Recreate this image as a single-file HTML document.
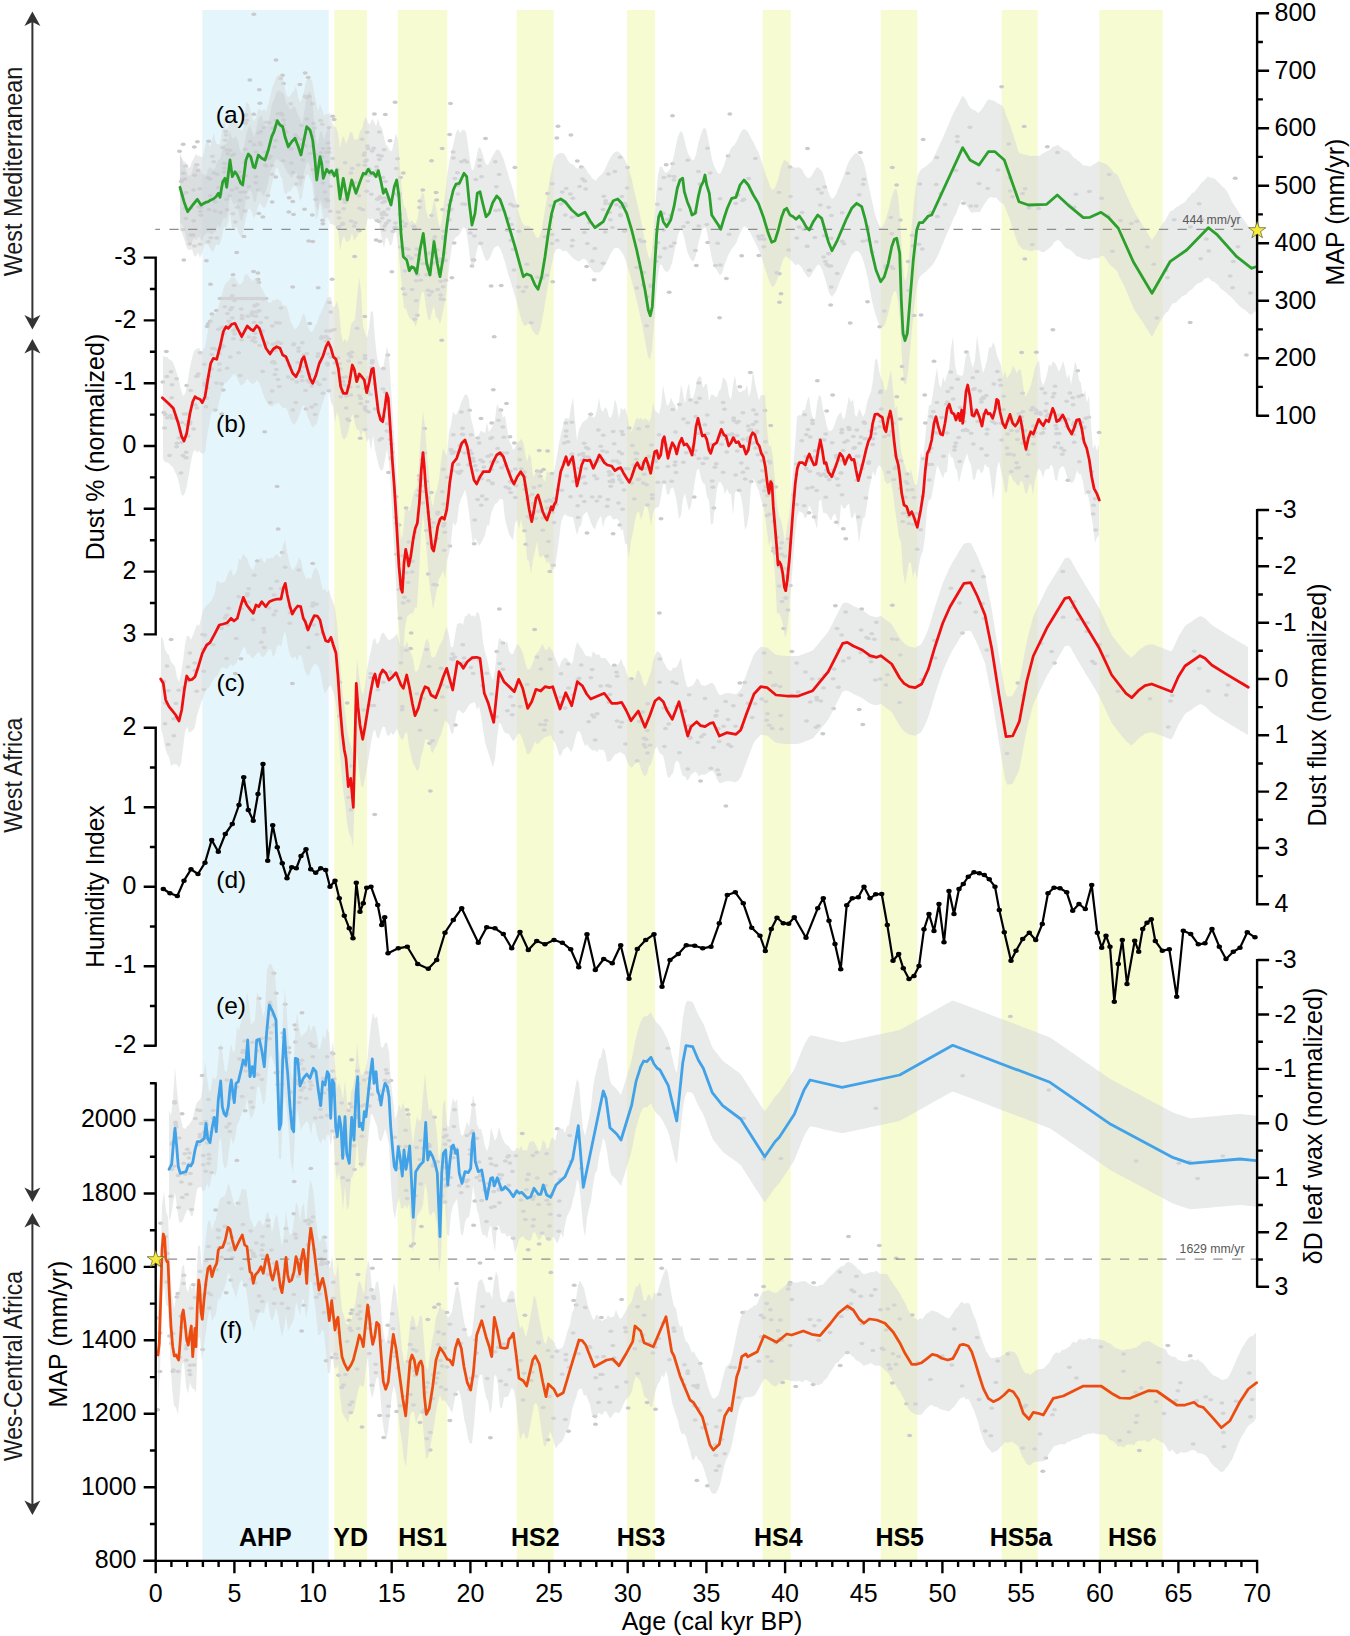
<!DOCTYPE html><html><head><meta charset="utf-8"><title>Figure</title><style>html,body{margin:0;padding:0;background:#fff}svg{display:block}text{font-family:"Liberation Sans",sans-serif;fill:#000}.tk{font-size:25px}.ti{font-size:25px}.lb{font-size:24.5px}.ev{font-size:25px;font-weight:bold;text-anchor:middle}.rg{font-size:25px;fill:#1a1a1a}.sm{font-size:12.3px;fill:#585858}</style></head><body>
<svg width="1350" height="1636" viewBox="0 0 1350 1636">
<rect width="1350" height="1636" fill="#fff"/>
<rect x="202.3" y="10" width="126.4" height="1550" fill="#e4f6fb"/>
<rect x="334.3" y="10" width="32.7" height="1550" fill="#f7fbd2"/>
<rect x="397.7" y="10" width="49.6" height="1550" fill="#f7fbd2"/>
<rect x="516.7" y="10" width="37" height="1550" fill="#f7fbd2"/>
<rect x="627" y="10" width="28" height="1550" fill="#f7fbd2"/>
<rect x="762.7" y="10" width="28" height="1550" fill="#f7fbd2"/>
<rect x="880.7" y="10" width="36.6" height="1550" fill="#f7fbd2"/>
<rect x="1001.7" y="10" width="36" height="1550" fill="#f7fbd2"/>
<rect x="1099.3" y="10" width="63.4" height="1550" fill="#f7fbd2"/>
<g fill="#cacacd"><ellipse cx="511.4" cy="224.4" rx="2.5" ry="1.75"/><ellipse cx="275.9" cy="140.4" rx="2.5" ry="1.75"/><ellipse cx="698.7" cy="225.9" rx="2.5" ry="1.75"/><ellipse cx="743.9" cy="199.3" rx="2.5" ry="1.75"/><ellipse cx="306.4" cy="97.5" rx="2.5" ry="1.75"/><ellipse cx="778.9" cy="192.5" rx="2.5" ry="1.75"/><ellipse cx="227.1" cy="209.7" rx="2.5" ry="1.75"/><ellipse cx="763.8" cy="246.8" rx="2.5" ry="1.75"/><ellipse cx="364.6" cy="152.9" rx="2.5" ry="1.75"/><ellipse cx="908.6" cy="290.4" rx="2.5" ry="1.75"/><ellipse cx="390" cy="140.7" rx="2.5" ry="1.75"/><ellipse cx="643.9" cy="272.6" rx="2.5" ry="1.75"/><ellipse cx="364.2" cy="175.3" rx="2.5" ry="1.75"/><ellipse cx="531.2" cy="322.7" rx="2.5" ry="1.75"/><ellipse cx="253.6" cy="114.3" rx="2.5" ry="1.75"/><ellipse cx="679.9" cy="209.8" rx="2.5" ry="1.75"/><ellipse cx="259.3" cy="89.8" rx="2.5" ry="1.75"/><ellipse cx="890.9" cy="217.5" rx="2.5" ry="1.75"/><ellipse cx="646.6" cy="325.8" rx="2.5" ry="1.75"/><ellipse cx="245.6" cy="175.8" rx="2.5" ry="1.75"/><ellipse cx="842.1" cy="212.8" rx="2.5" ry="1.75"/><ellipse cx="863.8" cy="179.3" rx="2.5" ry="1.75"/><ellipse cx="542.7" cy="278" rx="2.5" ry="1.75"/><ellipse cx="312.2" cy="145.9" rx="2.5" ry="1.75"/><ellipse cx="687.6" cy="160.2" rx="2.5" ry="1.75"/><ellipse cx="620.4" cy="215.8" rx="2.5" ry="1.75"/><ellipse cx="605.5" cy="203.5" rx="2.5" ry="1.75"/><ellipse cx="263.7" cy="127.4" rx="2.5" ry="1.75"/><ellipse cx="417.5" cy="275.1" rx="2.5" ry="1.75"/><ellipse cx="328.9" cy="152.3" rx="2.5" ry="1.75"/><ellipse cx="758.8" cy="255.4" rx="2.5" ry="1.75"/><ellipse cx="850.2" cy="322.9" rx="2.5" ry="1.75"/><ellipse cx="876.3" cy="241.7" rx="2.5" ry="1.75"/><ellipse cx="828.9" cy="266" rx="2.5" ry="1.75"/><ellipse cx="392.9" cy="231.6" rx="2.5" ry="1.75"/><ellipse cx="759.7" cy="238.9" rx="2.5" ry="1.75"/><ellipse cx="552.1" cy="234.4" rx="2.5" ry="1.75"/><ellipse cx="828.8" cy="253.8" rx="2.5" ry="1.75"/><ellipse cx="552" cy="243.4" rx="2.5" ry="1.75"/><ellipse cx="671" cy="246.3" rx="2.5" ry="1.75"/><ellipse cx="284.2" cy="129.9" rx="2.5" ry="1.75"/><ellipse cx="707.5" cy="148.2" rx="2.5" ry="1.75"/><ellipse cx="719.9" cy="198.8" rx="2.5" ry="1.75"/><ellipse cx="485.5" cy="138.5" rx="2.5" ry="1.75"/><ellipse cx="892.3" cy="167.6" rx="2.5" ry="1.75"/><ellipse cx="408" cy="256.3" rx="2.5" ry="1.75"/><ellipse cx="517.1" cy="205.9" rx="2.5" ry="1.75"/><ellipse cx="379.3" cy="132" rx="2.5" ry="1.75"/><ellipse cx="937.3" cy="216.4" rx="2.5" ry="1.75"/><ellipse cx="208.3" cy="241.7" rx="2.5" ry="1.75"/><ellipse cx="378.2" cy="209.3" rx="2.5" ry="1.75"/><ellipse cx="537.5" cy="277.3" rx="2.5" ry="1.75"/><ellipse cx="404.6" cy="226.2" rx="2.5" ry="1.75"/><ellipse cx="804.3" cy="229.2" rx="2.5" ry="1.75"/><ellipse cx="847.8" cy="173.2" rx="2.5" ry="1.75"/><ellipse cx="577.3" cy="161.1" rx="2.5" ry="1.75"/><ellipse cx="669.4" cy="176" rx="2.5" ry="1.75"/><ellipse cx="918.9" cy="244.2" rx="2.5" ry="1.75"/><ellipse cx="266.2" cy="166" rx="2.5" ry="1.75"/><ellipse cx="656.3" cy="261.2" rx="2.5" ry="1.75"/><ellipse cx="790.5" cy="196.6" rx="2.5" ry="1.75"/><ellipse cx="313.5" cy="123.5" rx="2.5" ry="1.75"/><ellipse cx="923.1" cy="139.6" rx="2.5" ry="1.75"/><ellipse cx="379.3" cy="159.5" rx="2.5" ry="1.75"/><ellipse cx="436.7" cy="200" rx="2.5" ry="1.75"/><ellipse cx="736.9" cy="193.8" rx="2.5" ry="1.75"/><ellipse cx="936.9" cy="157.4" rx="2.5" ry="1.75"/><ellipse cx="610.3" cy="219.7" rx="2.5" ry="1.75"/><ellipse cx="313" cy="135.9" rx="2.5" ry="1.75"/><ellipse cx="367.1" cy="170.6" rx="2.5" ry="1.75"/><ellipse cx="332.7" cy="116.3" rx="2.5" ry="1.75"/><ellipse cx="513.2" cy="249.6" rx="2.5" ry="1.75"/><ellipse cx="674.3" cy="242.9" rx="2.5" ry="1.75"/><ellipse cx="462.5" cy="204" rx="2.5" ry="1.75"/><ellipse cx="643.1" cy="285" rx="2.5" ry="1.75"/><ellipse cx="807.5" cy="148.4" rx="2.5" ry="1.75"/><ellipse cx="384.2" cy="149.7" rx="2.5" ry="1.75"/><ellipse cx="433.2" cy="263.1" rx="2.5" ry="1.75"/><ellipse cx="445.4" cy="260.6" rx="2.5" ry="1.75"/><ellipse cx="605.6" cy="200.7" rx="2.5" ry="1.75"/><ellipse cx="254.2" cy="144.7" rx="2.5" ry="1.75"/><ellipse cx="305.4" cy="145.8" rx="2.5" ry="1.75"/><ellipse cx="913.1" cy="245.7" rx="2.5" ry="1.75"/><ellipse cx="657.7" cy="242.7" rx="2.5" ry="1.75"/><ellipse cx="587.4" cy="243.5" rx="2.5" ry="1.75"/><ellipse cx="902.9" cy="379" rx="2.5" ry="1.75"/><ellipse cx="526.9" cy="264.3" rx="2.5" ry="1.75"/><ellipse cx="526.1" cy="286.9" rx="2.5" ry="1.75"/><ellipse cx="197.9" cy="170.4" rx="2.5" ry="1.75"/><ellipse cx="295.5" cy="135" rx="2.5" ry="1.75"/><ellipse cx="286.6" cy="131.9" rx="2.5" ry="1.75"/><ellipse cx="312.3" cy="215" rx="2.5" ry="1.75"/><ellipse cx="872.3" cy="252" rx="2.5" ry="1.75"/><ellipse cx="764" cy="239.3" rx="2.5" ry="1.75"/><ellipse cx="464.6" cy="160.2" rx="2.5" ry="1.75"/><ellipse cx="197.1" cy="164.7" rx="2.5" ry="1.75"/><ellipse cx="265.1" cy="164.9" rx="2.5" ry="1.75"/><ellipse cx="190.8" cy="235" rx="2.5" ry="1.75"/><ellipse cx="454.1" cy="243" rx="2.5" ry="1.75"/><ellipse cx="344.8" cy="202.5" rx="2.5" ry="1.75"/><ellipse cx="499.1" cy="174.4" rx="2.5" ry="1.75"/><ellipse cx="867.7" cy="227.1" rx="2.5" ry="1.75"/><ellipse cx="198.5" cy="207.1" rx="2.5" ry="1.75"/><ellipse cx="374" cy="175.3" rx="2.5" ry="1.75"/><ellipse cx="636.6" cy="267.6" rx="2.5" ry="1.75"/><ellipse cx="582.5" cy="179.1" rx="2.5" ry="1.75"/><ellipse cx="400.5" cy="177.6" rx="2.5" ry="1.75"/><ellipse cx="830.6" cy="305" rx="2.5" ry="1.75"/><ellipse cx="235.3" cy="221.9" rx="2.5" ry="1.75"/><ellipse cx="620.7" cy="207.1" rx="2.5" ry="1.75"/><ellipse cx="570.4" cy="193.9" rx="2.5" ry="1.75"/><ellipse cx="479.5" cy="165.9" rx="2.5" ry="1.75"/><ellipse cx="454.9" cy="178.6" rx="2.5" ry="1.75"/><ellipse cx="739.8" cy="386.7" rx="2.5" ry="1.75"/><ellipse cx="495.7" cy="210.4" rx="2.5" ry="1.75"/><ellipse cx="465" cy="204.3" rx="2.5" ry="1.75"/><ellipse cx="696.3" cy="265.5" rx="2.5" ry="1.75"/><ellipse cx="779.5" cy="302.2" rx="2.5" ry="1.75"/><ellipse cx="491.1" cy="286.1" rx="2.5" ry="1.75"/><ellipse cx="338.2" cy="227.4" rx="2.5" ry="1.75"/><ellipse cx="789.9" cy="167.1" rx="2.5" ry="1.75"/><ellipse cx="921.1" cy="315.1" rx="2.5" ry="1.75"/><ellipse cx="912.4" cy="235.2" rx="2.5" ry="1.75"/><ellipse cx="322.4" cy="124.3" rx="2.5" ry="1.75"/><ellipse cx="762.3" cy="235.8" rx="2.5" ry="1.75"/><ellipse cx="908.2" cy="261.6" rx="2.5" ry="1.75"/><ellipse cx="414.6" cy="319.3" rx="2.5" ry="1.75"/><ellipse cx="565.3" cy="215" rx="2.5" ry="1.75"/><ellipse cx="821.5" cy="193.1" rx="2.5" ry="1.75"/><ellipse cx="647.3" cy="296.7" rx="2.5" ry="1.75"/><ellipse cx="695.4" cy="250.4" rx="2.5" ry="1.75"/><ellipse cx="664.8" cy="248.2" rx="2.5" ry="1.75"/><ellipse cx="450.7" cy="200.6" rx="2.5" ry="1.75"/><ellipse cx="651" cy="286.6" rx="2.5" ry="1.75"/><ellipse cx="670.4" cy="218.5" rx="2.5" ry="1.75"/><ellipse cx="382.6" cy="202.5" rx="2.5" ry="1.75"/><ellipse cx="440.2" cy="259.1" rx="2.5" ry="1.75"/><ellipse cx="672.6" cy="163.7" rx="2.5" ry="1.75"/><ellipse cx="867.6" cy="240.3" rx="2.5" ry="1.75"/><ellipse cx="472" cy="265.9" rx="2.5" ry="1.75"/><ellipse cx="301.5" cy="125.4" rx="2.5" ry="1.75"/><ellipse cx="663.5" cy="213.2" rx="2.5" ry="1.75"/><ellipse cx="698.5" cy="171.5" rx="2.5" ry="1.75"/><ellipse cx="394.6" cy="193.7" rx="2.5" ry="1.75"/><ellipse cx="945" cy="204.4" rx="2.5" ry="1.75"/><ellipse cx="699.8" cy="183.9" rx="2.5" ry="1.75"/><ellipse cx="552.7" cy="281.8" rx="2.5" ry="1.75"/><ellipse cx="183.4" cy="173.2" rx="2.5" ry="1.75"/><ellipse cx="594.8" cy="248.6" rx="2.5" ry="1.75"/><ellipse cx="518.5" cy="286.9" rx="2.5" ry="1.75"/><ellipse cx="586.6" cy="266.6" rx="2.5" ry="1.75"/><ellipse cx="475.8" cy="179.4" rx="2.5" ry="1.75"/><ellipse cx="579.5" cy="186.5" rx="2.5" ry="1.75"/><ellipse cx="461.4" cy="161.7" rx="2.5" ry="1.75"/><ellipse cx="232.3" cy="155.6" rx="2.5" ry="1.75"/><ellipse cx="451.9" cy="277.7" rx="2.5" ry="1.75"/><ellipse cx="562.3" cy="192" rx="2.5" ry="1.75"/><ellipse cx="589.4" cy="222.8" rx="2.5" ry="1.75"/><ellipse cx="741.7" cy="255.8" rx="2.5" ry="1.75"/><ellipse cx="809.3" cy="270.3" rx="2.5" ry="1.75"/><ellipse cx="473" cy="259.8" rx="2.5" ry="1.75"/><ellipse cx="603.8" cy="196.3" rx="2.5" ry="1.75"/><ellipse cx="936.2" cy="184.5" rx="2.5" ry="1.75"/><ellipse cx="674.1" cy="176.6" rx="2.5" ry="1.75"/><ellipse cx="351.1" cy="220.9" rx="2.5" ry="1.75"/><ellipse cx="742.7" cy="200.6" rx="2.5" ry="1.75"/><ellipse cx="639.9" cy="239.8" rx="2.5" ry="1.75"/><ellipse cx="748.6" cy="178.4" rx="2.5" ry="1.75"/><ellipse cx="444.3" cy="252.8" rx="2.5" ry="1.75"/><ellipse cx="571.9" cy="217.2" rx="2.5" ry="1.75"/><ellipse cx="564.8" cy="202.2" rx="2.5" ry="1.75"/><ellipse cx="547.6" cy="193.4" rx="2.5" ry="1.75"/><ellipse cx="824.3" cy="235.7" rx="2.5" ry="1.75"/><ellipse cx="572.9" cy="198.2" rx="2.5" ry="1.75"/><ellipse cx="499.3" cy="209.9" rx="2.5" ry="1.75"/><ellipse cx="906.3" cy="332.1" rx="2.5" ry="1.75"/><ellipse cx="781" cy="293.8" rx="2.5" ry="1.75"/><ellipse cx="720.4" cy="264.9" rx="2.5" ry="1.75"/><ellipse cx="434.3" cy="245.1" rx="2.5" ry="1.75"/><ellipse cx="291.4" cy="163.1" rx="2.5" ry="1.75"/><ellipse cx="842.3" cy="241.2" rx="2.5" ry="1.75"/><ellipse cx="181.3" cy="181.6" rx="2.5" ry="1.75"/><ellipse cx="218.1" cy="187.6" rx="2.5" ry="1.75"/><ellipse cx="830.9" cy="266" rx="2.5" ry="1.75"/><ellipse cx="280.6" cy="78.6" rx="2.5" ry="1.75"/><ellipse cx="408.3" cy="249.3" rx="2.5" ry="1.75"/><ellipse cx="729.8" cy="114" rx="2.5" ry="1.75"/><ellipse cx="428" cy="290.2" rx="2.5" ry="1.75"/><ellipse cx="431.5" cy="160.8" rx="2.5" ry="1.75"/><ellipse cx="378" cy="199" rx="2.5" ry="1.75"/><ellipse cx="609.6" cy="212.6" rx="2.5" ry="1.75"/><ellipse cx="683.5" cy="226.5" rx="2.5" ry="1.75"/><ellipse cx="609.9" cy="204" rx="2.5" ry="1.75"/><ellipse cx="695.6" cy="212.2" rx="2.5" ry="1.75"/><ellipse cx="384.8" cy="201.6" rx="2.5" ry="1.75"/><ellipse cx="481.6" cy="176.8" rx="2.5" ry="1.75"/><ellipse cx="803.7" cy="229.3" rx="2.5" ry="1.75"/><ellipse cx="788.6" cy="249.9" rx="2.5" ry="1.75"/><ellipse cx="397.5" cy="158.8" rx="2.5" ry="1.75"/><ellipse cx="367.9" cy="148.7" rx="2.5" ry="1.75"/><ellipse cx="501.2" cy="285.5" rx="2.5" ry="1.75"/><ellipse cx="369.2" cy="169" rx="2.5" ry="1.75"/><ellipse cx="657.5" cy="204.2" rx="2.5" ry="1.75"/><ellipse cx="518.9" cy="231.2" rx="2.5" ry="1.75"/><ellipse cx="259.8" cy="103.2" rx="2.5" ry="1.75"/><ellipse cx="391.9" cy="271.7" rx="2.5" ry="1.75"/><ellipse cx="496.3" cy="186.7" rx="2.5" ry="1.75"/><ellipse cx="561" cy="203.9" rx="2.5" ry="1.75"/><ellipse cx="510.9" cy="240.5" rx="2.5" ry="1.75"/><ellipse cx="820.3" cy="205.1" rx="2.5" ry="1.75"/><ellipse cx="215" cy="201.8" rx="2.5" ry="1.75"/><ellipse cx="244.4" cy="162.8" rx="2.5" ry="1.75"/><ellipse cx="457.8" cy="193.9" rx="2.5" ry="1.75"/><ellipse cx="885.8" cy="268" rx="2.5" ry="1.75"/><ellipse cx="183.2" cy="144.3" rx="2.5" ry="1.75"/><ellipse cx="245.5" cy="123.2" rx="2.5" ry="1.75"/><ellipse cx="666.2" cy="164.8" rx="2.5" ry="1.75"/><ellipse cx="620.3" cy="214.8" rx="2.5" ry="1.75"/><ellipse cx="687.7" cy="222.5" rx="2.5" ry="1.75"/><ellipse cx="334.1" cy="119.6" rx="2.5" ry="1.75"/><ellipse cx="507" cy="230.2" rx="2.5" ry="1.75"/><ellipse cx="581.3" cy="167" rx="2.5" ry="1.75"/><ellipse cx="246.1" cy="115.1" rx="2.5" ry="1.75"/><ellipse cx="616.4" cy="204.8" rx="2.5" ry="1.75"/><ellipse cx="451.1" cy="209.3" rx="2.5" ry="1.75"/><ellipse cx="636.7" cy="287.9" rx="2.5" ry="1.75"/><ellipse cx="651.1" cy="285.2" rx="2.5" ry="1.75"/><ellipse cx="860.3" cy="152.5" rx="2.5" ry="1.75"/><ellipse cx="479.8" cy="159.9" rx="2.5" ry="1.75"/><ellipse cx="382.9" cy="177.5" rx="2.5" ry="1.75"/><ellipse cx="420.7" cy="280.3" rx="2.5" ry="1.75"/><ellipse cx="584.8" cy="180.9" rx="2.5" ry="1.75"/><ellipse cx="717.7" cy="243.3" rx="2.5" ry="1.75"/><ellipse cx="283.5" cy="83.5" rx="2.5" ry="1.75"/><ellipse cx="416.3" cy="280.8" rx="2.5" ry="1.75"/><ellipse cx="301.6" cy="144.7" rx="2.5" ry="1.75"/><ellipse cx="776.7" cy="272.7" rx="2.5" ry="1.75"/><ellipse cx="796.8" cy="238" rx="2.5" ry="1.75"/><ellipse cx="185.6" cy="165.9" rx="2.5" ry="1.75"/><ellipse cx="556.8" cy="138.1" rx="2.5" ry="1.75"/><ellipse cx="440.5" cy="261.8" rx="2.5" ry="1.75"/><ellipse cx="514.9" cy="167.4" rx="2.5" ry="1.75"/><ellipse cx="814.8" cy="237.6" rx="2.5" ry="1.75"/><ellipse cx="243.9" cy="236.4" rx="2.5" ry="1.75"/><ellipse cx="859.1" cy="194.8" rx="2.5" ry="1.75"/><ellipse cx="891.8" cy="233.7" rx="2.5" ry="1.75"/><ellipse cx="862.8" cy="241.2" rx="2.5" ry="1.75"/><ellipse cx="544.9" cy="236.8" rx="2.5" ry="1.75"/><ellipse cx="552.1" cy="183.8" rx="2.5" ry="1.75"/><ellipse cx="624.4" cy="231.3" rx="2.5" ry="1.75"/><ellipse cx="271.9" cy="165.6" rx="2.5" ry="1.75"/><ellipse cx="194.6" cy="175.3" rx="2.5" ry="1.75"/><ellipse cx="585.6" cy="189.1" rx="2.5" ry="1.75"/><ellipse cx="328.8" cy="148.2" rx="2.5" ry="1.75"/><ellipse cx="355.4" cy="222.7" rx="2.5" ry="1.75"/><ellipse cx="381.8" cy="213.1" rx="2.5" ry="1.75"/><ellipse cx="224.5" cy="167.9" rx="2.5" ry="1.75"/><ellipse cx="576.6" cy="215.8" rx="2.5" ry="1.75"/><ellipse cx="884.3" cy="310.9" rx="2.5" ry="1.75"/><ellipse cx="594.1" cy="279.7" rx="2.5" ry="1.75"/><ellipse cx="663.7" cy="229.9" rx="2.5" ry="1.75"/><ellipse cx="571.9" cy="245.9" rx="2.5" ry="1.75"/><ellipse cx="922.3" cy="249" rx="2.5" ry="1.75"/><ellipse cx="867.5" cy="301.7" rx="2.5" ry="1.75"/><ellipse cx="299.9" cy="84.6" rx="2.5" ry="1.75"/><ellipse cx="843.9" cy="243.8" rx="2.5" ry="1.75"/><ellipse cx="614.9" cy="171.4" rx="2.5" ry="1.75"/><ellipse cx="183.1" cy="229.6" rx="2.5" ry="1.75"/><ellipse cx="419.9" cy="201.1" rx="2.5" ry="1.75"/><ellipse cx="663.9" cy="177.5" rx="2.5" ry="1.75"/><ellipse cx="546.9" cy="275.3" rx="2.5" ry="1.75"/><ellipse cx="220.5" cy="212.6" rx="2.5" ry="1.75"/><ellipse cx="930.8" cy="212.5" rx="2.5" ry="1.75"/><ellipse cx="566.2" cy="188.5" rx="2.5" ry="1.75"/><ellipse cx="206.4" cy="260.8" rx="2.5" ry="1.75"/><ellipse cx="377.6" cy="170.1" rx="2.5" ry="1.75"/><ellipse cx="474.5" cy="235.9" rx="2.5" ry="1.75"/><ellipse cx="405.6" cy="248.4" rx="2.5" ry="1.75"/><ellipse cx="437.7" cy="289.6" rx="2.5" ry="1.75"/><ellipse cx="326.8" cy="152.3" rx="2.5" ry="1.75"/><ellipse cx="670.7" cy="215.2" rx="2.5" ry="1.75"/><ellipse cx="216.7" cy="237.9" rx="2.5" ry="1.75"/><ellipse cx="831.4" cy="215.5" rx="2.5" ry="1.75"/><ellipse cx="449.6" cy="134.5" rx="2.5" ry="1.75"/><ellipse cx="831.4" cy="286.9" rx="2.5" ry="1.75"/><ellipse cx="885.4" cy="266.1" rx="2.5" ry="1.75"/><ellipse cx="728.1" cy="156.1" rx="2.5" ry="1.75"/><ellipse cx="557.1" cy="240.4" rx="2.5" ry="1.75"/><ellipse cx="262.9" cy="217" rx="2.5" ry="1.75"/><ellipse cx="707.8" cy="242.4" rx="2.5" ry="1.75"/><ellipse cx="779.4" cy="273.7" rx="2.5" ry="1.75"/><ellipse cx="405.6" cy="223.7" rx="2.5" ry="1.75"/><ellipse cx="621.9" cy="196.6" rx="2.5" ry="1.75"/><ellipse cx="807.2" cy="246.3" rx="2.5" ry="1.75"/><ellipse cx="182.1" cy="180" rx="2.5" ry="1.75"/><ellipse cx="603.1" cy="263.2" rx="2.5" ry="1.75"/><ellipse cx="388.9" cy="220.8" rx="2.5" ry="1.75"/><ellipse cx="429.2" cy="252.9" rx="2.5" ry="1.75"/><ellipse cx="245.1" cy="210.9" rx="2.5" ry="1.75"/><ellipse cx="450.5" cy="103.6" rx="2.5" ry="1.75"/><ellipse cx="755.4" cy="158.6" rx="2.5" ry="1.75"/><ellipse cx="710.2" cy="173" rx="2.5" ry="1.75"/><ellipse cx="179.5" cy="151.3" rx="2.5" ry="1.75"/><ellipse cx="239.4" cy="171.9" rx="2.5" ry="1.75"/><ellipse cx="807.1" cy="246.3" rx="2.5" ry="1.75"/><ellipse cx="802.1" cy="212.5" rx="2.5" ry="1.75"/><ellipse cx="605.3" cy="232.1" rx="2.5" ry="1.75"/><ellipse cx="229.5" cy="195.8" rx="2.5" ry="1.75"/><ellipse cx="669.2" cy="292.2" rx="2.5" ry="1.75"/><ellipse cx="655.6" cy="247.5" rx="2.5" ry="1.75"/><ellipse cx="358.7" cy="230" rx="2.5" ry="1.75"/><ellipse cx="523.4" cy="291.6" rx="2.5" ry="1.75"/><ellipse cx="449.2" cy="205.2" rx="2.5" ry="1.75"/><ellipse cx="715.5" cy="265.5" rx="2.5" ry="1.75"/><ellipse cx="401.6" cy="221.4" rx="2.5" ry="1.75"/><ellipse cx="940.7" cy="193.7" rx="2.5" ry="1.75"/><ellipse cx="513.7" cy="206" rx="2.5" ry="1.75"/><ellipse cx="825.4" cy="261.4" rx="2.5" ry="1.75"/><ellipse cx="729" cy="234.2" rx="2.5" ry="1.75"/><ellipse cx="627.5" cy="167.4" rx="2.5" ry="1.75"/><ellipse cx="495.3" cy="161.7" rx="2.5" ry="1.75"/><ellipse cx="354.6" cy="256.4" rx="2.5" ry="1.75"/><ellipse cx="289.1" cy="197.8" rx="2.5" ry="1.75"/><ellipse cx="210.5" cy="284.2" rx="2.5" ry="1.75"/><ellipse cx="828.5" cy="253.4" rx="2.5" ry="1.75"/><ellipse cx="551.7" cy="216.8" rx="2.5" ry="1.75"/><ellipse cx="726.4" cy="278.6" rx="2.5" ry="1.75"/><ellipse cx="572.6" cy="240.3" rx="2.5" ry="1.75"/><ellipse cx="293.5" cy="214.5" rx="2.5" ry="1.75"/><ellipse cx="269.3" cy="122.5" rx="2.5" ry="1.75"/><ellipse cx="474" cy="260.1" rx="2.5" ry="1.75"/><ellipse cx="480.8" cy="243.3" rx="2.5" ry="1.75"/><ellipse cx="200.9" cy="215.3" rx="2.5" ry="1.75"/><ellipse cx="508.3" cy="218.5" rx="2.5" ry="1.75"/><ellipse cx="667.4" cy="219.5" rx="2.5" ry="1.75"/><ellipse cx="626" cy="205.9" rx="2.5" ry="1.75"/><ellipse cx="660.2" cy="188.9" rx="2.5" ry="1.75"/><ellipse cx="273.1" cy="127.9" rx="2.5" ry="1.75"/><ellipse cx="625.5" cy="230.1" rx="2.5" ry="1.75"/><ellipse cx="183.8" cy="259.9" rx="2.5" ry="1.75"/><ellipse cx="891.3" cy="266.8" rx="2.5" ry="1.75"/><ellipse cx="706.8" cy="224.6" rx="2.5" ry="1.75"/><ellipse cx="470.3" cy="232.9" rx="2.5" ry="1.75"/><ellipse cx="831.3" cy="238.3" rx="2.5" ry="1.75"/><ellipse cx="893.1" cy="268.4" rx="2.5" ry="1.75"/><ellipse cx="584.4" cy="232.4" rx="2.5" ry="1.75"/><ellipse cx="612.4" cy="227.5" rx="2.5" ry="1.75"/><ellipse cx="738" cy="195" rx="2.5" ry="1.75"/><ellipse cx="824.7" cy="187" rx="2.5" ry="1.75"/><ellipse cx="799.1" cy="227.1" rx="2.5" ry="1.75"/><ellipse cx="514" cy="269.9" rx="2.5" ry="1.75"/><ellipse cx="510.7" cy="204.3" rx="2.5" ry="1.75"/><ellipse cx="443.1" cy="286.8" rx="2.5" ry="1.75"/><ellipse cx="423" cy="263.5" rx="2.5" ry="1.75"/><ellipse cx="900.3" cy="219.9" rx="2.5" ry="1.75"/><ellipse cx="919.8" cy="183.9" rx="2.5" ry="1.75"/><ellipse cx="343.7" cy="208.7" rx="2.5" ry="1.75"/><ellipse cx="283.7" cy="124.7" rx="2.5" ry="1.75"/><ellipse cx="379.9" cy="241.3" rx="2.5" ry="1.75"/><ellipse cx="624.8" cy="203.5" rx="2.5" ry="1.75"/><ellipse cx="288.8" cy="212.1" rx="2.5" ry="1.75"/><ellipse cx="627.2" cy="187.9" rx="2.5" ry="1.75"/><ellipse cx="826.8" cy="264.5" rx="2.5" ry="1.75"/><ellipse cx="185.2" cy="208.2" rx="2.5" ry="1.75"/><ellipse cx="620.2" cy="157.2" rx="2.5" ry="1.75"/><ellipse cx="863.2" cy="184.2" rx="2.5" ry="1.75"/><ellipse cx="837.2" cy="273.5" rx="2.5" ry="1.75"/><ellipse cx="643.9" cy="241.6" rx="2.5" ry="1.75"/><ellipse cx="896.6" cy="185" rx="2.5" ry="1.75"/><ellipse cx="823.7" cy="256.9" rx="2.5" ry="1.75"/><ellipse cx="674" cy="180" rx="2.5" ry="1.75"/><ellipse cx="367.4" cy="146.1" rx="2.5" ry="1.75"/><ellipse cx="735.7" cy="203.6" rx="2.5" ry="1.75"/><ellipse cx="384" cy="230.1" rx="2.5" ry="1.75"/><ellipse cx="914" cy="315.4" rx="2.5" ry="1.75"/><ellipse cx="558" cy="126.2" rx="2.5" ry="1.75"/><ellipse cx="879.7" cy="326.7" rx="2.5" ry="1.75"/><ellipse cx="305.2" cy="96.3" rx="2.5" ry="1.75"/><ellipse cx="570.9" cy="135.1" rx="2.5" ry="1.75"/><ellipse cx="608.4" cy="174.1" rx="2.5" ry="1.75"/><ellipse cx="290.7" cy="103.7" rx="2.5" ry="1.75"/><ellipse cx="719.5" cy="317.8" rx="2.5" ry="1.75"/><ellipse cx="347.6" cy="193.6" rx="2.5" ry="1.75"/><ellipse cx="828.7" cy="207.3" rx="2.5" ry="1.75"/><ellipse cx="328.9" cy="127.4" rx="2.5" ry="1.75"/><ellipse cx="603" cy="209.4" rx="2.5" ry="1.75"/><ellipse cx="659.9" cy="257" rx="2.5" ry="1.75"/><ellipse cx="453.2" cy="152" rx="2.5" ry="1.75"/><ellipse cx="672.5" cy="115.8" rx="2.5" ry="1.75"/><ellipse cx="466.9" cy="162.1" rx="2.5" ry="1.75"/><ellipse cx="818.1" cy="189.2" rx="2.5" ry="1.75"/><ellipse cx="550.7" cy="205.7" rx="2.5" ry="1.75"/><ellipse cx="758.4" cy="236.3" rx="2.5" ry="1.75"/><ellipse cx="323" cy="148.6" rx="2.5" ry="1.75"/><ellipse cx="394.5" cy="227.8" rx="2.5" ry="1.75"/><ellipse cx="436.1" cy="192.4" rx="2.5" ry="1.75"/><ellipse cx="641.8" cy="241.6" rx="2.5" ry="1.75"/><ellipse cx="592.3" cy="260.9" rx="2.5" ry="1.75"/><ellipse cx="272.2" cy="201.9" rx="2.5" ry="1.75"/><ellipse cx="1101.7" cy="198.3" rx="2.5" ry="1.75"/><ellipse cx="1174.2" cy="219.7" rx="2.5" ry="1.75"/><ellipse cx="1009.8" cy="177.9" rx="2.5" ry="1.75"/><ellipse cx="979" cy="183.5" rx="2.5" ry="1.75"/><ellipse cx="1200.7" cy="258.7" rx="2.5" ry="1.75"/><ellipse cx="1032.3" cy="244.4" rx="2.5" ry="1.75"/><ellipse cx="1238" cy="246.7" rx="2.5" ry="1.75"/><ellipse cx="987.7" cy="188.6" rx="2.5" ry="1.75"/><ellipse cx="963.5" cy="203.2" rx="2.5" ry="1.75"/><ellipse cx="998" cy="170.1" rx="2.5" ry="1.75"/><ellipse cx="1022.5" cy="193.6" rx="2.5" ry="1.75"/><ellipse cx="1136.8" cy="221.2" rx="2.5" ry="1.75"/><ellipse cx="1233.3" cy="261.4" rx="2.5" ry="1.75"/><ellipse cx="1232.6" cy="287.8" rx="2.5" ry="1.75"/><ellipse cx="1131.3" cy="223.4" rx="2.5" ry="1.75"/><ellipse cx="1208.8" cy="251.1" rx="2.5" ry="1.75"/><ellipse cx="1202.3" cy="219.7" rx="2.5" ry="1.75"/><ellipse cx="1250.5" cy="293" rx="2.5" ry="1.75"/><ellipse cx="969.9" cy="127.3" rx="2.5" ry="1.75"/><ellipse cx="1153.8" cy="264.3" rx="2.5" ry="1.75"/><ellipse cx="1047.3" cy="146.8" rx="2.5" ry="1.75"/><ellipse cx="1206.4" cy="239.1" rx="2.5" ry="1.75"/><ellipse cx="1025.1" cy="188.7" rx="2.5" ry="1.75"/><ellipse cx="1057.5" cy="152.4" rx="2.5" ry="1.75"/><ellipse cx="1038.6" cy="208.5" rx="2.5" ry="1.75"/><ellipse cx="955.9" cy="170.6" rx="2.5" ry="1.75"/><ellipse cx="1108.1" cy="215.7" rx="2.5" ry="1.75"/><ellipse cx="1112.5" cy="251.3" rx="2.5" ry="1.75"/><ellipse cx="1246.4" cy="355.1" rx="2.5" ry="1.75"/><ellipse cx="1010.3" cy="190.9" rx="2.5" ry="1.75"/><ellipse cx="1156.9" cy="318" rx="2.5" ry="1.75"/><ellipse cx="1029" cy="208" rx="2.5" ry="1.75"/><ellipse cx="1001.6" cy="86.7" rx="2.5" ry="1.75"/><ellipse cx="1167.5" cy="277.8" rx="2.5" ry="1.75"/><ellipse cx="1012.5" cy="196.8" rx="2.5" ry="1.75"/><ellipse cx="1190.5" cy="227" rx="2.5" ry="1.75"/><ellipse cx="1074" cy="207.2" rx="2.5" ry="1.75"/><ellipse cx="1024.2" cy="126.5" rx="2.5" ry="1.75"/><ellipse cx="1235.2" cy="178.3" rx="2.5" ry="1.75"/><ellipse cx="976.2" cy="205.9" rx="2.5" ry="1.75"/><ellipse cx="957.4" cy="141.7" rx="2.5" ry="1.75"/><ellipse cx="1109.2" cy="174.6" rx="2.5" ry="1.75"/><ellipse cx="1199.1" cy="203.8" rx="2.5" ry="1.75"/><ellipse cx="1190.2" cy="322.4" rx="2.5" ry="1.75"/><ellipse cx="1008.9" cy="143.9" rx="2.5" ry="1.75"/><ellipse cx="1147.3" cy="247" rx="2.5" ry="1.75"/><ellipse cx="1089.3" cy="191.6" rx="2.5" ry="1.75"/><ellipse cx="1120.4" cy="220.5" rx="2.5" ry="1.75"/><ellipse cx="957.3" cy="136.5" rx="2.5" ry="1.75"/><ellipse cx="1075.9" cy="194.3" rx="2.5" ry="1.75"/><ellipse cx="1069.3" cy="205.3" rx="2.5" ry="1.75"/><ellipse cx="1165.7" cy="270.6" rx="2.5" ry="1.75"/><ellipse cx="970.8" cy="205.9" rx="2.5" ry="1.75"/><ellipse cx="1024.8" cy="259.1" rx="2.5" ry="1.75"/><ellipse cx="1230.2" cy="276.1" rx="2.5" ry="1.75"/><ellipse cx="428.3" cy="253.7" rx="2.5" ry="1.75"/><ellipse cx="298.8" cy="176.9" rx="2.5" ry="1.75"/><ellipse cx="310.1" cy="153.4" rx="2.5" ry="1.75"/><ellipse cx="377" cy="220.4" rx="2.5" ry="1.75"/><ellipse cx="298.9" cy="177.2" rx="2.5" ry="1.75"/><ellipse cx="312.4" cy="103.7" rx="2.5" ry="1.75"/><ellipse cx="275.7" cy="120.4" rx="2.5" ry="1.75"/><ellipse cx="327.9" cy="143" rx="2.5" ry="1.75"/><ellipse cx="255.7" cy="151.9" rx="2.5" ry="1.75"/><ellipse cx="431.9" cy="291.7" rx="2.5" ry="1.75"/><ellipse cx="258.8" cy="213.4" rx="2.5" ry="1.75"/><ellipse cx="323" cy="183.1" rx="2.5" ry="1.75"/><ellipse cx="428.1" cy="269" rx="2.5" ry="1.75"/><ellipse cx="322.9" cy="223.7" rx="2.5" ry="1.75"/><ellipse cx="246.8" cy="120.3" rx="2.5" ry="1.75"/><ellipse cx="282.5" cy="115" rx="2.5" ry="1.75"/><ellipse cx="369.4" cy="175.2" rx="2.5" ry="1.75"/><ellipse cx="212.4" cy="156.2" rx="2.5" ry="1.75"/><ellipse cx="225.8" cy="131.5" rx="2.5" ry="1.75"/><ellipse cx="225.5" cy="163.8" rx="2.5" ry="1.75"/><ellipse cx="260.9" cy="131.4" rx="2.5" ry="1.75"/><ellipse cx="292.7" cy="287" rx="2.5" ry="1.75"/><ellipse cx="194.3" cy="147.1" rx="2.5" ry="1.75"/><ellipse cx="442.2" cy="148.6" rx="2.5" ry="1.75"/><ellipse cx="253.8" cy="14.2" rx="2.5" ry="1.75"/><ellipse cx="281.2" cy="113.5" rx="2.5" ry="1.75"/><ellipse cx="233" cy="213.7" rx="2.5" ry="1.75"/><ellipse cx="378.6" cy="155.3" rx="2.5" ry="1.75"/><ellipse cx="253.4" cy="167.6" rx="2.5" ry="1.75"/><ellipse cx="419.2" cy="259.7" rx="2.5" ry="1.75"/><ellipse cx="291.6" cy="149" rx="2.5" ry="1.75"/><ellipse cx="371.4" cy="194.2" rx="2.5" ry="1.75"/><ellipse cx="377.3" cy="199.2" rx="2.5" ry="1.75"/><ellipse cx="411.5" cy="258.2" rx="2.5" ry="1.75"/><ellipse cx="366.6" cy="191.3" rx="2.5" ry="1.75"/><ellipse cx="208.7" cy="141.2" rx="2.5" ry="1.75"/><ellipse cx="255.8" cy="182.8" rx="2.5" ry="1.75"/><ellipse cx="258.5" cy="133" rx="2.5" ry="1.75"/><ellipse cx="313" cy="132" rx="2.5" ry="1.75"/><ellipse cx="426.6" cy="274.7" rx="2.5" ry="1.75"/><ellipse cx="288.1" cy="144.3" rx="2.5" ry="1.75"/><ellipse cx="240.8" cy="192.2" rx="2.5" ry="1.75"/><ellipse cx="302.4" cy="177.2" rx="2.5" ry="1.75"/><ellipse cx="327.9" cy="200.7" rx="2.5" ry="1.75"/><ellipse cx="253.5" cy="271.6" rx="2.5" ry="1.75"/><ellipse cx="438.8" cy="272.9" rx="2.5" ry="1.75"/><ellipse cx="448.8" cy="211.3" rx="2.5" ry="1.75"/><ellipse cx="200.4" cy="211.2" rx="2.5" ry="1.75"/><ellipse cx="272" cy="174.2" rx="2.5" ry="1.75"/><ellipse cx="268.7" cy="158.6" rx="2.5" ry="1.75"/><ellipse cx="433.3" cy="256.1" rx="2.5" ry="1.75"/><ellipse cx="250.1" cy="141.5" rx="2.5" ry="1.75"/><ellipse cx="282.5" cy="75.2" rx="2.5" ry="1.75"/><ellipse cx="445.9" cy="230.9" rx="2.5" ry="1.75"/><ellipse cx="350.8" cy="173.1" rx="2.5" ry="1.75"/><ellipse cx="431.6" cy="215.4" rx="2.5" ry="1.75"/><ellipse cx="315.7" cy="199.4" rx="2.5" ry="1.75"/><ellipse cx="366.5" cy="160.1" rx="2.5" ry="1.75"/><ellipse cx="362" cy="139.2" rx="2.5" ry="1.75"/><ellipse cx="443.6" cy="236.7" rx="2.5" ry="1.75"/><ellipse cx="344.3" cy="199.6" rx="2.5" ry="1.75"/><ellipse cx="210.8" cy="237.8" rx="2.5" ry="1.75"/><ellipse cx="193" cy="235" rx="2.5" ry="1.75"/><ellipse cx="189.7" cy="243.9" rx="2.5" ry="1.75"/><ellipse cx="338.8" cy="212.3" rx="2.5" ry="1.75"/><ellipse cx="194.5" cy="246.1" rx="2.5" ry="1.75"/><ellipse cx="417" cy="249" rx="2.5" ry="1.75"/><ellipse cx="231.9" cy="189.9" rx="2.5" ry="1.75"/><ellipse cx="418" cy="274.5" rx="2.5" ry="1.75"/><ellipse cx="322.6" cy="220.3" rx="2.5" ry="1.75"/><ellipse cx="296.4" cy="183.9" rx="2.5" ry="1.75"/><ellipse cx="416.2" cy="300.7" rx="2.5" ry="1.75"/><ellipse cx="379.2" cy="221.6" rx="2.5" ry="1.75"/><ellipse cx="448.5" cy="219.4" rx="2.5" ry="1.75"/><ellipse cx="384.7" cy="188.7" rx="2.5" ry="1.75"/><ellipse cx="403.3" cy="172.9" rx="2.5" ry="1.75"/><ellipse cx="385.3" cy="114.6" rx="2.5" ry="1.75"/><ellipse cx="443.6" cy="238.8" rx="2.5" ry="1.75"/><ellipse cx="184.9" cy="179" rx="2.5" ry="1.75"/><ellipse cx="214.8" cy="211.1" rx="2.5" ry="1.75"/><ellipse cx="395.5" cy="227.3" rx="2.5" ry="1.75"/><ellipse cx="412.1" cy="289.5" rx="2.5" ry="1.75"/><ellipse cx="197.4" cy="141.7" rx="2.5" ry="1.75"/><ellipse cx="319.1" cy="166.5" rx="2.5" ry="1.75"/><ellipse cx="242" cy="176.8" rx="2.5" ry="1.75"/><ellipse cx="199.8" cy="188.7" rx="2.5" ry="1.75"/><ellipse cx="443.4" cy="299.4" rx="2.5" ry="1.75"/><ellipse cx="453.4" cy="158" rx="2.5" ry="1.75"/><ellipse cx="388.1" cy="209" rx="2.5" ry="1.75"/><ellipse cx="224.2" cy="172.1" rx="2.5" ry="1.75"/><ellipse cx="293.2" cy="172.4" rx="2.5" ry="1.75"/><ellipse cx="367" cy="132.2" rx="2.5" ry="1.75"/><ellipse cx="337.5" cy="169.3" rx="2.5" ry="1.75"/><ellipse cx="276" cy="60" rx="2.5" ry="1.75"/><ellipse cx="359.7" cy="208.3" rx="2.5" ry="1.75"/><ellipse cx="345.1" cy="162.8" rx="2.5" ry="1.75"/><ellipse cx="330.6" cy="174.2" rx="2.5" ry="1.75"/><ellipse cx="214.1" cy="173" rx="2.5" ry="1.75"/><ellipse cx="404.9" cy="294.2" rx="2.5" ry="1.75"/><ellipse cx="445.7" cy="280.2" rx="2.5" ry="1.75"/><ellipse cx="352.2" cy="168.6" rx="2.5" ry="1.75"/><ellipse cx="283.1" cy="160.8" rx="2.5" ry="1.75"/><ellipse cx="422.8" cy="190" rx="2.5" ry="1.75"/><ellipse cx="244.9" cy="192.1" rx="2.5" ry="1.75"/><ellipse cx="240" cy="200.3" rx="2.5" ry="1.75"/><ellipse cx="255.9" cy="176.7" rx="2.5" ry="1.75"/><ellipse cx="374.4" cy="114.1" rx="2.5" ry="1.75"/><ellipse cx="327.2" cy="161.8" rx="2.5" ry="1.75"/><ellipse cx="376.1" cy="240" rx="2.5" ry="1.75"/><ellipse cx="434.9" cy="236.7" rx="2.5" ry="1.75"/><ellipse cx="403.1" cy="288.7" rx="2.5" ry="1.75"/><ellipse cx="225.3" cy="140.2" rx="2.5" ry="1.75"/><ellipse cx="304.5" cy="209.3" rx="2.5" ry="1.75"/><ellipse cx="398.4" cy="196.1" rx="2.5" ry="1.75"/><ellipse cx="433.8" cy="239.8" rx="2.5" ry="1.75"/><ellipse cx="339" cy="226.5" rx="2.5" ry="1.75"/><ellipse cx="399.9" cy="214.6" rx="2.5" ry="1.75"/><ellipse cx="359" cy="195.8" rx="2.5" ry="1.75"/><ellipse cx="388.9" cy="199.5" rx="2.5" ry="1.75"/><ellipse cx="258.4" cy="190.1" rx="2.5" ry="1.75"/><ellipse cx="355.2" cy="182.6" rx="2.5" ry="1.75"/><ellipse cx="226.7" cy="150.1" rx="2.5" ry="1.75"/><ellipse cx="441.7" cy="340.3" rx="2.5" ry="1.75"/><ellipse cx="330.2" cy="211.3" rx="2.5" ry="1.75"/><ellipse cx="395.1" cy="102.3" rx="2.5" ry="1.75"/><ellipse cx="440.7" cy="294.9" rx="2.5" ry="1.75"/><ellipse cx="233.9" cy="154.3" rx="2.5" ry="1.75"/><ellipse cx="201.2" cy="207.2" rx="2.5" ry="1.75"/><ellipse cx="182.4" cy="194.7" rx="2.5" ry="1.75"/><ellipse cx="230.1" cy="150.2" rx="2.5" ry="1.75"/><ellipse cx="316.4" cy="154.7" rx="2.5" ry="1.75"/><ellipse cx="443.5" cy="231.1" rx="2.5" ry="1.75"/><ellipse cx="260" cy="142.7" rx="2.5" ry="1.75"/><ellipse cx="193.6" cy="220.8" rx="2.5" ry="1.75"/><ellipse cx="400.3" cy="247" rx="2.5" ry="1.75"/><ellipse cx="186.2" cy="192.4" rx="2.5" ry="1.75"/><ellipse cx="320.7" cy="152.7" rx="2.5" ry="1.75"/><ellipse cx="230.4" cy="170.2" rx="2.5" ry="1.75"/><ellipse cx="376.5" cy="170.6" rx="2.5" ry="1.75"/><ellipse cx="382.1" cy="217.9" rx="2.5" ry="1.75"/><ellipse cx="306.7" cy="118.9" rx="2.5" ry="1.75"/><ellipse cx="267.8" cy="195.4" rx="2.5" ry="1.75"/><ellipse cx="309.5" cy="96.2" rx="2.5" ry="1.75"/><ellipse cx="213.7" cy="161.7" rx="2.5" ry="1.75"/><ellipse cx="337.9" cy="212.1" rx="2.5" ry="1.75"/><ellipse cx="191.3" cy="208" rx="2.5" ry="1.75"/><ellipse cx="274.5" cy="146.9" rx="2.5" ry="1.75"/><ellipse cx="382.1" cy="214.5" rx="2.5" ry="1.75"/><ellipse cx="386.2" cy="214.7" rx="2.5" ry="1.75"/><ellipse cx="396.3" cy="168.5" rx="2.5" ry="1.75"/><ellipse cx="324.8" cy="191.9" rx="2.5" ry="1.75"/><ellipse cx="322.2" cy="156.8" rx="2.5" ry="1.75"/><ellipse cx="226.7" cy="199.3" rx="2.5" ry="1.75"/><ellipse cx="245.1" cy="115.2" rx="2.5" ry="1.75"/><ellipse cx="367.9" cy="180.9" rx="2.5" ry="1.75"/><ellipse cx="372.1" cy="151" rx="2.5" ry="1.75"/><ellipse cx="283.7" cy="120.1" rx="2.5" ry="1.75"/><ellipse cx="247.4" cy="197.8" rx="2.5" ry="1.75"/><ellipse cx="368" cy="169.4" rx="2.5" ry="1.75"/><ellipse cx="440.7" cy="281.3" rx="2.5" ry="1.75"/><ellipse cx="457.4" cy="172.8" rx="2.5" ry="1.75"/><ellipse cx="376.5" cy="166.8" rx="2.5" ry="1.75"/><ellipse cx="224.2" cy="163.3" rx="2.5" ry="1.75"/><ellipse cx="297.8" cy="138.3" rx="2.5" ry="1.75"/><ellipse cx="365.3" cy="161.5" rx="2.5" ry="1.75"/><ellipse cx="277.6" cy="113.7" rx="2.5" ry="1.75"/><ellipse cx="383.8" cy="212.1" rx="2.5" ry="1.75"/><ellipse cx="417.3" cy="315.2" rx="2.5" ry="1.75"/><ellipse cx="320.7" cy="120.6" rx="2.5" ry="1.75"/><ellipse cx="359.4" cy="230.8" rx="2.5" ry="1.75"/><ellipse cx="384.9" cy="197.9" rx="2.5" ry="1.75"/><ellipse cx="272.8" cy="128.4" rx="2.5" ry="1.75"/><ellipse cx="199.9" cy="244.2" rx="2.5" ry="1.75"/><ellipse cx="399.7" cy="193.8" rx="2.5" ry="1.75"/><ellipse cx="339.1" cy="218.1" rx="2.5" ry="1.75"/><ellipse cx="296.1" cy="136" rx="2.5" ry="1.75"/><ellipse cx="358.4" cy="165" rx="2.5" ry="1.75"/><ellipse cx="326.4" cy="199.3" rx="2.5" ry="1.75"/><ellipse cx="305.2" cy="73.1" rx="2.5" ry="1.75"/><ellipse cx="342.7" cy="223.3" rx="2.5" ry="1.75"/><ellipse cx="381.5" cy="156.1" rx="2.5" ry="1.75"/><ellipse cx="292.8" cy="201.6" rx="2.5" ry="1.75"/><ellipse cx="354.2" cy="226" rx="2.5" ry="1.75"/><ellipse cx="411" cy="258.7" rx="2.5" ry="1.75"/><ellipse cx="245" cy="149.3" rx="2.5" ry="1.75"/><ellipse cx="312.7" cy="169.8" rx="2.5" ry="1.75"/><ellipse cx="312.7" cy="241.4" rx="2.5" ry="1.75"/><ellipse cx="362.8" cy="209.8" rx="2.5" ry="1.75"/><ellipse cx="429.2" cy="294.9" rx="2.5" ry="1.75"/><ellipse cx="302.5" cy="139.2" rx="2.5" ry="1.75"/><ellipse cx="332.6" cy="158.4" rx="2.5" ry="1.75"/><ellipse cx="302.8" cy="160.1" rx="2.5" ry="1.75"/><ellipse cx="266.2" cy="122.3" rx="2.5" ry="1.75"/><ellipse cx="416.3" cy="255" rx="2.5" ry="1.75"/><ellipse cx="185.9" cy="218.5" rx="2.5" ry="1.75"/><ellipse cx="210.4" cy="195.7" rx="2.5" ry="1.75"/><ellipse cx="236.7" cy="188.2" rx="2.5" ry="1.75"/><ellipse cx="364.8" cy="165.2" rx="2.5" ry="1.75"/><ellipse cx="427.6" cy="264.8" rx="2.5" ry="1.75"/><ellipse cx="314.6" cy="128.1" rx="2.5" ry="1.75"/><ellipse cx="457.8" cy="185.8" rx="2.5" ry="1.75"/><ellipse cx="226.1" cy="135" rx="2.5" ry="1.75"/><ellipse cx="308.2" cy="77.5" rx="2.5" ry="1.75"/><ellipse cx="193.5" cy="190.1" rx="2.5" ry="1.75"/><ellipse cx="449.3" cy="220.1" rx="2.5" ry="1.75"/><ellipse cx="265.6" cy="152" rx="2.5" ry="1.75"/><ellipse cx="373.7" cy="148.3" rx="2.5" ry="1.75"/><ellipse cx="342.7" cy="224.5" rx="2.5" ry="1.75"/><ellipse cx="308.7" cy="241" rx="2.5" ry="1.75"/><ellipse cx="386.4" cy="223.2" rx="2.5" ry="1.75"/><ellipse cx="260.5" cy="144.8" rx="2.5" ry="1.75"/><ellipse cx="220.6" cy="193.8" rx="2.5" ry="1.75"/><ellipse cx="384.6" cy="226.1" rx="2.5" ry="1.75"/><ellipse cx="405" cy="271" rx="2.5" ry="1.75"/><ellipse cx="440.9" cy="299.1" rx="2.5" ry="1.75"/><ellipse cx="208" cy="177.8" rx="2.5" ry="1.75"/><ellipse cx="270.4" cy="156.3" rx="2.5" ry="1.75"/><ellipse cx="330.5" cy="186.3" rx="2.5" ry="1.75"/><ellipse cx="419.6" cy="207.6" rx="2.5" ry="1.75"/><ellipse cx="414.9" cy="228.7" rx="2.5" ry="1.75"/><ellipse cx="385.5" cy="181.4" rx="2.5" ry="1.75"/><ellipse cx="210.2" cy="178.9" rx="2.5" ry="1.75"/><ellipse cx="395.5" cy="223.1" rx="2.5" ry="1.75"/><ellipse cx="249.8" cy="79.9" rx="2.5" ry="1.75"/><ellipse cx="275.7" cy="177" rx="2.5" ry="1.75"/><ellipse cx="222.6" cy="147.6" rx="2.5" ry="1.75"/><ellipse cx="364" cy="155.3" rx="2.5" ry="1.75"/><ellipse cx="381.8" cy="197.9" rx="2.5" ry="1.75"/><ellipse cx="236.7" cy="252.6" rx="2.5" ry="1.75"/><ellipse cx="227.7" cy="153.8" rx="2.5" ry="1.75"/><ellipse cx="413.7" cy="226.3" rx="2.5" ry="1.75"/><ellipse cx="237.2" cy="207.2" rx="2.5" ry="1.75"/><ellipse cx="217.3" cy="174.3" rx="2.5" ry="1.75"/><ellipse cx="437.1" cy="250" rx="2.5" ry="1.75"/><ellipse cx="442.6" cy="209.5" rx="2.5" ry="1.75"/><ellipse cx="380" cy="196.7" rx="2.5" ry="1.75"/><ellipse cx="226.6" cy="180.7" rx="2.5" ry="1.75"/><ellipse cx="208.9" cy="209.6" rx="2.5" ry="1.75"/><ellipse cx="289" cy="148.2" rx="2.5" ry="1.75"/><ellipse cx="248.9" cy="186.7" rx="2.5" ry="1.75"/><ellipse cx="738.6" cy="421.6" rx="2.5" ry="1.75"/><ellipse cx="525.7" cy="488.5" rx="2.5" ry="1.75"/><ellipse cx="858.5" cy="456.2" rx="2.5" ry="1.75"/><ellipse cx="407.9" cy="556.7" rx="2.5" ry="1.75"/><ellipse cx="207.3" cy="326.5" rx="2.5" ry="1.75"/><ellipse cx="527" cy="499.3" rx="2.5" ry="1.75"/><ellipse cx="853.7" cy="448.2" rx="2.5" ry="1.75"/><ellipse cx="872.9" cy="438.7" rx="2.5" ry="1.75"/><ellipse cx="184" cy="414.1" rx="2.5" ry="1.75"/><ellipse cx="426.7" cy="481.3" rx="2.5" ry="1.75"/><ellipse cx="552.3" cy="501.7" rx="2.5" ry="1.75"/><ellipse cx="419" cy="490.5" rx="2.5" ry="1.75"/><ellipse cx="176.5" cy="378.8" rx="2.5" ry="1.75"/><ellipse cx="661" cy="518.7" rx="2.5" ry="1.75"/><ellipse cx="349.1" cy="353.7" rx="2.5" ry="1.75"/><ellipse cx="776.9" cy="537.3" rx="2.5" ry="1.75"/><ellipse cx="564.7" cy="461.9" rx="2.5" ry="1.75"/><ellipse cx="691.6" cy="447" rx="2.5" ry="1.75"/><ellipse cx="766.1" cy="486.9" rx="2.5" ry="1.75"/><ellipse cx="1000.9" cy="385.2" rx="2.5" ry="1.75"/><ellipse cx="524.8" cy="489.3" rx="2.5" ry="1.75"/><ellipse cx="657.8" cy="482.2" rx="2.5" ry="1.75"/><ellipse cx="209.1" cy="376.3" rx="2.5" ry="1.75"/><ellipse cx="309.8" cy="374.2" rx="2.5" ry="1.75"/><ellipse cx="745.1" cy="479" rx="2.5" ry="1.75"/><ellipse cx="305.5" cy="390.5" rx="2.5" ry="1.75"/><ellipse cx="1055.7" cy="425.4" rx="2.5" ry="1.75"/><ellipse cx="748.1" cy="437.9" rx="2.5" ry="1.75"/><ellipse cx="1056.3" cy="433.7" rx="2.5" ry="1.75"/><ellipse cx="235.8" cy="328.6" rx="2.5" ry="1.75"/><ellipse cx="812.7" cy="423.6" rx="2.5" ry="1.75"/><ellipse cx="894.9" cy="468.5" rx="2.5" ry="1.75"/><ellipse cx="964" cy="421.4" rx="2.5" ry="1.75"/><ellipse cx="412.3" cy="561.2" rx="2.5" ry="1.75"/><ellipse cx="1073.4" cy="430.5" rx="2.5" ry="1.75"/><ellipse cx="618.9" cy="475.9" rx="2.5" ry="1.75"/><ellipse cx="309.8" cy="323.6" rx="2.5" ry="1.75"/><ellipse cx="907.1" cy="473.9" rx="2.5" ry="1.75"/><ellipse cx="357.1" cy="328.3" rx="2.5" ry="1.75"/><ellipse cx="345.8" cy="377" rx="2.5" ry="1.75"/><ellipse cx="868.9" cy="461.7" rx="2.5" ry="1.75"/><ellipse cx="232.3" cy="318" rx="2.5" ry="1.75"/><ellipse cx="721.5" cy="444.3" rx="2.5" ry="1.75"/><ellipse cx="436.7" cy="538.6" rx="2.5" ry="1.75"/><ellipse cx="1077.1" cy="420.9" rx="2.5" ry="1.75"/><ellipse cx="825.6" cy="463.1" rx="2.5" ry="1.75"/><ellipse cx="211.6" cy="369" rx="2.5" ry="1.75"/><ellipse cx="1059.1" cy="419.7" rx="2.5" ry="1.75"/><ellipse cx="820.4" cy="439.3" rx="2.5" ry="1.75"/><ellipse cx="190.7" cy="390.4" rx="2.5" ry="1.75"/><ellipse cx="578.1" cy="517.4" rx="2.5" ry="1.75"/><ellipse cx="340.6" cy="381.2" rx="2.5" ry="1.75"/><ellipse cx="505.3" cy="465.3" rx="2.5" ry="1.75"/><ellipse cx="571.8" cy="453.9" rx="2.5" ry="1.75"/><ellipse cx="740.2" cy="446.1" rx="2.5" ry="1.75"/><ellipse cx="588.1" cy="457" rx="2.5" ry="1.75"/><ellipse cx="321.7" cy="336.8" rx="2.5" ry="1.75"/><ellipse cx="1022.6" cy="443.2" rx="2.5" ry="1.75"/><ellipse cx="765.4" cy="441.8" rx="2.5" ry="1.75"/><ellipse cx="779.1" cy="566.7" rx="2.5" ry="1.75"/><ellipse cx="652.3" cy="498.6" rx="2.5" ry="1.75"/><ellipse cx="479.2" cy="443.1" rx="2.5" ry="1.75"/><ellipse cx="533" cy="503.5" rx="2.5" ry="1.75"/><ellipse cx="297.8" cy="362.4" rx="2.5" ry="1.75"/><ellipse cx="533.7" cy="506.1" rx="2.5" ry="1.75"/><ellipse cx="573.3" cy="463.7" rx="2.5" ry="1.75"/><ellipse cx="224" cy="333.5" rx="2.5" ry="1.75"/><ellipse cx="958.7" cy="437.5" rx="2.5" ry="1.75"/><ellipse cx="344.4" cy="384.9" rx="2.5" ry="1.75"/><ellipse cx="959.7" cy="461.6" rx="2.5" ry="1.75"/><ellipse cx="1043" cy="432.8" rx="2.5" ry="1.75"/><ellipse cx="515.4" cy="469.1" rx="2.5" ry="1.75"/><ellipse cx="189.6" cy="424" rx="2.5" ry="1.75"/><ellipse cx="230.3" cy="357.1" rx="2.5" ry="1.75"/><ellipse cx="396.1" cy="496.7" rx="2.5" ry="1.75"/><ellipse cx="547.4" cy="508.1" rx="2.5" ry="1.75"/><ellipse cx="431.2" cy="526.9" rx="2.5" ry="1.75"/><ellipse cx="524.7" cy="484.9" rx="2.5" ry="1.75"/><ellipse cx="672.7" cy="409.4" rx="2.5" ry="1.75"/><ellipse cx="323" cy="393.3" rx="2.5" ry="1.75"/><ellipse cx="302.3" cy="342.7" rx="2.5" ry="1.75"/><ellipse cx="501.5" cy="467.7" rx="2.5" ry="1.75"/><ellipse cx="787.1" cy="569" rx="2.5" ry="1.75"/><ellipse cx="755.6" cy="448" rx="2.5" ry="1.75"/><ellipse cx="210.3" cy="321.2" rx="2.5" ry="1.75"/><ellipse cx="348.9" cy="420.5" rx="2.5" ry="1.75"/><ellipse cx="986.6" cy="455.3" rx="2.5" ry="1.75"/><ellipse cx="171.6" cy="397.8" rx="2.5" ry="1.75"/><ellipse cx="931.7" cy="464.4" rx="2.5" ry="1.75"/><ellipse cx="254.9" cy="305.9" rx="2.5" ry="1.75"/><ellipse cx="506.5" cy="403.6" rx="2.5" ry="1.75"/><ellipse cx="402.7" cy="577.8" rx="2.5" ry="1.75"/><ellipse cx="771.7" cy="481" rx="2.5" ry="1.75"/><ellipse cx="270.2" cy="402.5" rx="2.5" ry="1.75"/><ellipse cx="274.6" cy="363" rx="2.5" ry="1.75"/><ellipse cx="302" cy="376.4" rx="2.5" ry="1.75"/><ellipse cx="811.2" cy="458.6" rx="2.5" ry="1.75"/><ellipse cx="278" cy="379.5" rx="2.5" ry="1.75"/><ellipse cx="383.4" cy="368.6" rx="2.5" ry="1.75"/><ellipse cx="392.2" cy="452.6" rx="2.5" ry="1.75"/><ellipse cx="233.5" cy="338.8" rx="2.5" ry="1.75"/><ellipse cx="211.9" cy="313.9" rx="2.5" ry="1.75"/><ellipse cx="866.5" cy="438.5" rx="2.5" ry="1.75"/><ellipse cx="451" cy="449.5" rx="2.5" ry="1.75"/><ellipse cx="896.8" cy="396.8" rx="2.5" ry="1.75"/><ellipse cx="714.9" cy="467.2" rx="2.5" ry="1.75"/><ellipse cx="582.3" cy="460.3" rx="2.5" ry="1.75"/><ellipse cx="812.5" cy="420.2" rx="2.5" ry="1.75"/><ellipse cx="788.2" cy="539" rx="2.5" ry="1.75"/><ellipse cx="1007.7" cy="454.3" rx="2.5" ry="1.75"/><ellipse cx="1093.2" cy="514.1" rx="2.5" ry="1.75"/><ellipse cx="733.8" cy="420.5" rx="2.5" ry="1.75"/><ellipse cx="753.5" cy="409.9" rx="2.5" ry="1.75"/><ellipse cx="1036" cy="410.1" rx="2.5" ry="1.75"/><ellipse cx="1007.1" cy="447.9" rx="2.5" ry="1.75"/><ellipse cx="549.9" cy="571.4" rx="2.5" ry="1.75"/><ellipse cx="838.2" cy="485.3" rx="2.5" ry="1.75"/><ellipse cx="806.3" cy="434.8" rx="2.5" ry="1.75"/><ellipse cx="431.4" cy="492.4" rx="2.5" ry="1.75"/><ellipse cx="900.8" cy="460.8" rx="2.5" ry="1.75"/><ellipse cx="230.4" cy="309.7" rx="2.5" ry="1.75"/><ellipse cx="698.7" cy="433.6" rx="2.5" ry="1.75"/><ellipse cx="319.3" cy="384.5" rx="2.5" ry="1.75"/><ellipse cx="818.4" cy="473.6" rx="2.5" ry="1.75"/><ellipse cx="491.9" cy="437.6" rx="2.5" ry="1.75"/><ellipse cx="999.9" cy="380.1" rx="2.5" ry="1.75"/><ellipse cx="535.9" cy="518.4" rx="2.5" ry="1.75"/><ellipse cx="695.8" cy="416.6" rx="2.5" ry="1.75"/><ellipse cx="619.2" cy="451.7" rx="2.5" ry="1.75"/><ellipse cx="652.2" cy="494.7" rx="2.5" ry="1.75"/><ellipse cx="295.9" cy="402.4" rx="2.5" ry="1.75"/><ellipse cx="406.1" cy="508.1" rx="2.5" ry="1.75"/><ellipse cx="731.7" cy="434.2" rx="2.5" ry="1.75"/><ellipse cx="222.1" cy="327.2" rx="2.5" ry="1.75"/><ellipse cx="423.7" cy="491.4" rx="2.5" ry="1.75"/><ellipse cx="256" cy="316.3" rx="2.5" ry="1.75"/><ellipse cx="973.8" cy="416.4" rx="2.5" ry="1.75"/><ellipse cx="207.2" cy="379.7" rx="2.5" ry="1.75"/><ellipse cx="579.9" cy="478.3" rx="2.5" ry="1.75"/><ellipse cx="424.9" cy="452.9" rx="2.5" ry="1.75"/><ellipse cx="359.5" cy="395.8" rx="2.5" ry="1.75"/><ellipse cx="756.9" cy="431.3" rx="2.5" ry="1.75"/><ellipse cx="936.9" cy="402.4" rx="2.5" ry="1.75"/><ellipse cx="587" cy="532.9" rx="2.5" ry="1.75"/><ellipse cx="770.1" cy="462.9" rx="2.5" ry="1.75"/><ellipse cx="880.3" cy="392.6" rx="2.5" ry="1.75"/><ellipse cx="612.9" cy="481.7" rx="2.5" ry="1.75"/><ellipse cx="933.3" cy="411.6" rx="2.5" ry="1.75"/><ellipse cx="204.4" cy="364.3" rx="2.5" ry="1.75"/><ellipse cx="501.3" cy="455.4" rx="2.5" ry="1.75"/><ellipse cx="241.1" cy="309.1" rx="2.5" ry="1.75"/><ellipse cx="670.6" cy="448.3" rx="2.5" ry="1.75"/><ellipse cx="859.7" cy="443.3" rx="2.5" ry="1.75"/><ellipse cx="1045.6" cy="411" rx="2.5" ry="1.75"/><ellipse cx="579.3" cy="454.7" rx="2.5" ry="1.75"/><ellipse cx="311.8" cy="407.1" rx="2.5" ry="1.75"/><ellipse cx="713.8" cy="507.9" rx="2.5" ry="1.75"/><ellipse cx="482.9" cy="461.8" rx="2.5" ry="1.75"/><ellipse cx="1069.9" cy="393" rx="2.5" ry="1.75"/><ellipse cx="473.7" cy="461.2" rx="2.5" ry="1.75"/><ellipse cx="474.7" cy="520.1" rx="2.5" ry="1.75"/><ellipse cx="712.2" cy="481.1" rx="2.5" ry="1.75"/><ellipse cx="306.9" cy="353.4" rx="2.5" ry="1.75"/><ellipse cx="368" cy="377.7" rx="2.5" ry="1.75"/><ellipse cx="171" cy="371.8" rx="2.5" ry="1.75"/><ellipse cx="741.3" cy="463.1" rx="2.5" ry="1.75"/><ellipse cx="368.2" cy="390.9" rx="2.5" ry="1.75"/><ellipse cx="769.1" cy="461.2" rx="2.5" ry="1.75"/><ellipse cx="370.6" cy="394.4" rx="2.5" ry="1.75"/><ellipse cx="816.6" cy="490.4" rx="2.5" ry="1.75"/><ellipse cx="671.7" cy="481.2" rx="2.5" ry="1.75"/><ellipse cx="737.2" cy="450.9" rx="2.5" ry="1.75"/><ellipse cx="928.8" cy="464.5" rx="2.5" ry="1.75"/><ellipse cx="1020.7" cy="428.2" rx="2.5" ry="1.75"/><ellipse cx="638.6" cy="428.7" rx="2.5" ry="1.75"/><ellipse cx="213.9" cy="348.5" rx="2.5" ry="1.75"/><ellipse cx="864.9" cy="438.8" rx="2.5" ry="1.75"/><ellipse cx="874.6" cy="428.3" rx="2.5" ry="1.75"/><ellipse cx="1058.1" cy="442.9" rx="2.5" ry="1.75"/><ellipse cx="737.2" cy="435.5" rx="2.5" ry="1.75"/><ellipse cx="381.7" cy="438.4" rx="2.5" ry="1.75"/><ellipse cx="398.9" cy="589.6" rx="2.5" ry="1.75"/><ellipse cx="391.2" cy="443.9" rx="2.5" ry="1.75"/><ellipse cx="365" cy="380.2" rx="2.5" ry="1.75"/><ellipse cx="279.5" cy="323.1" rx="2.5" ry="1.75"/><ellipse cx="836.4" cy="522.2" rx="2.5" ry="1.75"/><ellipse cx="460" cy="445.3" rx="2.5" ry="1.75"/><ellipse cx="963" cy="430.4" rx="2.5" ry="1.75"/><ellipse cx="1046.8" cy="416.1" rx="2.5" ry="1.75"/><ellipse cx="936.6" cy="433.1" rx="2.5" ry="1.75"/><ellipse cx="1028.4" cy="454.6" rx="2.5" ry="1.75"/><ellipse cx="469.5" cy="410.3" rx="2.5" ry="1.75"/><ellipse cx="318.2" cy="287.7" rx="2.5" ry="1.75"/><ellipse cx="503.9" cy="437.3" rx="2.5" ry="1.75"/><ellipse cx="275.3" cy="350.4" rx="2.5" ry="1.75"/><ellipse cx="234.2" cy="285.4" rx="2.5" ry="1.75"/><ellipse cx="328.1" cy="354.1" rx="2.5" ry="1.75"/><ellipse cx="196.5" cy="376.3" rx="2.5" ry="1.75"/><ellipse cx="588.1" cy="448.7" rx="2.5" ry="1.75"/><ellipse cx="546.2" cy="516.1" rx="2.5" ry="1.75"/><ellipse cx="254.8" cy="305.6" rx="2.5" ry="1.75"/><ellipse cx="1057.3" cy="415.3" rx="2.5" ry="1.75"/><ellipse cx="406.6" cy="572.8" rx="2.5" ry="1.75"/><ellipse cx="711" cy="444.2" rx="2.5" ry="1.75"/><ellipse cx="206" cy="406.8" rx="2.5" ry="1.75"/><ellipse cx="364.8" cy="316.5" rx="2.5" ry="1.75"/><ellipse cx="907.4" cy="483.4" rx="2.5" ry="1.75"/><ellipse cx="1073.6" cy="434.6" rx="2.5" ry="1.75"/><ellipse cx="881.1" cy="421.5" rx="2.5" ry="1.75"/><ellipse cx="396.6" cy="554.2" rx="2.5" ry="1.75"/><ellipse cx="596.9" cy="500.9" rx="2.5" ry="1.75"/><ellipse cx="461.1" cy="471.1" rx="2.5" ry="1.75"/><ellipse cx="412.1" cy="571.9" rx="2.5" ry="1.75"/><ellipse cx="890.3" cy="416.3" rx="2.5" ry="1.75"/><ellipse cx="262.5" cy="330.9" rx="2.5" ry="1.75"/><ellipse cx="870.7" cy="431.1" rx="2.5" ry="1.75"/><ellipse cx="769.4" cy="514.2" rx="2.5" ry="1.75"/><ellipse cx="584.3" cy="501.4" rx="2.5" ry="1.75"/><ellipse cx="686.2" cy="452.8" rx="2.5" ry="1.75"/><ellipse cx="515.3" cy="497.5" rx="2.5" ry="1.75"/><ellipse cx="888.5" cy="472.3" rx="2.5" ry="1.75"/><ellipse cx="973.4" cy="444" rx="2.5" ry="1.75"/><ellipse cx="233.3" cy="330.8" rx="2.5" ry="1.75"/><ellipse cx="366.4" cy="410.8" rx="2.5" ry="1.75"/><ellipse cx="829.2" cy="479.8" rx="2.5" ry="1.75"/><ellipse cx="329.3" cy="302.6" rx="2.5" ry="1.75"/><ellipse cx="428.3" cy="511.9" rx="2.5" ry="1.75"/><ellipse cx="1088.6" cy="417.2" rx="2.5" ry="1.75"/><ellipse cx="330.9" cy="357.3" rx="2.5" ry="1.75"/><ellipse cx="966.4" cy="351.9" rx="2.5" ry="1.75"/><ellipse cx="833.4" cy="470.1" rx="2.5" ry="1.75"/><ellipse cx="964.3" cy="412.8" rx="2.5" ry="1.75"/><ellipse cx="365.1" cy="429.4" rx="2.5" ry="1.75"/><ellipse cx="1061" cy="448.1" rx="2.5" ry="1.75"/><ellipse cx="564.2" cy="443" rx="2.5" ry="1.75"/><ellipse cx="804.2" cy="505.7" rx="2.5" ry="1.75"/><ellipse cx="251.7" cy="313.9" rx="2.5" ry="1.75"/><ellipse cx="972.8" cy="377.7" rx="2.5" ry="1.75"/><ellipse cx="166.8" cy="376.4" rx="2.5" ry="1.75"/><ellipse cx="276.4" cy="322.7" rx="2.5" ry="1.75"/><ellipse cx="311.8" cy="385.9" rx="2.5" ry="1.75"/><ellipse cx="524.9" cy="476.9" rx="2.5" ry="1.75"/><ellipse cx="439.7" cy="520.6" rx="2.5" ry="1.75"/><ellipse cx="580.2" cy="477.6" rx="2.5" ry="1.75"/><ellipse cx="204.9" cy="385.3" rx="2.5" ry="1.75"/><ellipse cx="561.8" cy="490.3" rx="2.5" ry="1.75"/><ellipse cx="1074.3" cy="422.4" rx="2.5" ry="1.75"/><ellipse cx="565.8" cy="436.2" rx="2.5" ry="1.75"/><ellipse cx="783.7" cy="628.6" rx="2.5" ry="1.75"/><ellipse cx="328.9" cy="390.8" rx="2.5" ry="1.75"/><ellipse cx="414" cy="537.7" rx="2.5" ry="1.75"/><ellipse cx="419.2" cy="475.7" rx="2.5" ry="1.75"/><ellipse cx="934" cy="361.3" rx="2.5" ry="1.75"/><ellipse cx="934.4" cy="418.5" rx="2.5" ry="1.75"/><ellipse cx="616.8" cy="461" rx="2.5" ry="1.75"/><ellipse cx="475.2" cy="465.8" rx="2.5" ry="1.75"/><ellipse cx="854.6" cy="447.5" rx="2.5" ry="1.75"/><ellipse cx="667.9" cy="466.5" rx="2.5" ry="1.75"/><ellipse cx="861.6" cy="465.4" rx="2.5" ry="1.75"/><ellipse cx="481.3" cy="505.2" rx="2.5" ry="1.75"/><ellipse cx="198.4" cy="374.1" rx="2.5" ry="1.75"/><ellipse cx="170.5" cy="415.4" rx="2.5" ry="1.75"/><ellipse cx="753" cy="424.5" rx="2.5" ry="1.75"/><ellipse cx="340.2" cy="369.1" rx="2.5" ry="1.75"/><ellipse cx="461.3" cy="412" rx="2.5" ry="1.75"/><ellipse cx="724.5" cy="409.2" rx="2.5" ry="1.75"/><ellipse cx="552" cy="473.4" rx="2.5" ry="1.75"/><ellipse cx="531.2" cy="515.9" rx="2.5" ry="1.75"/><ellipse cx="1007.5" cy="433.9" rx="2.5" ry="1.75"/><ellipse cx="1077.6" cy="370.7" rx="2.5" ry="1.75"/><ellipse cx="919" cy="513.7" rx="2.5" ry="1.75"/><ellipse cx="1091.6" cy="471.4" rx="2.5" ry="1.75"/><ellipse cx="872.7" cy="444.6" rx="2.5" ry="1.75"/><ellipse cx="648.7" cy="456.3" rx="2.5" ry="1.75"/><ellipse cx="428.9" cy="543.3" rx="2.5" ry="1.75"/><ellipse cx="975.5" cy="412" rx="2.5" ry="1.75"/><ellipse cx="624" cy="489.9" rx="2.5" ry="1.75"/><ellipse cx="326.3" cy="341.2" rx="2.5" ry="1.75"/><ellipse cx="644.2" cy="474.3" rx="2.5" ry="1.75"/><ellipse cx="584.3" cy="456.4" rx="2.5" ry="1.75"/><ellipse cx="705.3" cy="458.2" rx="2.5" ry="1.75"/><ellipse cx="286.8" cy="360.1" rx="2.5" ry="1.75"/><ellipse cx="742.8" cy="439.2" rx="2.5" ry="1.75"/><ellipse cx="530.8" cy="518.7" rx="2.5" ry="1.75"/><ellipse cx="934.1" cy="432.5" rx="2.5" ry="1.75"/><ellipse cx="1017.3" cy="439.5" rx="2.5" ry="1.75"/><ellipse cx="903.1" cy="513.2" rx="2.5" ry="1.75"/><ellipse cx="955.9" cy="443.1" rx="2.5" ry="1.75"/><ellipse cx="571.9" cy="422.2" rx="2.5" ry="1.75"/><ellipse cx="521.4" cy="469" rx="2.5" ry="1.75"/><ellipse cx="586.2" cy="447.4" rx="2.5" ry="1.75"/><ellipse cx="298.7" cy="348" rx="2.5" ry="1.75"/><ellipse cx="166.4" cy="351.5" rx="2.5" ry="1.75"/><ellipse cx="753.9" cy="442.7" rx="2.5" ry="1.75"/><ellipse cx="858.3" cy="516.9" rx="2.5" ry="1.75"/><ellipse cx="316.7" cy="381.9" rx="2.5" ry="1.75"/><ellipse cx="452.4" cy="453.4" rx="2.5" ry="1.75"/><ellipse cx="1003.4" cy="409.4" rx="2.5" ry="1.75"/><ellipse cx="1059.2" cy="433.6" rx="2.5" ry="1.75"/><ellipse cx="444.2" cy="523.5" rx="2.5" ry="1.75"/><ellipse cx="784.7" cy="556.3" rx="2.5" ry="1.75"/><ellipse cx="258.9" cy="282.4" rx="2.5" ry="1.75"/><ellipse cx="186.2" cy="414.1" rx="2.5" ry="1.75"/><ellipse cx="1021.5" cy="426.9" rx="2.5" ry="1.75"/><ellipse cx="619.8" cy="525.1" rx="2.5" ry="1.75"/><ellipse cx="619.1" cy="463.1" rx="2.5" ry="1.75"/><ellipse cx="640.6" cy="465.4" rx="2.5" ry="1.75"/><ellipse cx="807.4" cy="488.2" rx="2.5" ry="1.75"/><ellipse cx="732.3" cy="434" rx="2.5" ry="1.75"/><ellipse cx="1022.5" cy="393.2" rx="2.5" ry="1.75"/><ellipse cx="339.5" cy="363.7" rx="2.5" ry="1.75"/><ellipse cx="596.9" cy="478.8" rx="2.5" ry="1.75"/><ellipse cx="277.9" cy="341.9" rx="2.5" ry="1.75"/><ellipse cx="764.9" cy="410.5" rx="2.5" ry="1.75"/><ellipse cx="543.5" cy="469.4" rx="2.5" ry="1.75"/><ellipse cx="419.6" cy="479.5" rx="2.5" ry="1.75"/><ellipse cx="862.4" cy="468.4" rx="2.5" ry="1.75"/><ellipse cx="357.8" cy="386.8" rx="2.5" ry="1.75"/><ellipse cx="360.6" cy="398.6" rx="2.5" ry="1.75"/><ellipse cx="178.9" cy="438.1" rx="2.5" ry="1.75"/><ellipse cx="433.7" cy="584.6" rx="2.5" ry="1.75"/><ellipse cx="1021.5" cy="420.8" rx="2.5" ry="1.75"/><ellipse cx="902.1" cy="366.5" rx="2.5" ry="1.75"/><ellipse cx="524.7" cy="530.7" rx="2.5" ry="1.75"/><ellipse cx="808" cy="460.8" rx="2.5" ry="1.75"/><ellipse cx="804.7" cy="414.8" rx="2.5" ry="1.75"/><ellipse cx="208.2" cy="324" rx="2.5" ry="1.75"/><ellipse cx="594.4" cy="475.8" rx="2.5" ry="1.75"/><ellipse cx="272.4" cy="326.1" rx="2.5" ry="1.75"/><ellipse cx="1068" cy="480.2" rx="2.5" ry="1.75"/><ellipse cx="650.4" cy="467.8" rx="2.5" ry="1.75"/><ellipse cx="1032.6" cy="407.4" rx="2.5" ry="1.75"/><ellipse cx="420.2" cy="481.1" rx="2.5" ry="1.75"/><ellipse cx="360.2" cy="438.2" rx="2.5" ry="1.75"/><ellipse cx="912.2" cy="489.8" rx="2.5" ry="1.75"/><ellipse cx="1080.3" cy="424.5" rx="2.5" ry="1.75"/><ellipse cx="762" cy="460.8" rx="2.5" ry="1.75"/><ellipse cx="995.3" cy="423.2" rx="2.5" ry="1.75"/><ellipse cx="1073.1" cy="404.7" rx="2.5" ry="1.75"/><ellipse cx="1041.8" cy="388.7" rx="2.5" ry="1.75"/><ellipse cx="817.4" cy="380.7" rx="2.5" ry="1.75"/><ellipse cx="372.4" cy="360.8" rx="2.5" ry="1.75"/><ellipse cx="292.4" cy="379.2" rx="2.5" ry="1.75"/><ellipse cx="748.1" cy="425.9" rx="2.5" ry="1.75"/><ellipse cx="232.1" cy="295.8" rx="2.5" ry="1.75"/><ellipse cx="1045" cy="393.1" rx="2.5" ry="1.75"/><ellipse cx="408.2" cy="582.4" rx="2.5" ry="1.75"/><ellipse cx="1064" cy="450.5" rx="2.5" ry="1.75"/><ellipse cx="227.2" cy="368.2" rx="2.5" ry="1.75"/><ellipse cx="1072.7" cy="397.8" rx="2.5" ry="1.75"/><ellipse cx="812.2" cy="487.2" rx="2.5" ry="1.75"/><ellipse cx="410.6" cy="648.4" rx="2.5" ry="1.75"/><ellipse cx="211.9" cy="354.4" rx="2.5" ry="1.75"/><ellipse cx="387.3" cy="423.8" rx="2.5" ry="1.75"/><ellipse cx="585.8" cy="468.8" rx="2.5" ry="1.75"/><ellipse cx="181" cy="473" rx="2.5" ry="1.75"/><ellipse cx="260.7" cy="322.4" rx="2.5" ry="1.75"/><ellipse cx="329.1" cy="331.1" rx="2.5" ry="1.75"/><ellipse cx="553.4" cy="565.2" rx="2.5" ry="1.75"/><ellipse cx="1033.5" cy="426.1" rx="2.5" ry="1.75"/><ellipse cx="790.1" cy="543" rx="2.5" ry="1.75"/><ellipse cx="242.2" cy="318.5" rx="2.5" ry="1.75"/><ellipse cx="848.5" cy="427.4" rx="2.5" ry="1.75"/><ellipse cx="186.7" cy="385.6" rx="2.5" ry="1.75"/><ellipse cx="888.2" cy="418" rx="2.5" ry="1.75"/><ellipse cx="602.5" cy="451.1" rx="2.5" ry="1.75"/><ellipse cx="855.6" cy="463.4" rx="2.5" ry="1.75"/><ellipse cx="1033.4" cy="444.1" rx="2.5" ry="1.75"/><ellipse cx="479.3" cy="477.8" rx="2.5" ry="1.75"/><ellipse cx="783.1" cy="568" rx="2.5" ry="1.75"/><ellipse cx="206.6" cy="398.2" rx="2.5" ry="1.75"/><ellipse cx="775.7" cy="486.9" rx="2.5" ry="1.75"/><ellipse cx="751.1" cy="481.4" rx="2.5" ry="1.75"/><ellipse cx="913.3" cy="524.6" rx="2.5" ry="1.75"/><ellipse cx="908.5" cy="516.4" rx="2.5" ry="1.75"/><ellipse cx="1033.4" cy="436.3" rx="2.5" ry="1.75"/><ellipse cx="462.9" cy="434.4" rx="2.5" ry="1.75"/><ellipse cx="421.3" cy="478.8" rx="2.5" ry="1.75"/><ellipse cx="328.9" cy="339.1" rx="2.5" ry="1.75"/><ellipse cx="832.2" cy="442.8" rx="2.5" ry="1.75"/><ellipse cx="931.3" cy="448.3" rx="2.5" ry="1.75"/><ellipse cx="417.5" cy="495.4" rx="2.5" ry="1.75"/><ellipse cx="528.4" cy="496.5" rx="2.5" ry="1.75"/><ellipse cx="951.3" cy="411.8" rx="2.5" ry="1.75"/><ellipse cx="327.6" cy="364.9" rx="2.5" ry="1.75"/><ellipse cx="483.9" cy="467.1" rx="2.5" ry="1.75"/><ellipse cx="631.7" cy="483.1" rx="2.5" ry="1.75"/><ellipse cx="828.2" cy="472.1" rx="2.5" ry="1.75"/><ellipse cx="694.2" cy="496.9" rx="2.5" ry="1.75"/><ellipse cx="254.1" cy="337.7" rx="2.5" ry="1.75"/><ellipse cx="893.8" cy="479.4" rx="2.5" ry="1.75"/><ellipse cx="343.1" cy="381.6" rx="2.5" ry="1.75"/><ellipse cx="454.3" cy="452.1" rx="2.5" ry="1.75"/><ellipse cx="426.5" cy="530.4" rx="2.5" ry="1.75"/><ellipse cx="796.5" cy="504.6" rx="2.5" ry="1.75"/><ellipse cx="767.6" cy="495.5" rx="2.5" ry="1.75"/><ellipse cx="241.6" cy="339.8" rx="2.5" ry="1.75"/><ellipse cx="176.6" cy="446.7" rx="2.5" ry="1.75"/><ellipse cx="826.5" cy="476.5" rx="2.5" ry="1.75"/><ellipse cx="443.4" cy="469.2" rx="2.5" ry="1.75"/><ellipse cx="566.9" cy="476.1" rx="2.5" ry="1.75"/><ellipse cx="618.5" cy="502.9" rx="2.5" ry="1.75"/><ellipse cx="493.3" cy="389.7" rx="2.5" ry="1.75"/><ellipse cx="1011.3" cy="430.6" rx="2.5" ry="1.75"/><ellipse cx="505.8" cy="486.9" rx="2.5" ry="1.75"/><ellipse cx="356.6" cy="416.2" rx="2.5" ry="1.75"/><ellipse cx="482.2" cy="496" rx="2.5" ry="1.75"/><ellipse cx="310" cy="382.6" rx="2.5" ry="1.75"/><ellipse cx="254.1" cy="322.6" rx="2.5" ry="1.75"/><ellipse cx="228.8" cy="321.2" rx="2.5" ry="1.75"/><ellipse cx="525.9" cy="544.3" rx="2.5" ry="1.75"/><ellipse cx="303.9" cy="354.8" rx="2.5" ry="1.75"/><ellipse cx="841.6" cy="432.8" rx="2.5" ry="1.75"/><ellipse cx="977.7" cy="421.6" rx="2.5" ry="1.75"/><ellipse cx="826.7" cy="411" rx="2.5" ry="1.75"/><ellipse cx="556.4" cy="504.6" rx="2.5" ry="1.75"/><ellipse cx="169.6" cy="455.6" rx="2.5" ry="1.75"/><ellipse cx="1018.9" cy="413.8" rx="2.5" ry="1.75"/><ellipse cx="275" cy="374.4" rx="2.5" ry="1.75"/><ellipse cx="257.9" cy="272.9" rx="2.5" ry="1.75"/><ellipse cx="598.9" cy="460.9" rx="2.5" ry="1.75"/><ellipse cx="231.8" cy="307.6" rx="2.5" ry="1.75"/><ellipse cx="220.6" cy="348.3" rx="2.5" ry="1.75"/><ellipse cx="924.7" cy="395.1" rx="2.5" ry="1.75"/><ellipse cx="547.6" cy="451" rx="2.5" ry="1.75"/><ellipse cx="699.6" cy="398.2" rx="2.5" ry="1.75"/><ellipse cx="265.6" cy="344.5" rx="2.5" ry="1.75"/><ellipse cx="634.3" cy="499.1" rx="2.5" ry="1.75"/><ellipse cx="262.7" cy="371.4" rx="2.5" ry="1.75"/><ellipse cx="531.6" cy="512.1" rx="2.5" ry="1.75"/><ellipse cx="683.5" cy="418.9" rx="2.5" ry="1.75"/><ellipse cx="690.4" cy="400.1" rx="2.5" ry="1.75"/><ellipse cx="825.7" cy="434" rx="2.5" ry="1.75"/><ellipse cx="781.6" cy="554.3" rx="2.5" ry="1.75"/><ellipse cx="492.2" cy="482.9" rx="2.5" ry="1.75"/><ellipse cx="539.2" cy="450.5" rx="2.5" ry="1.75"/><ellipse cx="632.4" cy="445.4" rx="2.5" ry="1.75"/><ellipse cx="385.4" cy="392.3" rx="2.5" ry="1.75"/><ellipse cx="474.2" cy="543.8" rx="2.5" ry="1.75"/><ellipse cx="229.9" cy="324.7" rx="2.5" ry="1.75"/><ellipse cx="400.6" cy="584.9" rx="2.5" ry="1.75"/><ellipse cx="1036.4" cy="352.3" rx="2.5" ry="1.75"/><ellipse cx="383.7" cy="416.8" rx="2.5" ry="1.75"/><ellipse cx="480.5" cy="460.1" rx="2.5" ry="1.75"/><ellipse cx="491.5" cy="469.6" rx="2.5" ry="1.75"/><ellipse cx="585.2" cy="483.2" rx="2.5" ry="1.75"/><ellipse cx="1010.3" cy="417.7" rx="2.5" ry="1.75"/><ellipse cx="993.8" cy="384" rx="2.5" ry="1.75"/><ellipse cx="302.8" cy="366.8" rx="2.5" ry="1.75"/><ellipse cx="443.5" cy="525.9" rx="2.5" ry="1.75"/><ellipse cx="757.8" cy="454.7" rx="2.5" ry="1.75"/><ellipse cx="333.7" cy="373.1" rx="2.5" ry="1.75"/><ellipse cx="580.8" cy="496" rx="2.5" ry="1.75"/><ellipse cx="391.4" cy="457.4" rx="2.5" ry="1.75"/><ellipse cx="579.6" cy="468.3" rx="2.5" ry="1.75"/><ellipse cx="1001.6" cy="440.1" rx="2.5" ry="1.75"/><ellipse cx="342.4" cy="392.2" rx="2.5" ry="1.75"/><ellipse cx="704.9" cy="424.7" rx="2.5" ry="1.75"/><ellipse cx="759.6" cy="482.1" rx="2.5" ry="1.75"/><ellipse cx="836" cy="455.5" rx="2.5" ry="1.75"/><ellipse cx="733.7" cy="418.1" rx="2.5" ry="1.75"/><ellipse cx="1081.8" cy="395.2" rx="2.5" ry="1.75"/><ellipse cx="820.7" cy="475.4" rx="2.5" ry="1.75"/><ellipse cx="698.8" cy="458.4" rx="2.5" ry="1.75"/><ellipse cx="861" cy="436.9" rx="2.5" ry="1.75"/><ellipse cx="981.4" cy="401.9" rx="2.5" ry="1.75"/><ellipse cx="826.4" cy="470.1" rx="2.5" ry="1.75"/><ellipse cx="495.3" cy="461.1" rx="2.5" ry="1.75"/><ellipse cx="375" cy="409.1" rx="2.5" ry="1.75"/><ellipse cx="300.4" cy="371.6" rx="2.5" ry="1.75"/><ellipse cx="842" cy="494.7" rx="2.5" ry="1.75"/><ellipse cx="390.1" cy="431.8" rx="2.5" ry="1.75"/><ellipse cx="1067.9" cy="419.3" rx="2.5" ry="1.75"/><ellipse cx="242" cy="315.4" rx="2.5" ry="1.75"/><ellipse cx="516.2" cy="485.7" rx="2.5" ry="1.75"/><ellipse cx="342.3" cy="377.4" rx="2.5" ry="1.75"/><ellipse cx="565.9" cy="422.9" rx="2.5" ry="1.75"/><ellipse cx="947.8" cy="391.6" rx="2.5" ry="1.75"/><ellipse cx="769.5" cy="488.3" rx="2.5" ry="1.75"/><ellipse cx="947.4" cy="402" rx="2.5" ry="1.75"/><ellipse cx="628.3" cy="468.8" rx="2.5" ry="1.75"/><ellipse cx="764.5" cy="490.8" rx="2.5" ry="1.75"/><ellipse cx="736.8" cy="422.8" rx="2.5" ry="1.75"/><ellipse cx="167.3" cy="417.7" rx="2.5" ry="1.75"/><ellipse cx="340.8" cy="396.8" rx="2.5" ry="1.75"/><ellipse cx="404.5" cy="597.2" rx="2.5" ry="1.75"/><ellipse cx="315" cy="414.4" rx="2.5" ry="1.75"/><ellipse cx="519.8" cy="448.9" rx="2.5" ry="1.75"/><ellipse cx="219.4" cy="364.1" rx="2.5" ry="1.75"/><ellipse cx="433.6" cy="522.8" rx="2.5" ry="1.75"/><ellipse cx="973.4" cy="389.4" rx="2.5" ry="1.75"/><ellipse cx="676" cy="472.4" rx="2.5" ry="1.75"/><ellipse cx="215.3" cy="409.9" rx="2.5" ry="1.75"/><ellipse cx="594.9" cy="461.2" rx="2.5" ry="1.75"/><ellipse cx="984" cy="398" rx="2.5" ry="1.75"/><ellipse cx="317.7" cy="356.6" rx="2.5" ry="1.75"/><ellipse cx="399.1" cy="524.9" rx="2.5" ry="1.75"/><ellipse cx="646.1" cy="468.5" rx="2.5" ry="1.75"/><ellipse cx="273.3" cy="361.5" rx="2.5" ry="1.75"/><ellipse cx="930.8" cy="416.4" rx="2.5" ry="1.75"/><ellipse cx="193.7" cy="429" rx="2.5" ry="1.75"/><ellipse cx="687.8" cy="422.7" rx="2.5" ry="1.75"/><ellipse cx="1085.7" cy="418.3" rx="2.5" ry="1.75"/><ellipse cx="841.4" cy="460.4" rx="2.5" ry="1.75"/><ellipse cx="510.3" cy="481.8" rx="2.5" ry="1.75"/><ellipse cx="881.3" cy="408.9" rx="2.5" ry="1.75"/><ellipse cx="219.3" cy="369.9" rx="2.5" ry="1.75"/><ellipse cx="462.5" cy="428.3" rx="2.5" ry="1.75"/><ellipse cx="1060.7" cy="414.9" rx="2.5" ry="1.75"/><ellipse cx="490.6" cy="438.4" rx="2.5" ry="1.75"/><ellipse cx="896" cy="455.4" rx="2.5" ry="1.75"/><ellipse cx="238.6" cy="352.8" rx="2.5" ry="1.75"/><ellipse cx="421.3" cy="485.7" rx="2.5" ry="1.75"/><ellipse cx="622.8" cy="434.6" rx="2.5" ry="1.75"/><ellipse cx="543" cy="517.9" rx="2.5" ry="1.75"/><ellipse cx="905.4" cy="497.3" rx="2.5" ry="1.75"/><ellipse cx="815.4" cy="457" rx="2.5" ry="1.75"/><ellipse cx="1041.5" cy="433.5" rx="2.5" ry="1.75"/><ellipse cx="796.5" cy="464.1" rx="2.5" ry="1.75"/><ellipse cx="1035.3" cy="432.8" rx="2.5" ry="1.75"/><ellipse cx="566.2" cy="431.1" rx="2.5" ry="1.75"/><ellipse cx="915.6" cy="513.6" rx="2.5" ry="1.75"/><ellipse cx="272.2" cy="390.9" rx="2.5" ry="1.75"/><ellipse cx="1001" cy="423.3" rx="2.5" ry="1.75"/><ellipse cx="946.3" cy="404.2" rx="2.5" ry="1.75"/><ellipse cx="533.6" cy="512.9" rx="2.5" ry="1.75"/><ellipse cx="428.4" cy="574" rx="2.5" ry="1.75"/><ellipse cx="900.4" cy="418.9" rx="2.5" ry="1.75"/><ellipse cx="458.3" cy="464.6" rx="2.5" ry="1.75"/><ellipse cx="369.2" cy="393.8" rx="2.5" ry="1.75"/><ellipse cx="272.4" cy="362.5" rx="2.5" ry="1.75"/><ellipse cx="983.7" cy="414.1" rx="2.5" ry="1.75"/><ellipse cx="315.5" cy="404.5" rx="2.5" ry="1.75"/><ellipse cx="482.7" cy="471.4" rx="2.5" ry="1.75"/><ellipse cx="590.6" cy="414.3" rx="2.5" ry="1.75"/><ellipse cx="400.1" cy="618.2" rx="2.5" ry="1.75"/><ellipse cx="1082.5" cy="438.6" rx="2.5" ry="1.75"/><ellipse cx="396.3" cy="523.2" rx="2.5" ry="1.75"/><ellipse cx="546.1" cy="501.2" rx="2.5" ry="1.75"/><ellipse cx="452.6" cy="470.4" rx="2.5" ry="1.75"/><ellipse cx="814.3" cy="517.1" rx="2.5" ry="1.75"/><ellipse cx="1095.7" cy="530" rx="2.5" ry="1.75"/><ellipse cx="907.7" cy="489.9" rx="2.5" ry="1.75"/><ellipse cx="476.8" cy="470.2" rx="2.5" ry="1.75"/><ellipse cx="298.7" cy="351.2" rx="2.5" ry="1.75"/><ellipse cx="849.3" cy="429.5" rx="2.5" ry="1.75"/><ellipse cx="1062.3" cy="454.2" rx="2.5" ry="1.75"/><ellipse cx="925.4" cy="423" rx="2.5" ry="1.75"/><ellipse cx="1025" cy="430.7" rx="2.5" ry="1.75"/><ellipse cx="510" cy="436.8" rx="2.5" ry="1.75"/><ellipse cx="908.8" cy="523.4" rx="2.5" ry="1.75"/><ellipse cx="264.6" cy="431.7" rx="2.5" ry="1.75"/><ellipse cx="540.6" cy="471.5" rx="2.5" ry="1.75"/><ellipse cx="920.6" cy="529.8" rx="2.5" ry="1.75"/><ellipse cx="651.5" cy="444.9" rx="2.5" ry="1.75"/><ellipse cx="810.4" cy="437.1" rx="2.5" ry="1.75"/><ellipse cx="1021.8" cy="416.9" rx="2.5" ry="1.75"/><ellipse cx="750.4" cy="372.6" rx="2.5" ry="1.75"/><ellipse cx="233" cy="274.7" rx="2.5" ry="1.75"/><ellipse cx="1064.5" cy="419.9" rx="2.5" ry="1.75"/><ellipse cx="837.2" cy="478.8" rx="2.5" ry="1.75"/><ellipse cx="1099.1" cy="432.6" rx="2.5" ry="1.75"/><ellipse cx="296.9" cy="382.1" rx="2.5" ry="1.75"/><ellipse cx="698.8" cy="383" rx="2.5" ry="1.75"/><ellipse cx="975.2" cy="410" rx="2.5" ry="1.75"/><ellipse cx="386.9" cy="431" rx="2.5" ry="1.75"/><ellipse cx="815.2" cy="450.7" rx="2.5" ry="1.75"/><ellipse cx="368.8" cy="411.9" rx="2.5" ry="1.75"/><ellipse cx="666" cy="445.1" rx="2.5" ry="1.75"/><ellipse cx="847.4" cy="440.7" rx="2.5" ry="1.75"/><ellipse cx="1084.3" cy="427.3" rx="2.5" ry="1.75"/><ellipse cx="1095.1" cy="498.7" rx="2.5" ry="1.75"/><ellipse cx="217.4" cy="350" rx="2.5" ry="1.75"/><ellipse cx="186.4" cy="457.8" rx="2.5" ry="1.75"/><ellipse cx="383" cy="389" rx="2.5" ry="1.75"/><ellipse cx="735.7" cy="475.1" rx="2.5" ry="1.75"/><ellipse cx="302.1" cy="380.5" rx="2.5" ry="1.75"/><ellipse cx="444.7" cy="532.2" rx="2.5" ry="1.75"/><ellipse cx="954.5" cy="450" rx="2.5" ry="1.75"/><ellipse cx="896.7" cy="466.3" rx="2.5" ry="1.75"/><ellipse cx="1003.7" cy="396.3" rx="2.5" ry="1.75"/><ellipse cx="1088.4" cy="492.1" rx="2.5" ry="1.75"/><ellipse cx="636.2" cy="459.2" rx="2.5" ry="1.75"/><ellipse cx="442.3" cy="491.8" rx="2.5" ry="1.75"/><ellipse cx="163.9" cy="412.4" rx="2.5" ry="1.75"/><ellipse cx="234.4" cy="300.5" rx="2.5" ry="1.75"/><ellipse cx="338.1" cy="358" rx="2.5" ry="1.75"/><ellipse cx="506.9" cy="453.1" rx="2.5" ry="1.75"/><ellipse cx="1052.9" cy="329.7" rx="2.5" ry="1.75"/><ellipse cx="472.8" cy="458.3" rx="2.5" ry="1.75"/><ellipse cx="765.8" cy="452.7" rx="2.5" ry="1.75"/><ellipse cx="350.9" cy="395.1" rx="2.5" ry="1.75"/><ellipse cx="647.4" cy="426.5" rx="2.5" ry="1.75"/><ellipse cx="365" cy="355.4" rx="2.5" ry="1.75"/><ellipse cx="523.2" cy="473.6" rx="2.5" ry="1.75"/><ellipse cx="575.6" cy="477" rx="2.5" ry="1.75"/><ellipse cx="1022.9" cy="411.7" rx="2.5" ry="1.75"/><ellipse cx="1048.3" cy="414.6" rx="2.5" ry="1.75"/><ellipse cx="650.9" cy="469.3" rx="2.5" ry="1.75"/><ellipse cx="856.9" cy="456.2" rx="2.5" ry="1.75"/><ellipse cx="841.2" cy="472.9" rx="2.5" ry="1.75"/><ellipse cx="864.6" cy="423.2" rx="2.5" ry="1.75"/><ellipse cx="767.1" cy="515.6" rx="2.5" ry="1.75"/><ellipse cx="983.4" cy="397.3" rx="2.5" ry="1.75"/><ellipse cx="280.6" cy="343.4" rx="2.5" ry="1.75"/><ellipse cx="190.1" cy="422.3" rx="2.5" ry="1.75"/><ellipse cx="696.4" cy="402.4" rx="2.5" ry="1.75"/><ellipse cx="707.3" cy="415.1" rx="2.5" ry="1.75"/><ellipse cx="422.9" cy="503.1" rx="2.5" ry="1.75"/><ellipse cx="967.4" cy="430.5" rx="2.5" ry="1.75"/><ellipse cx="992.4" cy="421.6" rx="2.5" ry="1.75"/><ellipse cx="445.4" cy="510" rx="2.5" ry="1.75"/><ellipse cx="548.5" cy="541.5" rx="2.5" ry="1.75"/><ellipse cx="223.2" cy="346.3" rx="2.5" ry="1.75"/><ellipse cx="609.8" cy="481.6" rx="2.5" ry="1.75"/><ellipse cx="900.4" cy="488.5" rx="2.5" ry="1.75"/><ellipse cx="254.3" cy="338" rx="2.5" ry="1.75"/><ellipse cx="1019.7" cy="416.1" rx="2.5" ry="1.75"/><ellipse cx="258.1" cy="279.5" rx="2.5" ry="1.75"/><ellipse cx="346.1" cy="407.9" rx="2.5" ry="1.75"/><ellipse cx="289.5" cy="365.7" rx="2.5" ry="1.75"/><ellipse cx="874.1" cy="429.1" rx="2.5" ry="1.75"/><ellipse cx="785.9" cy="597.8" rx="2.5" ry="1.75"/><ellipse cx="364.9" cy="409" rx="2.5" ry="1.75"/><ellipse cx="421.9" cy="459.7" rx="2.5" ry="1.75"/><ellipse cx="188.5" cy="421.3" rx="2.5" ry="1.75"/><ellipse cx="318.3" cy="353.7" rx="2.5" ry="1.75"/><ellipse cx="832.6" cy="395" rx="2.5" ry="1.75"/><ellipse cx="613" cy="461" rx="2.5" ry="1.75"/><ellipse cx="177" cy="443.2" rx="2.5" ry="1.75"/><ellipse cx="568" cy="441.7" rx="2.5" ry="1.75"/><ellipse cx="212.4" cy="348.5" rx="2.5" ry="1.75"/><ellipse cx="554.7" cy="498.4" rx="2.5" ry="1.75"/><ellipse cx="675.3" cy="462.1" rx="2.5" ry="1.75"/><ellipse cx="979.9" cy="390.9" rx="2.5" ry="1.75"/><ellipse cx="356.1" cy="374.8" rx="2.5" ry="1.75"/><ellipse cx="756.4" cy="414.2" rx="2.5" ry="1.75"/><ellipse cx="486.4" cy="499.3" rx="2.5" ry="1.75"/><ellipse cx="843.3" cy="528.7" rx="2.5" ry="1.75"/><ellipse cx="756.2" cy="421.8" rx="2.5" ry="1.75"/><ellipse cx="787.8" cy="610.1" rx="2.5" ry="1.75"/><ellipse cx="722" cy="422.2" rx="2.5" ry="1.75"/><ellipse cx="1011.3" cy="471.4" rx="2.5" ry="1.75"/><ellipse cx="941.6" cy="417.6" rx="2.5" ry="1.75"/><ellipse cx="884.4" cy="436.8" rx="2.5" ry="1.75"/><ellipse cx="957.6" cy="379.3" rx="2.5" ry="1.75"/><ellipse cx="607.9" cy="499.5" rx="2.5" ry="1.75"/><ellipse cx="424.6" cy="428.6" rx="2.5" ry="1.75"/><ellipse cx="1017.2" cy="431" rx="2.5" ry="1.75"/><ellipse cx="832.8" cy="476.6" rx="2.5" ry="1.75"/><ellipse cx="675.5" cy="431.9" rx="2.5" ry="1.75"/><ellipse cx="748.2" cy="438.9" rx="2.5" ry="1.75"/><ellipse cx="487.9" cy="456.2" rx="2.5" ry="1.75"/><ellipse cx="647.5" cy="504.9" rx="2.5" ry="1.75"/><ellipse cx="464.6" cy="453.1" rx="2.5" ry="1.75"/><ellipse cx="716.2" cy="463.8" rx="2.5" ry="1.75"/><ellipse cx="1040.7" cy="414.3" rx="2.5" ry="1.75"/><ellipse cx="196.9" cy="407.9" rx="2.5" ry="1.75"/><ellipse cx="1066.5" cy="426.2" rx="2.5" ry="1.75"/><ellipse cx="643.4" cy="482.9" rx="2.5" ry="1.75"/><ellipse cx="785.7" cy="598.2" rx="2.5" ry="1.75"/><ellipse cx="997.3" cy="371.5" rx="2.5" ry="1.75"/><ellipse cx="330.7" cy="312.1" rx="2.5" ry="1.75"/><ellipse cx="648.4" cy="467.1" rx="2.5" ry="1.75"/><ellipse cx="327.4" cy="363.2" rx="2.5" ry="1.75"/><ellipse cx="951.6" cy="387.9" rx="2.5" ry="1.75"/><ellipse cx="379.6" cy="440.1" rx="2.5" ry="1.75"/><ellipse cx="986.8" cy="433.9" rx="2.5" ry="1.75"/><ellipse cx="655.3" cy="460.3" rx="2.5" ry="1.75"/><ellipse cx="427.7" cy="497.7" rx="2.5" ry="1.75"/><ellipse cx="334.4" cy="329.4" rx="2.5" ry="1.75"/><ellipse cx="643" cy="462.9" rx="2.5" ry="1.75"/><ellipse cx="943.5" cy="456.2" rx="2.5" ry="1.75"/><ellipse cx="514.4" cy="443" rx="2.5" ry="1.75"/><ellipse cx="306" cy="409.1" rx="2.5" ry="1.75"/><ellipse cx="500.9" cy="410.1" rx="2.5" ry="1.75"/><ellipse cx="372" cy="363" rx="2.5" ry="1.75"/><ellipse cx="629.1" cy="427.9" rx="2.5" ry="1.75"/><ellipse cx="534" cy="487.5" rx="2.5" ry="1.75"/><ellipse cx="365" cy="406.8" rx="2.5" ry="1.75"/><ellipse cx="781.7" cy="542.8" rx="2.5" ry="1.75"/><ellipse cx="888.7" cy="435.1" rx="2.5" ry="1.75"/><ellipse cx="728.6" cy="444.1" rx="2.5" ry="1.75"/><ellipse cx="840.6" cy="473.1" rx="2.5" ry="1.75"/><ellipse cx="266.5" cy="317.8" rx="2.5" ry="1.75"/><ellipse cx="893.2" cy="423.2" rx="2.5" ry="1.75"/><ellipse cx="449.8" cy="545.9" rx="2.5" ry="1.75"/><ellipse cx="172" cy="384.8" rx="2.5" ry="1.75"/><ellipse cx="347.5" cy="418.9" rx="2.5" ry="1.75"/><ellipse cx="346.4" cy="396" rx="2.5" ry="1.75"/><ellipse cx="762.4" cy="470.7" rx="2.5" ry="1.75"/><ellipse cx="494.2" cy="336.8" rx="2.5" ry="1.75"/><ellipse cx="773.3" cy="551.1" rx="2.5" ry="1.75"/><ellipse cx="276.3" cy="369.6" rx="2.5" ry="1.75"/><ellipse cx="1054.2" cy="393.6" rx="2.5" ry="1.75"/><ellipse cx="218.5" cy="329.3" rx="2.5" ry="1.75"/><ellipse cx="905.9" cy="481.8" rx="2.5" ry="1.75"/><ellipse cx="1083.9" cy="427.9" rx="2.5" ry="1.75"/><ellipse cx="276.1" cy="343.3" rx="2.5" ry="1.75"/><ellipse cx="325.8" cy="336.8" rx="2.5" ry="1.75"/><ellipse cx="637" cy="453.5" rx="2.5" ry="1.75"/><ellipse cx="221.7" cy="414.1" rx="2.5" ry="1.75"/><ellipse cx="1079.3" cy="461.7" rx="2.5" ry="1.75"/><ellipse cx="257.3" cy="304.4" rx="2.5" ry="1.75"/><ellipse cx="204.7" cy="383.2" rx="2.5" ry="1.75"/><ellipse cx="1016.5" cy="462.7" rx="2.5" ry="1.75"/><ellipse cx="347.7" cy="387" rx="2.5" ry="1.75"/><ellipse cx="954.8" cy="446.4" rx="2.5" ry="1.75"/><ellipse cx="477.6" cy="499.5" rx="2.5" ry="1.75"/><ellipse cx="619.7" cy="479.4" rx="2.5" ry="1.75"/><ellipse cx="1093.6" cy="505.3" rx="2.5" ry="1.75"/><ellipse cx="332.1" cy="279.2" rx="2.5" ry="1.75"/><ellipse cx="922.7" cy="496.4" rx="2.5" ry="1.75"/><ellipse cx="221.8" cy="344.9" rx="2.5" ry="1.75"/><ellipse cx="929.2" cy="451.9" rx="2.5" ry="1.75"/><ellipse cx="334.7" cy="363" rx="2.5" ry="1.75"/><ellipse cx="408.4" cy="600.9" rx="2.5" ry="1.75"/><ellipse cx="391.2" cy="458.8" rx="2.5" ry="1.75"/><ellipse cx="457.5" cy="471.9" rx="2.5" ry="1.75"/><ellipse cx="435.2" cy="540.4" rx="2.5" ry="1.75"/><ellipse cx="1026.9" cy="450.5" rx="2.5" ry="1.75"/><ellipse cx="234.6" cy="330" rx="2.5" ry="1.75"/><ellipse cx="554" cy="522.5" rx="2.5" ry="1.75"/><ellipse cx="360.6" cy="403.4" rx="2.5" ry="1.75"/><ellipse cx="227.4" cy="313.4" rx="2.5" ry="1.75"/><ellipse cx="646.6" cy="484.7" rx="2.5" ry="1.75"/><ellipse cx="188.2" cy="435.9" rx="2.5" ry="1.75"/><ellipse cx="898.5" cy="460.7" rx="2.5" ry="1.75"/><ellipse cx="491.7" cy="422.9" rx="2.5" ry="1.75"/><ellipse cx="902.8" cy="521.6" rx="2.5" ry="1.75"/><ellipse cx="1009.8" cy="454" rx="2.5" ry="1.75"/><ellipse cx="610.7" cy="486.2" rx="2.5" ry="1.75"/><ellipse cx="403.1" cy="602.9" rx="2.5" ry="1.75"/><ellipse cx="1054.8" cy="447.1" rx="2.5" ry="1.75"/><ellipse cx="388.5" cy="472.6" rx="2.5" ry="1.75"/><ellipse cx="524.6" cy="471.9" rx="2.5" ry="1.75"/><ellipse cx="929.3" cy="480.1" rx="2.5" ry="1.75"/><ellipse cx="764.9" cy="505.3" rx="2.5" ry="1.75"/><ellipse cx="707.7" cy="433.5" rx="2.5" ry="1.75"/><ellipse cx="657.2" cy="467.7" rx="2.5" ry="1.75"/><ellipse cx="390.1" cy="439.4" rx="2.5" ry="1.75"/><ellipse cx="294" cy="343.7" rx="2.5" ry="1.75"/><ellipse cx="706.8" cy="458.2" rx="2.5" ry="1.75"/><ellipse cx="806.2" cy="468.4" rx="2.5" ry="1.75"/><ellipse cx="1055" cy="386.3" rx="2.5" ry="1.75"/><ellipse cx="459.8" cy="451.3" rx="2.5" ry="1.75"/><ellipse cx="491.2" cy="462.1" rx="2.5" ry="1.75"/><ellipse cx="625.4" cy="468.8" rx="2.5" ry="1.75"/><ellipse cx="532.2" cy="494.4" rx="2.5" ry="1.75"/><ellipse cx="402.5" cy="555.7" rx="2.5" ry="1.75"/><ellipse cx="538.2" cy="511.2" rx="2.5" ry="1.75"/><ellipse cx="224.8" cy="306.8" rx="2.5" ry="1.75"/><ellipse cx="1074.2" cy="442.2" rx="2.5" ry="1.75"/><ellipse cx="986.3" cy="395.4" rx="2.5" ry="1.75"/><ellipse cx="917.2" cy="549.2" rx="2.5" ry="1.75"/><ellipse cx="540.7" cy="511.1" rx="2.5" ry="1.75"/><ellipse cx="510.3" cy="471.2" rx="2.5" ry="1.75"/><ellipse cx="611.8" cy="474.2" rx="2.5" ry="1.75"/><ellipse cx="891.7" cy="431.5" rx="2.5" ry="1.75"/><ellipse cx="853.4" cy="436.6" rx="2.5" ry="1.75"/><ellipse cx="599.9" cy="496.8" rx="2.5" ry="1.75"/><ellipse cx="965.9" cy="429.6" rx="2.5" ry="1.75"/><ellipse cx="570.5" cy="496.7" rx="2.5" ry="1.75"/><ellipse cx="182.9" cy="455.6" rx="2.5" ry="1.75"/><ellipse cx="279.3" cy="386.4" rx="2.5" ry="1.75"/><ellipse cx="857.5" cy="475.7" rx="2.5" ry="1.75"/><ellipse cx="749.1" cy="430.2" rx="2.5" ry="1.75"/><ellipse cx="367.2" cy="401.7" rx="2.5" ry="1.75"/><ellipse cx="953.1" cy="398.9" rx="2.5" ry="1.75"/><ellipse cx="200.1" cy="352.8" rx="2.5" ry="1.75"/><ellipse cx="633.6" cy="465" rx="2.5" ry="1.75"/><ellipse cx="481.5" cy="478.8" rx="2.5" ry="1.75"/><ellipse cx="502.5" cy="452.9" rx="2.5" ry="1.75"/><ellipse cx="1039.9" cy="412.4" rx="2.5" ry="1.75"/><ellipse cx="695.3" cy="450.4" rx="2.5" ry="1.75"/><ellipse cx="438" cy="512.3" rx="2.5" ry="1.75"/><ellipse cx="841.9" cy="429.6" rx="2.5" ry="1.75"/><ellipse cx="801.7" cy="440.7" rx="2.5" ry="1.75"/><ellipse cx="326.3" cy="330.9" rx="2.5" ry="1.75"/><ellipse cx="429.3" cy="519.3" rx="2.5" ry="1.75"/><ellipse cx="481" cy="418.4" rx="2.5" ry="1.75"/><ellipse cx="164.6" cy="428" rx="2.5" ry="1.75"/><ellipse cx="583" cy="453.5" rx="2.5" ry="1.75"/><ellipse cx="880.8" cy="390.9" rx="2.5" ry="1.75"/><ellipse cx="703" cy="463.6" rx="2.5" ry="1.75"/><ellipse cx="1044" cy="428.6" rx="2.5" ry="1.75"/><ellipse cx="779.1" cy="585.9" rx="2.5" ry="1.75"/><ellipse cx="453.3" cy="434.8" rx="2.5" ry="1.75"/><ellipse cx="537.2" cy="470.9" rx="2.5" ry="1.75"/><ellipse cx="497.6" cy="448.6" rx="2.5" ry="1.75"/><ellipse cx="186.5" cy="424.8" rx="2.5" ry="1.75"/><ellipse cx="573.5" cy="481.5" rx="2.5" ry="1.75"/><ellipse cx="531.9" cy="519.8" rx="2.5" ry="1.75"/><ellipse cx="971.2" cy="433.2" rx="2.5" ry="1.75"/><ellipse cx="221.5" cy="383.7" rx="2.5" ry="1.75"/><ellipse cx="491.2" cy="454.8" rx="2.5" ry="1.75"/><ellipse cx="365" cy="358.5" rx="2.5" ry="1.75"/><ellipse cx="341.2" cy="385.6" rx="2.5" ry="1.75"/><ellipse cx="790.3" cy="585.6" rx="2.5" ry="1.75"/><ellipse cx="1052.8" cy="396.9" rx="2.5" ry="1.75"/><ellipse cx="793.6" cy="494.9" rx="2.5" ry="1.75"/><ellipse cx="471.2" cy="434.7" rx="2.5" ry="1.75"/><ellipse cx="748.3" cy="441.1" rx="2.5" ry="1.75"/><ellipse cx="923.3" cy="458.7" rx="2.5" ry="1.75"/><ellipse cx="622" cy="453.8" rx="2.5" ry="1.75"/><ellipse cx="223.2" cy="390.1" rx="2.5" ry="1.75"/><ellipse cx="868.5" cy="463.3" rx="2.5" ry="1.75"/><ellipse cx="436.3" cy="584.9" rx="2.5" ry="1.75"/><ellipse cx="185.5" cy="457.5" rx="2.5" ry="1.75"/><ellipse cx="612.6" cy="480" rx="2.5" ry="1.75"/><ellipse cx="348.7" cy="361.1" rx="2.5" ry="1.75"/><ellipse cx="509.1" cy="488.5" rx="2.5" ry="1.75"/><ellipse cx="186.1" cy="452.3" rx="2.5" ry="1.75"/><ellipse cx="326.2" cy="337.1" rx="2.5" ry="1.75"/><ellipse cx="252.4" cy="312.1" rx="2.5" ry="1.75"/><ellipse cx="613.1" cy="533.7" rx="2.5" ry="1.75"/><ellipse cx="223.2" cy="327.6" rx="2.5" ry="1.75"/><ellipse cx="256.4" cy="312.1" rx="2.5" ry="1.75"/><ellipse cx="1066.6" cy="401.2" rx="2.5" ry="1.75"/><ellipse cx="637.9" cy="479.7" rx="2.5" ry="1.75"/><ellipse cx="387.8" cy="355" rx="2.5" ry="1.75"/><ellipse cx="1014" cy="454.9" rx="2.5" ry="1.75"/><ellipse cx="259.7" cy="345.6" rx="2.5" ry="1.75"/><ellipse cx="540" cy="485.7" rx="2.5" ry="1.75"/><ellipse cx="947.2" cy="433" rx="2.5" ry="1.75"/><ellipse cx="527.9" cy="516.7" rx="2.5" ry="1.75"/><ellipse cx="577.7" cy="505.7" rx="2.5" ry="1.75"/><ellipse cx="598.4" cy="430" rx="2.5" ry="1.75"/><ellipse cx="365.2" cy="388.6" rx="2.5" ry="1.75"/><ellipse cx="747.3" cy="468.3" rx="2.5" ry="1.75"/><ellipse cx="655.8" cy="461.8" rx="2.5" ry="1.75"/><ellipse cx="1023.7" cy="438.6" rx="2.5" ry="1.75"/><ellipse cx="423.3" cy="453.2" rx="2.5" ry="1.75"/><ellipse cx="728.1" cy="434.8" rx="2.5" ry="1.75"/><ellipse cx="462.2" cy="434.2" rx="2.5" ry="1.75"/><ellipse cx="856.9" cy="430" rx="2.5" ry="1.75"/><ellipse cx="609.7" cy="475" rx="2.5" ry="1.75"/><ellipse cx="583.7" cy="476.7" rx="2.5" ry="1.75"/><ellipse cx="606.9" cy="452.1" rx="2.5" ry="1.75"/><ellipse cx="350.2" cy="386.9" rx="2.5" ry="1.75"/><ellipse cx="359.9" cy="362.8" rx="2.5" ry="1.75"/><ellipse cx="1018.6" cy="467.4" rx="2.5" ry="1.75"/><ellipse cx="1073.3" cy="424.8" rx="2.5" ry="1.75"/><ellipse cx="712.9" cy="487.2" rx="2.5" ry="1.75"/><ellipse cx="770.7" cy="425.6" rx="2.5" ry="1.75"/><ellipse cx="825.8" cy="497.2" rx="2.5" ry="1.75"/><ellipse cx="324.2" cy="379.2" rx="2.5" ry="1.75"/><ellipse cx="726.3" cy="438.7" rx="2.5" ry="1.75"/><ellipse cx="1081.6" cy="422.2" rx="2.5" ry="1.75"/><ellipse cx="248.8" cy="337.1" rx="2.5" ry="1.75"/><ellipse cx="162.8" cy="382.1" rx="2.5" ry="1.75"/><ellipse cx="542.7" cy="530.3" rx="2.5" ry="1.75"/><ellipse cx="1046.5" cy="403.5" rx="2.5" ry="1.75"/><ellipse cx="273" cy="344.3" rx="2.5" ry="1.75"/><ellipse cx="521.5" cy="474" rx="2.5" ry="1.75"/><ellipse cx="584.2" cy="443.3" rx="2.5" ry="1.75"/><ellipse cx="796.4" cy="474.8" rx="2.5" ry="1.75"/><ellipse cx="614.2" cy="443.8" rx="2.5" ry="1.75"/><ellipse cx="443.7" cy="504" rx="2.5" ry="1.75"/><ellipse cx="1075.3" cy="427.1" rx="2.5" ry="1.75"/><ellipse cx="751.4" cy="443.4" rx="2.5" ry="1.75"/><ellipse cx="683.4" cy="462.3" rx="2.5" ry="1.75"/><ellipse cx="171.5" cy="418.1" rx="2.5" ry="1.75"/><ellipse cx="809.7" cy="471.3" rx="2.5" ry="1.75"/><ellipse cx="607.2" cy="506.2" rx="2.5" ry="1.75"/><ellipse cx="371.6" cy="367.8" rx="2.5" ry="1.75"/><ellipse cx="553.9" cy="506.1" rx="2.5" ry="1.75"/><ellipse cx="773.7" cy="521.6" rx="2.5" ry="1.75"/><ellipse cx="207.3" cy="387.8" rx="2.5" ry="1.75"/><ellipse cx="721.2" cy="435.8" rx="2.5" ry="1.75"/><ellipse cx="468.5" cy="464.8" rx="2.5" ry="1.75"/><ellipse cx="540.2" cy="476.2" rx="2.5" ry="1.75"/><ellipse cx="1078.6" cy="396.6" rx="2.5" ry="1.75"/><ellipse cx="470" cy="450.6" rx="2.5" ry="1.75"/><ellipse cx="552.5" cy="512.3" rx="2.5" ry="1.75"/><ellipse cx="824.2" cy="440.1" rx="2.5" ry="1.75"/><ellipse cx="1016.6" cy="467.9" rx="2.5" ry="1.75"/><ellipse cx="621.8" cy="482.5" rx="2.5" ry="1.75"/><ellipse cx="786.8" cy="575.8" rx="2.5" ry="1.75"/><ellipse cx="693.7" cy="454.7" rx="2.5" ry="1.75"/><ellipse cx="288.1" cy="377.1" rx="2.5" ry="1.75"/><ellipse cx="197.1" cy="376.2" rx="2.5" ry="1.75"/><ellipse cx="613.2" cy="431.6" rx="2.5" ry="1.75"/><ellipse cx="981.6" cy="399.3" rx="2.5" ry="1.75"/><ellipse cx="546.9" cy="556.1" rx="2.5" ry="1.75"/><ellipse cx="252.5" cy="340.4" rx="2.5" ry="1.75"/><ellipse cx="255.1" cy="342" rx="2.5" ry="1.75"/><ellipse cx="234.6" cy="334.1" rx="2.5" ry="1.75"/><ellipse cx="408.8" cy="542" rx="2.5" ry="1.75"/><ellipse cx="739.2" cy="490.3" rx="2.5" ry="1.75"/><ellipse cx="773.6" cy="547.9" rx="2.5" ry="1.75"/><ellipse cx="600.6" cy="446.3" rx="2.5" ry="1.75"/><ellipse cx="447.2" cy="477.3" rx="2.5" ry="1.75"/><ellipse cx="750.9" cy="429.7" rx="2.5" ry="1.75"/><ellipse cx="444.1" cy="550.3" rx="2.5" ry="1.75"/><ellipse cx="259.3" cy="310.7" rx="2.5" ry="1.75"/><ellipse cx="683.3" cy="442.6" rx="2.5" ry="1.75"/><ellipse cx="477.9" cy="437.9" rx="2.5" ry="1.75"/><ellipse cx="775.4" cy="553.2" rx="2.5" ry="1.75"/><ellipse cx="638.8" cy="479.2" rx="2.5" ry="1.75"/><ellipse cx="723.1" cy="402.5" rx="2.5" ry="1.75"/><ellipse cx="733.5" cy="437.2" rx="2.5" ry="1.75"/><ellipse cx="869.1" cy="477.6" rx="2.5" ry="1.75"/><ellipse cx="635.7" cy="453.1" rx="2.5" ry="1.75"/><ellipse cx="351" cy="356.7" rx="2.5" ry="1.75"/><ellipse cx="865.9" cy="498" rx="2.5" ry="1.75"/><ellipse cx="863.9" cy="422" rx="2.5" ry="1.75"/><ellipse cx="875.1" cy="433.8" rx="2.5" ry="1.75"/><ellipse cx="572" cy="454.8" rx="2.5" ry="1.75"/><ellipse cx="307.5" cy="380.7" rx="2.5" ry="1.75"/><ellipse cx="1021.6" cy="352.6" rx="2.5" ry="1.75"/><ellipse cx="240.2" cy="375.4" rx="2.5" ry="1.75"/><ellipse cx="437.4" cy="514" rx="2.5" ry="1.75"/><ellipse cx="502.8" cy="427.1" rx="2.5" ry="1.75"/><ellipse cx="1027" cy="476.2" rx="2.5" ry="1.75"/><ellipse cx="252.7" cy="315.4" rx="2.5" ry="1.75"/><ellipse cx="267" cy="342.9" rx="2.5" ry="1.75"/><ellipse cx="726.7" cy="452.1" rx="2.5" ry="1.75"/><ellipse cx="471.6" cy="453.5" rx="2.5" ry="1.75"/><ellipse cx="175.4" cy="418.4" rx="2.5" ry="1.75"/><ellipse cx="808.9" cy="512.8" rx="2.5" ry="1.75"/><ellipse cx="395.9" cy="517.2" rx="2.5" ry="1.75"/><ellipse cx="592.1" cy="497.1" rx="2.5" ry="1.75"/><ellipse cx="414.9" cy="531.9" rx="2.5" ry="1.75"/><ellipse cx="195.4" cy="404.8" rx="2.5" ry="1.75"/><ellipse cx="1031.1" cy="409.9" rx="2.5" ry="1.75"/><ellipse cx="659" cy="434.7" rx="2.5" ry="1.75"/><ellipse cx="321.4" cy="338.5" rx="2.5" ry="1.75"/><ellipse cx="255.2" cy="333.3" rx="2.5" ry="1.75"/><ellipse cx="960.2" cy="407.5" rx="2.5" ry="1.75"/><ellipse cx="459.1" cy="473.3" rx="2.5" ry="1.75"/><ellipse cx="674.9" cy="465.2" rx="2.5" ry="1.75"/><ellipse cx="823.8" cy="474" rx="2.5" ry="1.75"/><ellipse cx="603.3" cy="435.3" rx="2.5" ry="1.75"/><ellipse cx="488.4" cy="480.6" rx="2.5" ry="1.75"/><ellipse cx="342.3" cy="390.4" rx="2.5" ry="1.75"/><ellipse cx="292.7" cy="410.1" rx="2.5" ry="1.75"/><ellipse cx="845.8" cy="538.8" rx="2.5" ry="1.75"/><ellipse cx="974.5" cy="388.4" rx="2.5" ry="1.75"/><ellipse cx="996.5" cy="408" rx="2.5" ry="1.75"/><ellipse cx="181.4" cy="442.5" rx="2.5" ry="1.75"/><ellipse cx="679.5" cy="404.6" rx="2.5" ry="1.75"/><ellipse cx="762.9" cy="480.2" rx="2.5" ry="1.75"/><ellipse cx="808" cy="429.6" rx="2.5" ry="1.75"/><ellipse cx="492.5" cy="483.7" rx="2.5" ry="1.75"/><ellipse cx="603.7" cy="460.2" rx="2.5" ry="1.75"/><ellipse cx="219.4" cy="353.7" rx="2.5" ry="1.75"/><ellipse cx="664.2" cy="482" rx="2.5" ry="1.75"/><ellipse cx="756.8" cy="432.5" rx="2.5" ry="1.75"/><ellipse cx="805.8" cy="456.4" rx="2.5" ry="1.75"/><ellipse cx="546.6" cy="513.9" rx="2.5" ry="1.75"/><ellipse cx="836.6" cy="457.6" rx="2.5" ry="1.75"/><ellipse cx="281.2" cy="308" rx="2.5" ry="1.75"/><ellipse cx="948.5" cy="407.4" rx="2.5" ry="1.75"/><ellipse cx="843.1" cy="450.4" rx="2.5" ry="1.75"/><ellipse cx="165.3" cy="414.5" rx="2.5" ry="1.75"/><ellipse cx="549.6" cy="500" rx="2.5" ry="1.75"/><ellipse cx="780.1" cy="548.2" rx="2.5" ry="1.75"/><ellipse cx="742.9" cy="472.2" rx="2.5" ry="1.75"/><ellipse cx="981.5" cy="448.7" rx="2.5" ry="1.75"/><ellipse cx="907.1" cy="512.6" rx="2.5" ry="1.75"/><ellipse cx="914" cy="497.6" rx="2.5" ry="1.75"/><ellipse cx="844.5" cy="442.2" rx="2.5" ry="1.75"/><ellipse cx="1060.2" cy="420.7" rx="2.5" ry="1.75"/><ellipse cx="331.3" cy="330.4" rx="2.5" ry="1.75"/><ellipse cx="553.3" cy="507.7" rx="2.5" ry="1.75"/><ellipse cx="950.8" cy="372.1" rx="2.5" ry="1.75"/><ellipse cx="987.3" cy="429.3" rx="2.5" ry="1.75"/><ellipse cx="557.5" cy="489.8" rx="2.5" ry="1.75"/><ellipse cx="621.7" cy="431.5" rx="2.5" ry="1.75"/><ellipse cx="182" cy="422.4" rx="2.5" ry="1.75"/><ellipse cx="216.4" cy="383" rx="2.5" ry="1.75"/><ellipse cx="723.2" cy="472.2" rx="2.5" ry="1.75"/><ellipse cx="496.8" cy="461.9" rx="2.5" ry="1.75"/><ellipse cx="879.5" cy="426.7" rx="2.5" ry="1.75"/><ellipse cx="1036.3" cy="413.3" rx="2.5" ry="1.75"/><ellipse cx="1002.6" cy="423.3" rx="2.5" ry="1.75"/><ellipse cx="320.3" cy="362.1" rx="2.5" ry="1.75"/><ellipse cx="1007.8" cy="420.9" rx="2.5" ry="1.75"/><ellipse cx="349.3" cy="354.3" rx="2.5" ry="1.75"/><ellipse cx="498.5" cy="420.3" rx="2.5" ry="1.75"/><ellipse cx="351.8" cy="352.2" rx="2.5" ry="1.75"/><ellipse cx="742.9" cy="412.8" rx="2.5" ry="1.75"/><ellipse cx="782" cy="601.4" rx="2.5" ry="1.75"/><ellipse cx="411.2" cy="633" rx="2.5" ry="1.75"/><ellipse cx="1056.6" cy="428.7" rx="2.5" ry="1.75"/><ellipse cx="263.2" cy="299.1" rx="2.5" ry="1.75"/><ellipse cx="857" cy="480.2" rx="2.5" ry="1.75"/><ellipse cx="519.9" cy="459.7" rx="2.5" ry="1.75"/><ellipse cx="374.6" cy="384" rx="2.5" ry="1.75"/><ellipse cx="247.6" cy="316.2" rx="2.5" ry="1.75"/><ellipse cx="216.4" cy="310.6" rx="2.5" ry="1.75"/><ellipse cx="510.7" cy="492.4" rx="2.5" ry="1.75"/><ellipse cx="609.2" cy="471.7" rx="2.5" ry="1.75"/><ellipse cx="293.4" cy="344.8" rx="2.5" ry="1.75"/><ellipse cx="590.8" cy="461.4" rx="2.5" ry="1.75"/><ellipse cx="451.7" cy="451.2" rx="2.5" ry="1.75"/><ellipse cx="977" cy="371.4" rx="2.5" ry="1.75"/><ellipse cx="622.6" cy="509.2" rx="2.5" ry="1.75"/><ellipse cx="599.8" cy="455.3" rx="2.5" ry="1.75"/><ellipse cx="816.7" cy="697.5" rx="2.5" ry="1.75"/><ellipse cx="167" cy="665.9" rx="2.5" ry="1.75"/><ellipse cx="546.1" cy="720.4" rx="2.5" ry="1.75"/><ellipse cx="247.4" cy="593.5" rx="2.5" ry="1.75"/><ellipse cx="454.8" cy="657" rx="2.5" ry="1.75"/><ellipse cx="455.4" cy="725.1" rx="2.5" ry="1.75"/><ellipse cx="796.6" cy="662.9" rx="2.5" ry="1.75"/><ellipse cx="816" cy="727.3" rx="2.5" ry="1.75"/><ellipse cx="442.3" cy="684.7" rx="2.5" ry="1.75"/><ellipse cx="544.4" cy="730.1" rx="2.5" ry="1.75"/><ellipse cx="581.2" cy="665.1" rx="2.5" ry="1.75"/><ellipse cx="859.2" cy="709.4" rx="2.5" ry="1.75"/><ellipse cx="544.7" cy="724.8" rx="2.5" ry="1.75"/><ellipse cx="838.4" cy="687.2" rx="2.5" ry="1.75"/><ellipse cx="270.7" cy="588.5" rx="2.5" ry="1.75"/><ellipse cx="278.1" cy="529.1" rx="2.5" ry="1.75"/><ellipse cx="520.1" cy="706.4" rx="2.5" ry="1.75"/><ellipse cx="406.4" cy="650.3" rx="2.5" ry="1.75"/><ellipse cx="416.9" cy="693.7" rx="2.5" ry="1.75"/><ellipse cx="616.5" cy="672.2" rx="2.5" ry="1.75"/><ellipse cx="322.6" cy="632.7" rx="2.5" ry="1.75"/><ellipse cx="241.4" cy="608.8" rx="2.5" ry="1.75"/><ellipse cx="710.9" cy="768.2" rx="2.5" ry="1.75"/><ellipse cx="227.7" cy="624.9" rx="2.5" ry="1.75"/><ellipse cx="701.3" cy="736.8" rx="2.5" ry="1.75"/><ellipse cx="228.6" cy="608.3" rx="2.5" ry="1.75"/><ellipse cx="241" cy="658.8" rx="2.5" ry="1.75"/><ellipse cx="573.1" cy="694.9" rx="2.5" ry="1.75"/><ellipse cx="351" cy="809.7" rx="2.5" ry="1.75"/><ellipse cx="625.4" cy="743.9" rx="2.5" ry="1.75"/><ellipse cx="892.2" cy="639" rx="2.5" ry="1.75"/><ellipse cx="735.6" cy="726.2" rx="2.5" ry="1.75"/><ellipse cx="402.1" cy="709.7" rx="2.5" ry="1.75"/><ellipse cx="502.9" cy="643" rx="2.5" ry="1.75"/><ellipse cx="868.4" cy="638.6" rx="2.5" ry="1.75"/><ellipse cx="896.9" cy="639.4" rx="2.5" ry="1.75"/><ellipse cx="374.2" cy="676.8" rx="2.5" ry="1.75"/><ellipse cx="650.1" cy="745.3" rx="2.5" ry="1.75"/><ellipse cx="171.1" cy="639.6" rx="2.5" ry="1.75"/><ellipse cx="764" cy="653.1" rx="2.5" ry="1.75"/><ellipse cx="373.9" cy="705.4" rx="2.5" ry="1.75"/><ellipse cx="773.3" cy="685.4" rx="2.5" ry="1.75"/><ellipse cx="383.8" cy="671.8" rx="2.5" ry="1.75"/><ellipse cx="871.8" cy="633.8" rx="2.5" ry="1.75"/><ellipse cx="614.3" cy="665.2" rx="2.5" ry="1.75"/><ellipse cx="370.8" cy="673.5" rx="2.5" ry="1.75"/><ellipse cx="478.9" cy="659.9" rx="2.5" ry="1.75"/><ellipse cx="463.8" cy="662.8" rx="2.5" ry="1.75"/><ellipse cx="452.6" cy="654.1" rx="2.5" ry="1.75"/><ellipse cx="312.5" cy="606.1" rx="2.5" ry="1.75"/><ellipse cx="818.4" cy="725.7" rx="2.5" ry="1.75"/><ellipse cx="451.3" cy="658.7" rx="2.5" ry="1.75"/><ellipse cx="835.4" cy="605.7" rx="2.5" ry="1.75"/><ellipse cx="173.7" cy="718.7" rx="2.5" ry="1.75"/><ellipse cx="430.4" cy="791.1" rx="2.5" ry="1.75"/><ellipse cx="822.8" cy="733.7" rx="2.5" ry="1.75"/><ellipse cx="377.9" cy="689.7" rx="2.5" ry="1.75"/><ellipse cx="510.6" cy="696.8" rx="2.5" ry="1.75"/><ellipse cx="617" cy="721.1" rx="2.5" ry="1.75"/><ellipse cx="690.3" cy="725.6" rx="2.5" ry="1.75"/><ellipse cx="429.1" cy="666.5" rx="2.5" ry="1.75"/><ellipse cx="498.4" cy="681.9" rx="2.5" ry="1.75"/><ellipse cx="402.4" cy="706.5" rx="2.5" ry="1.75"/><ellipse cx="194.7" cy="663.1" rx="2.5" ry="1.75"/><ellipse cx="666.9" cy="708.5" rx="2.5" ry="1.75"/><ellipse cx="841.6" cy="635.1" rx="2.5" ry="1.75"/><ellipse cx="647.7" cy="703.7" rx="2.5" ry="1.75"/><ellipse cx="202.6" cy="634.5" rx="2.5" ry="1.75"/><ellipse cx="339.5" cy="716" rx="2.5" ry="1.75"/><ellipse cx="690.1" cy="738.2" rx="2.5" ry="1.75"/><ellipse cx="503" cy="669.3" rx="2.5" ry="1.75"/><ellipse cx="507.3" cy="710.7" rx="2.5" ry="1.75"/><ellipse cx="664.4" cy="746.5" rx="2.5" ry="1.75"/><ellipse cx="719" cy="774.4" rx="2.5" ry="1.75"/><ellipse cx="390.1" cy="671.9" rx="2.5" ry="1.75"/><ellipse cx="313.6" cy="625.1" rx="2.5" ry="1.75"/><ellipse cx="861.6" cy="609.1" rx="2.5" ry="1.75"/><ellipse cx="713.5" cy="747.6" rx="2.5" ry="1.75"/><ellipse cx="642.8" cy="712" rx="2.5" ry="1.75"/><ellipse cx="719.3" cy="741.5" rx="2.5" ry="1.75"/><ellipse cx="513.2" cy="705.4" rx="2.5" ry="1.75"/><ellipse cx="226.5" cy="658.4" rx="2.5" ry="1.75"/><ellipse cx="780.6" cy="715.6" rx="2.5" ry="1.75"/><ellipse cx="659.9" cy="659.1" rx="2.5" ry="1.75"/><ellipse cx="189.9" cy="653" rx="2.5" ry="1.75"/><ellipse cx="700.5" cy="780.9" rx="2.5" ry="1.75"/><ellipse cx="374.7" cy="814.5" rx="2.5" ry="1.75"/><ellipse cx="812.2" cy="679" rx="2.5" ry="1.75"/><ellipse cx="163.9" cy="681.2" rx="2.5" ry="1.75"/><ellipse cx="679.5" cy="752.8" rx="2.5" ry="1.75"/><ellipse cx="203.9" cy="689.4" rx="2.5" ry="1.75"/><ellipse cx="663.7" cy="707.9" rx="2.5" ry="1.75"/><ellipse cx="676.4" cy="683.6" rx="2.5" ry="1.75"/><ellipse cx="432.6" cy="740.7" rx="2.5" ry="1.75"/><ellipse cx="261.4" cy="642.2" rx="2.5" ry="1.75"/><ellipse cx="684.7" cy="711.1" rx="2.5" ry="1.75"/><ellipse cx="396.8" cy="673.5" rx="2.5" ry="1.75"/><ellipse cx="588.7" cy="721.7" rx="2.5" ry="1.75"/><ellipse cx="833.2" cy="678.7" rx="2.5" ry="1.75"/><ellipse cx="577.8" cy="679.9" rx="2.5" ry="1.75"/><ellipse cx="770" cy="672.4" rx="2.5" ry="1.75"/><ellipse cx="203.8" cy="671.3" rx="2.5" ry="1.75"/><ellipse cx="282.2" cy="552.5" rx="2.5" ry="1.75"/><ellipse cx="281.2" cy="597.9" rx="2.5" ry="1.75"/><ellipse cx="689.1" cy="694.7" rx="2.5" ry="1.75"/><ellipse cx="861.1" cy="630.1" rx="2.5" ry="1.75"/><ellipse cx="592.1" cy="669.6" rx="2.5" ry="1.75"/><ellipse cx="597.1" cy="713.8" rx="2.5" ry="1.75"/><ellipse cx="689.9" cy="737.3" rx="2.5" ry="1.75"/><ellipse cx="540.8" cy="669" rx="2.5" ry="1.75"/><ellipse cx="276.9" cy="581.3" rx="2.5" ry="1.75"/><ellipse cx="766.6" cy="720.3" rx="2.5" ry="1.75"/><ellipse cx="213.4" cy="644.8" rx="2.5" ry="1.75"/><ellipse cx="637.2" cy="760.7" rx="2.5" ry="1.75"/><ellipse cx="845.7" cy="612.1" rx="2.5" ry="1.75"/><ellipse cx="875.4" cy="680" rx="2.5" ry="1.75"/><ellipse cx="351.3" cy="765.9" rx="2.5" ry="1.75"/><ellipse cx="534.6" cy="629.4" rx="2.5" ry="1.75"/><ellipse cx="631.4" cy="678.7" rx="2.5" ry="1.75"/><ellipse cx="595.2" cy="740.1" rx="2.5" ry="1.75"/><ellipse cx="645.3" cy="747.1" rx="2.5" ry="1.75"/><ellipse cx="791.6" cy="694.9" rx="2.5" ry="1.75"/><ellipse cx="676.4" cy="706.5" rx="2.5" ry="1.75"/><ellipse cx="285.1" cy="567.3" rx="2.5" ry="1.75"/><ellipse cx="252.9" cy="619.7" rx="2.5" ry="1.75"/><ellipse cx="347.2" cy="703" rx="2.5" ry="1.75"/><ellipse cx="226.8" cy="615.2" rx="2.5" ry="1.75"/><ellipse cx="273.8" cy="614.7" rx="2.5" ry="1.75"/><ellipse cx="194.9" cy="670.4" rx="2.5" ry="1.75"/><ellipse cx="370.7" cy="677.5" rx="2.5" ry="1.75"/><ellipse cx="687.8" cy="768.9" rx="2.5" ry="1.75"/><ellipse cx="860.8" cy="652.5" rx="2.5" ry="1.75"/><ellipse cx="609.7" cy="686.2" rx="2.5" ry="1.75"/><ellipse cx="761.7" cy="699.1" rx="2.5" ry="1.75"/><ellipse cx="565.3" cy="707.9" rx="2.5" ry="1.75"/><ellipse cx="647.5" cy="753.1" rx="2.5" ry="1.75"/><ellipse cx="820.8" cy="701" rx="2.5" ry="1.75"/><ellipse cx="697.8" cy="742.6" rx="2.5" ry="1.75"/><ellipse cx="292.4" cy="683.5" rx="2.5" ry="1.75"/><ellipse cx="876.3" cy="622.2" rx="2.5" ry="1.75"/><ellipse cx="819.8" cy="678.9" rx="2.5" ry="1.75"/><ellipse cx="716.8" cy="710.9" rx="2.5" ry="1.75"/><ellipse cx="426.6" cy="649.4" rx="2.5" ry="1.75"/><ellipse cx="464.1" cy="658.1" rx="2.5" ry="1.75"/><ellipse cx="447.3" cy="687" rx="2.5" ry="1.75"/><ellipse cx="874.3" cy="639.3" rx="2.5" ry="1.75"/><ellipse cx="277.1" cy="486.4" rx="2.5" ry="1.75"/><ellipse cx="739.8" cy="683.1" rx="2.5" ry="1.75"/><ellipse cx="600.7" cy="686.1" rx="2.5" ry="1.75"/><ellipse cx="718.3" cy="728.7" rx="2.5" ry="1.75"/><ellipse cx="423.5" cy="698.4" rx="2.5" ry="1.75"/><ellipse cx="568.2" cy="663.9" rx="2.5" ry="1.75"/><ellipse cx="264.2" cy="647.4" rx="2.5" ry="1.75"/><ellipse cx="780.1" cy="686.6" rx="2.5" ry="1.75"/><ellipse cx="248.7" cy="588.8" rx="2.5" ry="1.75"/><ellipse cx="247.1" cy="595.6" rx="2.5" ry="1.75"/><ellipse cx="435.7" cy="710.3" rx="2.5" ry="1.75"/><ellipse cx="805.5" cy="671.9" rx="2.5" ry="1.75"/><ellipse cx="274.1" cy="595" rx="2.5" ry="1.75"/><ellipse cx="537" cy="657" rx="2.5" ry="1.75"/><ellipse cx="755" cy="703.7" rx="2.5" ry="1.75"/><ellipse cx="248.5" cy="602" rx="2.5" ry="1.75"/><ellipse cx="348.6" cy="797.4" rx="2.5" ry="1.75"/><ellipse cx="866.5" cy="637.5" rx="2.5" ry="1.75"/><ellipse cx="824.7" cy="675.1" rx="2.5" ry="1.75"/><ellipse cx="486.7" cy="673.2" rx="2.5" ry="1.75"/><ellipse cx="470.9" cy="667.4" rx="2.5" ry="1.75"/><ellipse cx="725.7" cy="701.6" rx="2.5" ry="1.75"/><ellipse cx="781.4" cy="728.9" rx="2.5" ry="1.75"/><ellipse cx="257.3" cy="561" rx="2.5" ry="1.75"/><ellipse cx="281.1" cy="588.8" rx="2.5" ry="1.75"/><ellipse cx="316.4" cy="604.2" rx="2.5" ry="1.75"/><ellipse cx="263.7" cy="628.5" rx="2.5" ry="1.75"/><ellipse cx="592.3" cy="715.1" rx="2.5" ry="1.75"/><ellipse cx="441.2" cy="668.2" rx="2.5" ry="1.75"/><ellipse cx="512.2" cy="714.8" rx="2.5" ry="1.75"/><ellipse cx="204.8" cy="635" rx="2.5" ry="1.75"/><ellipse cx="685.6" cy="725.7" rx="2.5" ry="1.75"/><ellipse cx="703.9" cy="734.5" rx="2.5" ry="1.75"/><ellipse cx="728.1" cy="719.4" rx="2.5" ry="1.75"/><ellipse cx="473.1" cy="673.4" rx="2.5" ry="1.75"/><ellipse cx="833.5" cy="708.4" rx="2.5" ry="1.75"/><ellipse cx="728.4" cy="744.5" rx="2.5" ry="1.75"/><ellipse cx="731" cy="746.6" rx="2.5" ry="1.75"/><ellipse cx="848.9" cy="658" rx="2.5" ry="1.75"/><ellipse cx="869.5" cy="657" rx="2.5" ry="1.75"/><ellipse cx="316.9" cy="634.5" rx="2.5" ry="1.75"/><ellipse cx="312.7" cy="563.4" rx="2.5" ry="1.75"/><ellipse cx="568.5" cy="688.1" rx="2.5" ry="1.75"/><ellipse cx="165.5" cy="703.2" rx="2.5" ry="1.75"/><ellipse cx="659.4" cy="613.1" rx="2.5" ry="1.75"/><ellipse cx="607.4" cy="685.6" rx="2.5" ry="1.75"/><ellipse cx="837" cy="628.4" rx="2.5" ry="1.75"/><ellipse cx="168.2" cy="744.6" rx="2.5" ry="1.75"/><ellipse cx="723.6" cy="726.3" rx="2.5" ry="1.75"/><ellipse cx="892.3" cy="605.3" rx="2.5" ry="1.75"/><ellipse cx="665.5" cy="728.5" rx="2.5" ry="1.75"/><ellipse cx="238.6" cy="596.8" rx="2.5" ry="1.75"/><ellipse cx="823.6" cy="688" rx="2.5" ry="1.75"/><ellipse cx="733.4" cy="705.8" rx="2.5" ry="1.75"/><ellipse cx="659.5" cy="682.3" rx="2.5" ry="1.75"/><ellipse cx="383.3" cy="682.2" rx="2.5" ry="1.75"/><ellipse cx="290" cy="612.8" rx="2.5" ry="1.75"/><ellipse cx="843.3" cy="661.1" rx="2.5" ry="1.75"/><ellipse cx="183.9" cy="687.8" rx="2.5" ry="1.75"/><ellipse cx="176" cy="703.4" rx="2.5" ry="1.75"/><ellipse cx="772.2" cy="728.6" rx="2.5" ry="1.75"/><ellipse cx="748.2" cy="703.3" rx="2.5" ry="1.75"/><ellipse cx="452.9" cy="659.4" rx="2.5" ry="1.75"/><ellipse cx="791.8" cy="651.4" rx="2.5" ry="1.75"/><ellipse cx="900.3" cy="655" rx="2.5" ry="1.75"/><ellipse cx="339.7" cy="682.3" rx="2.5" ry="1.75"/><ellipse cx="496.5" cy="716.8" rx="2.5" ry="1.75"/><ellipse cx="517.9" cy="681.8" rx="2.5" ry="1.75"/><ellipse cx="499.4" cy="608.9" rx="2.5" ry="1.75"/><ellipse cx="472.6" cy="659" rx="2.5" ry="1.75"/><ellipse cx="225" cy="618" rx="2.5" ry="1.75"/><ellipse cx="482.5" cy="685.7" rx="2.5" ry="1.75"/><ellipse cx="579" cy="678.3" rx="2.5" ry="1.75"/><ellipse cx="420" cy="730.3" rx="2.5" ry="1.75"/><ellipse cx="816.9" cy="700" rx="2.5" ry="1.75"/><ellipse cx="887.4" cy="674.8" rx="2.5" ry="1.75"/><ellipse cx="178.8" cy="690.2" rx="2.5" ry="1.75"/><ellipse cx="462.8" cy="644.7" rx="2.5" ry="1.75"/><ellipse cx="886" cy="685.1" rx="2.5" ry="1.75"/><ellipse cx="769.4" cy="725.2" rx="2.5" ry="1.75"/><ellipse cx="308.5" cy="647.4" rx="2.5" ry="1.75"/><ellipse cx="629.9" cy="720" rx="2.5" ry="1.75"/><ellipse cx="442.4" cy="696.9" rx="2.5" ry="1.75"/><ellipse cx="646.2" cy="739.6" rx="2.5" ry="1.75"/><ellipse cx="363.6" cy="709.9" rx="2.5" ry="1.75"/><ellipse cx="716" cy="715.6" rx="2.5" ry="1.75"/><ellipse cx="609.8" cy="694.4" rx="2.5" ry="1.75"/><ellipse cx="765.8" cy="701.4" rx="2.5" ry="1.75"/><ellipse cx="717.6" cy="769.9" rx="2.5" ry="1.75"/><ellipse cx="767.4" cy="713.7" rx="2.5" ry="1.75"/><ellipse cx="188.1" cy="667.1" rx="2.5" ry="1.75"/><ellipse cx="178.6" cy="719.4" rx="2.5" ry="1.75"/><ellipse cx="621.7" cy="722.2" rx="2.5" ry="1.75"/><ellipse cx="871.7" cy="657.6" rx="2.5" ry="1.75"/><ellipse cx="275.8" cy="611.1" rx="2.5" ry="1.75"/><ellipse cx="647.4" cy="730.6" rx="2.5" ry="1.75"/><ellipse cx="550.3" cy="659.3" rx="2.5" ry="1.75"/><ellipse cx="264.2" cy="632" rx="2.5" ry="1.75"/><ellipse cx="236.2" cy="638.5" rx="2.5" ry="1.75"/><ellipse cx="540.4" cy="724.5" rx="2.5" ry="1.75"/><ellipse cx="643.9" cy="744.5" rx="2.5" ry="1.75"/><ellipse cx="594" cy="716.9" rx="2.5" ry="1.75"/><ellipse cx="775.5" cy="685" rx="2.5" ry="1.75"/><ellipse cx="496.9" cy="651.4" rx="2.5" ry="1.75"/><ellipse cx="617.2" cy="676.2" rx="2.5" ry="1.75"/><ellipse cx="561" cy="673.8" rx="2.5" ry="1.75"/><ellipse cx="306.7" cy="628" rx="2.5" ry="1.75"/><ellipse cx="499.6" cy="663.4" rx="2.5" ry="1.75"/><ellipse cx="806.5" cy="720.9" rx="2.5" ry="1.75"/><ellipse cx="639.5" cy="721.5" rx="2.5" ry="1.75"/><ellipse cx="188.5" cy="681.1" rx="2.5" ry="1.75"/><ellipse cx="289.7" cy="623.3" rx="2.5" ry="1.75"/><ellipse cx="527.1" cy="684.6" rx="2.5" ry="1.75"/><ellipse cx="429.7" cy="743.2" rx="2.5" ry="1.75"/><ellipse cx="672.6" cy="682" rx="2.5" ry="1.75"/><ellipse cx="175.1" cy="718.6" rx="2.5" ry="1.75"/><ellipse cx="560.5" cy="697.3" rx="2.5" ry="1.75"/><ellipse cx="608.9" cy="702.2" rx="2.5" ry="1.75"/><ellipse cx="798.2" cy="692" rx="2.5" ry="1.75"/><ellipse cx="196.7" cy="691.3" rx="2.5" ry="1.75"/><ellipse cx="744.8" cy="682.4" rx="2.5" ry="1.75"/><ellipse cx="705" cy="698.6" rx="2.5" ry="1.75"/><ellipse cx="235.4" cy="673.5" rx="2.5" ry="1.75"/><ellipse cx="165" cy="723.8" rx="2.5" ry="1.75"/><ellipse cx="254.3" cy="575.3" rx="2.5" ry="1.75"/><ellipse cx="173.9" cy="735.8" rx="2.5" ry="1.75"/><ellipse cx="400.9" cy="662.7" rx="2.5" ry="1.75"/><ellipse cx="862.8" cy="724.6" rx="2.5" ry="1.75"/><ellipse cx="742.1" cy="727.2" rx="2.5" ry="1.75"/><ellipse cx="810.4" cy="702.1" rx="2.5" ry="1.75"/><ellipse cx="391.7" cy="674.8" rx="2.5" ry="1.75"/><ellipse cx="561.5" cy="731.9" rx="2.5" ry="1.75"/><ellipse cx="668.7" cy="724.1" rx="2.5" ry="1.75"/><ellipse cx="168.3" cy="690.8" rx="2.5" ry="1.75"/><ellipse cx="880.4" cy="678.9" rx="2.5" ry="1.75"/><ellipse cx="203.3" cy="649.3" rx="2.5" ry="1.75"/><ellipse cx="740.9" cy="695.3" rx="2.5" ry="1.75"/><ellipse cx="268.8" cy="608" rx="2.5" ry="1.75"/><ellipse cx="871.1" cy="661.7" rx="2.5" ry="1.75"/><ellipse cx="899.6" cy="702.4" rx="2.5" ry="1.75"/><ellipse cx="590.9" cy="677.8" rx="2.5" ry="1.75"/><ellipse cx="313.1" cy="603.1" rx="2.5" ry="1.75"/><ellipse cx="619.8" cy="727" rx="2.5" ry="1.75"/><ellipse cx="221.4" cy="628.3" rx="2.5" ry="1.75"/><ellipse cx="752.2" cy="717.6" rx="2.5" ry="1.75"/><ellipse cx="725.9" cy="805.9" rx="2.5" ry="1.75"/><ellipse cx="289.6" cy="606.9" rx="2.5" ry="1.75"/><ellipse cx="834.1" cy="669.1" rx="2.5" ry="1.75"/><ellipse cx="715.8" cy="715.9" rx="2.5" ry="1.75"/><ellipse cx="371" cy="705.6" rx="2.5" ry="1.75"/><ellipse cx="298.9" cy="569.9" rx="2.5" ry="1.75"/><ellipse cx="491.6" cy="694.1" rx="2.5" ry="1.75"/><ellipse cx="838.5" cy="649.8" rx="2.5" ry="1.75"/><ellipse cx="644" cy="738.2" rx="2.5" ry="1.75"/><ellipse cx="962.4" cy="632.9" rx="2.5" ry="1.75"/><ellipse cx="959.5" cy="603" rx="2.5" ry="1.75"/><ellipse cx="1208.1" cy="691.1" rx="2.5" ry="1.75"/><ellipse cx="935.2" cy="658" rx="2.5" ry="1.75"/><ellipse cx="1051.6" cy="651.6" rx="2.5" ry="1.75"/><ellipse cx="986.9" cy="650" rx="2.5" ry="1.75"/><ellipse cx="1094.8" cy="663.4" rx="2.5" ry="1.75"/><ellipse cx="1107.1" cy="656.1" rx="2.5" ry="1.75"/><ellipse cx="950.9" cy="588.2" rx="2.5" ry="1.75"/><ellipse cx="982.6" cy="603.5" rx="2.5" ry="1.75"/><ellipse cx="1168.3" cy="726.9" rx="2.5" ry="1.75"/><ellipse cx="1007" cy="753.5" rx="2.5" ry="1.75"/><ellipse cx="1099.6" cy="644.6" rx="2.5" ry="1.75"/><ellipse cx="1063.2" cy="617.2" rx="2.5" ry="1.75"/><ellipse cx="1170.5" cy="701" rx="2.5" ry="1.75"/><ellipse cx="1194.1" cy="651.2" rx="2.5" ry="1.75"/><ellipse cx="1023.4" cy="695.3" rx="2.5" ry="1.75"/><ellipse cx="1073.9" cy="601.5" rx="2.5" ry="1.75"/><ellipse cx="983.3" cy="576.7" rx="2.5" ry="1.75"/><ellipse cx="1226.4" cy="695" rx="2.5" ry="1.75"/><ellipse cx="984.1" cy="618.6" rx="2.5" ry="1.75"/><ellipse cx="1017.9" cy="682.9" rx="2.5" ry="1.75"/><ellipse cx="1117.9" cy="691.2" rx="2.5" ry="1.75"/><ellipse cx="1054.5" cy="663" rx="2.5" ry="1.75"/><ellipse cx="1242.4" cy="683.2" rx="2.5" ry="1.75"/><ellipse cx="921.9" cy="679.5" rx="2.5" ry="1.75"/><ellipse cx="1172.3" cy="695.6" rx="2.5" ry="1.75"/><ellipse cx="1150" cy="698.8" rx="2.5" ry="1.75"/><ellipse cx="1078" cy="619.6" rx="2.5" ry="1.75"/><ellipse cx="1072.9" cy="607.2" rx="2.5" ry="1.75"/><ellipse cx="1086.8" cy="631.5" rx="2.5" ry="1.75"/><ellipse cx="1062.8" cy="571.4" rx="2.5" ry="1.75"/><ellipse cx="975.6" cy="611.9" rx="2.5" ry="1.75"/><ellipse cx="1087.7" cy="622.8" rx="2.5" ry="1.75"/><ellipse cx="1199.1" cy="668.4" rx="2.5" ry="1.75"/><ellipse cx="1228.1" cy="685" rx="2.5" ry="1.75"/><ellipse cx="973" cy="571" rx="2.5" ry="1.75"/><ellipse cx="934.4" cy="640.4" rx="2.5" ry="1.75"/><ellipse cx="1092.4" cy="661.3" rx="2.5" ry="1.75"/><ellipse cx="1041" cy="643.4" rx="2.5" ry="1.75"/><ellipse cx="549.5" cy="1226.1" rx="2.5" ry="1.75"/><ellipse cx="276" cy="1072.8" rx="2.5" ry="1.75"/><ellipse cx="522.2" cy="1133.4" rx="2.5" ry="1.75"/><ellipse cx="229.3" cy="1123.8" rx="2.5" ry="1.75"/><ellipse cx="209.4" cy="1158.7" rx="2.5" ry="1.75"/><ellipse cx="300.4" cy="1097.5" rx="2.5" ry="1.75"/><ellipse cx="526.4" cy="1189.8" rx="2.5" ry="1.75"/><ellipse cx="476.7" cy="1138.2" rx="2.5" ry="1.75"/><ellipse cx="303.2" cy="1082.7" rx="2.5" ry="1.75"/><ellipse cx="289" cy="1052.5" rx="2.5" ry="1.75"/><ellipse cx="473.4" cy="1104.7" rx="2.5" ry="1.75"/><ellipse cx="493.7" cy="1185.2" rx="2.5" ry="1.75"/><ellipse cx="467.5" cy="1186.4" rx="2.5" ry="1.75"/><ellipse cx="172.6" cy="1142.4" rx="2.5" ry="1.75"/><ellipse cx="195.4" cy="1118.4" rx="2.5" ry="1.75"/><ellipse cx="203.7" cy="1138.2" rx="2.5" ry="1.75"/><ellipse cx="226.6" cy="1127.1" rx="2.5" ry="1.75"/><ellipse cx="279.4" cy="1107.8" rx="2.5" ry="1.75"/><ellipse cx="433.9" cy="1164.2" rx="2.5" ry="1.75"/><ellipse cx="246.8" cy="1052.3" rx="2.5" ry="1.75"/><ellipse cx="216.6" cy="1120.7" rx="2.5" ry="1.75"/><ellipse cx="250.7" cy="1101.9" rx="2.5" ry="1.75"/><ellipse cx="213.2" cy="1110.6" rx="2.5" ry="1.75"/><ellipse cx="434.9" cy="1161.9" rx="2.5" ry="1.75"/><ellipse cx="445" cy="1144.2" rx="2.5" ry="1.75"/><ellipse cx="550.9" cy="1173.7" rx="2.5" ry="1.75"/><ellipse cx="229.9" cy="1131.6" rx="2.5" ry="1.75"/><ellipse cx="288.8" cy="1047.7" rx="2.5" ry="1.75"/><ellipse cx="348.6" cy="1110.4" rx="2.5" ry="1.75"/><ellipse cx="559.3" cy="1200.9" rx="2.5" ry="1.75"/><ellipse cx="277.7" cy="1084.6" rx="2.5" ry="1.75"/><ellipse cx="480.6" cy="1174.9" rx="2.5" ry="1.75"/><ellipse cx="208.5" cy="1099.4" rx="2.5" ry="1.75"/><ellipse cx="303.7" cy="1087.5" rx="2.5" ry="1.75"/><ellipse cx="291.1" cy="1111.8" rx="2.5" ry="1.75"/><ellipse cx="171.7" cy="1169.3" rx="2.5" ry="1.75"/><ellipse cx="186.6" cy="1194.4" rx="2.5" ry="1.75"/><ellipse cx="502.5" cy="1188.2" rx="2.5" ry="1.75"/><ellipse cx="362" cy="1105.9" rx="2.5" ry="1.75"/><ellipse cx="185.1" cy="1174.3" rx="2.5" ry="1.75"/><ellipse cx="357.2" cy="1116.8" rx="2.5" ry="1.75"/><ellipse cx="364.5" cy="1104.7" rx="2.5" ry="1.75"/><ellipse cx="333.1" cy="1053.7" rx="2.5" ry="1.75"/><ellipse cx="244.5" cy="1041" rx="2.5" ry="1.75"/><ellipse cx="408.4" cy="1157.4" rx="2.5" ry="1.75"/><ellipse cx="226.8" cy="1080" rx="2.5" ry="1.75"/><ellipse cx="560.3" cy="1179.3" rx="2.5" ry="1.75"/><ellipse cx="336.8" cy="1163.7" rx="2.5" ry="1.75"/><ellipse cx="294.8" cy="1025.1" rx="2.5" ry="1.75"/><ellipse cx="486.5" cy="1221.6" rx="2.5" ry="1.75"/><ellipse cx="394.8" cy="1137.2" rx="2.5" ry="1.75"/><ellipse cx="361.9" cy="1136.3" rx="2.5" ry="1.75"/><ellipse cx="220.6" cy="1047.9" rx="2.5" ry="1.75"/><ellipse cx="184.8" cy="1153.7" rx="2.5" ry="1.75"/><ellipse cx="528.4" cy="1174" rx="2.5" ry="1.75"/><ellipse cx="432.9" cy="1166.1" rx="2.5" ry="1.75"/><ellipse cx="369.5" cy="1078.4" rx="2.5" ry="1.75"/><ellipse cx="269.6" cy="1038.8" rx="2.5" ry="1.75"/><ellipse cx="296.3" cy="1062.5" rx="2.5" ry="1.75"/><ellipse cx="183.9" cy="1163.3" rx="2.5" ry="1.75"/><ellipse cx="190.5" cy="1173.6" rx="2.5" ry="1.75"/><ellipse cx="178.1" cy="1175.6" rx="2.5" ry="1.75"/><ellipse cx="448.3" cy="1185.1" rx="2.5" ry="1.75"/><ellipse cx="499.5" cy="1202.7" rx="2.5" ry="1.75"/><ellipse cx="378.8" cy="1091" rx="2.5" ry="1.75"/><ellipse cx="466.2" cy="1181.4" rx="2.5" ry="1.75"/><ellipse cx="484.9" cy="1189.7" rx="2.5" ry="1.75"/><ellipse cx="480.1" cy="1180.6" rx="2.5" ry="1.75"/><ellipse cx="406.2" cy="1190.6" rx="2.5" ry="1.75"/><ellipse cx="498.7" cy="1190.1" rx="2.5" ry="1.75"/><ellipse cx="466" cy="1181.5" rx="2.5" ry="1.75"/><ellipse cx="420.5" cy="1140.5" rx="2.5" ry="1.75"/><ellipse cx="445.2" cy="1202" rx="2.5" ry="1.75"/><ellipse cx="444.8" cy="1129.5" rx="2.5" ry="1.75"/><ellipse cx="310.4" cy="1043.5" rx="2.5" ry="1.75"/><ellipse cx="444.7" cy="1167.3" rx="2.5" ry="1.75"/><ellipse cx="203.3" cy="1164.7" rx="2.5" ry="1.75"/><ellipse cx="198.8" cy="1144.7" rx="2.5" ry="1.75"/><ellipse cx="416.6" cy="1147.6" rx="2.5" ry="1.75"/><ellipse cx="332.5" cy="1070.9" rx="2.5" ry="1.75"/><ellipse cx="508.7" cy="1155.7" rx="2.5" ry="1.75"/><ellipse cx="206.2" cy="1138.8" rx="2.5" ry="1.75"/><ellipse cx="459.3" cy="1185.7" rx="2.5" ry="1.75"/><ellipse cx="407" cy="1109.8" rx="2.5" ry="1.75"/><ellipse cx="347.9" cy="1180.3" rx="2.5" ry="1.75"/><ellipse cx="429.4" cy="1146.6" rx="2.5" ry="1.75"/><ellipse cx="312.9" cy="1056.8" rx="2.5" ry="1.75"/><ellipse cx="250.1" cy="1075.6" rx="2.5" ry="1.75"/><ellipse cx="446.3" cy="1135.4" rx="2.5" ry="1.75"/><ellipse cx="282.8" cy="1033" rx="2.5" ry="1.75"/><ellipse cx="461.2" cy="1192.7" rx="2.5" ry="1.75"/><ellipse cx="448" cy="1173.2" rx="2.5" ry="1.75"/><ellipse cx="243" cy="1064.1" rx="2.5" ry="1.75"/><ellipse cx="301.3" cy="1090.3" rx="2.5" ry="1.75"/><ellipse cx="488.4" cy="1183.4" rx="2.5" ry="1.75"/><ellipse cx="310.1" cy="1081.8" rx="2.5" ry="1.75"/><ellipse cx="445" cy="1162.3" rx="2.5" ry="1.75"/><ellipse cx="558.7" cy="1231.2" rx="2.5" ry="1.75"/><ellipse cx="537.3" cy="1178" rx="2.5" ry="1.75"/><ellipse cx="204.2" cy="1132.3" rx="2.5" ry="1.75"/><ellipse cx="327.1" cy="1056.7" rx="2.5" ry="1.75"/><ellipse cx="355.4" cy="1115.1" rx="2.5" ry="1.75"/><ellipse cx="500.2" cy="1188.3" rx="2.5" ry="1.75"/><ellipse cx="420.6" cy="1183.9" rx="2.5" ry="1.75"/><ellipse cx="175.7" cy="1124.6" rx="2.5" ry="1.75"/><ellipse cx="199.8" cy="1110.4" rx="2.5" ry="1.75"/><ellipse cx="358.3" cy="1083.9" rx="2.5" ry="1.75"/><ellipse cx="350.2" cy="1103.8" rx="2.5" ry="1.75"/><ellipse cx="491.3" cy="1164" rx="2.5" ry="1.75"/><ellipse cx="341.6" cy="1103.1" rx="2.5" ry="1.75"/><ellipse cx="415.5" cy="1195.7" rx="2.5" ry="1.75"/><ellipse cx="200" cy="1137.1" rx="2.5" ry="1.75"/><ellipse cx="366.9" cy="1072.8" rx="2.5" ry="1.75"/><ellipse cx="276.1" cy="993.2" rx="2.5" ry="1.75"/><ellipse cx="310.2" cy="1089" rx="2.5" ry="1.75"/><ellipse cx="240.7" cy="1059.4" rx="2.5" ry="1.75"/><ellipse cx="190.6" cy="1163.4" rx="2.5" ry="1.75"/><ellipse cx="239.4" cy="1058.7" rx="2.5" ry="1.75"/><ellipse cx="302" cy="1012.8" rx="2.5" ry="1.75"/><ellipse cx="405.9" cy="1146.4" rx="2.5" ry="1.75"/><ellipse cx="311.6" cy="1085.3" rx="2.5" ry="1.75"/><ellipse cx="528.6" cy="1174.4" rx="2.5" ry="1.75"/><ellipse cx="188.8" cy="1158" rx="2.5" ry="1.75"/><ellipse cx="261.4" cy="1038.4" rx="2.5" ry="1.75"/><ellipse cx="441.6" cy="1195.7" rx="2.5" ry="1.75"/><ellipse cx="419.9" cy="1159.4" rx="2.5" ry="1.75"/><ellipse cx="453.9" cy="1126.5" rx="2.5" ry="1.75"/><ellipse cx="387.9" cy="1082.2" rx="2.5" ry="1.75"/><ellipse cx="481.7" cy="1200.5" rx="2.5" ry="1.75"/><ellipse cx="342.7" cy="1177.8" rx="2.5" ry="1.75"/><ellipse cx="405.6" cy="1130.2" rx="2.5" ry="1.75"/><ellipse cx="465.3" cy="1180.4" rx="2.5" ry="1.75"/><ellipse cx="480.3" cy="1175.9" rx="2.5" ry="1.75"/><ellipse cx="546.6" cy="1153.8" rx="2.5" ry="1.75"/><ellipse cx="495.6" cy="1228.6" rx="2.5" ry="1.75"/><ellipse cx="201.4" cy="1123.5" rx="2.5" ry="1.75"/><ellipse cx="297.5" cy="1080.8" rx="2.5" ry="1.75"/><ellipse cx="202.2" cy="1075.5" rx="2.5" ry="1.75"/><ellipse cx="402.4" cy="1169.4" rx="2.5" ry="1.75"/><ellipse cx="181.4" cy="1182.1" rx="2.5" ry="1.75"/><ellipse cx="306.1" cy="1098.4" rx="2.5" ry="1.75"/><ellipse cx="386.1" cy="1069.8" rx="2.5" ry="1.75"/><ellipse cx="312.4" cy="1046" rx="2.5" ry="1.75"/><ellipse cx="319.3" cy="1090.1" rx="2.5" ry="1.75"/><ellipse cx="499.7" cy="1179.1" rx="2.5" ry="1.75"/><ellipse cx="197.6" cy="1110.1" rx="2.5" ry="1.75"/><ellipse cx="272.9" cy="1015.1" rx="2.5" ry="1.75"/><ellipse cx="268.3" cy="1027.4" rx="2.5" ry="1.75"/><ellipse cx="211.5" cy="1172.4" rx="2.5" ry="1.75"/><ellipse cx="351.6" cy="1059.7" rx="2.5" ry="1.75"/><ellipse cx="453.5" cy="1157.8" rx="2.5" ry="1.75"/><ellipse cx="450.5" cy="1177.6" rx="2.5" ry="1.75"/><ellipse cx="314.4" cy="1046.2" rx="2.5" ry="1.75"/><ellipse cx="505.3" cy="1161.1" rx="2.5" ry="1.75"/><ellipse cx="271" cy="1032.8" rx="2.5" ry="1.75"/><ellipse cx="252.5" cy="1042.3" rx="2.5" ry="1.75"/><ellipse cx="282.2" cy="1084.5" rx="2.5" ry="1.75"/><ellipse cx="456.2" cy="1148.5" rx="2.5" ry="1.75"/><ellipse cx="419.4" cy="1166" rx="2.5" ry="1.75"/><ellipse cx="278.3" cy="1071.9" rx="2.5" ry="1.75"/><ellipse cx="207.1" cy="1135.1" rx="2.5" ry="1.75"/><ellipse cx="190.2" cy="1184.1" rx="2.5" ry="1.75"/><ellipse cx="532.9" cy="1226.1" rx="2.5" ry="1.75"/><ellipse cx="408.2" cy="1114.5" rx="2.5" ry="1.75"/><ellipse cx="559.1" cy="1215.4" rx="2.5" ry="1.75"/><ellipse cx="421.4" cy="1226.4" rx="2.5" ry="1.75"/><ellipse cx="176.2" cy="1126.9" rx="2.5" ry="1.75"/><ellipse cx="467" cy="1135.6" rx="2.5" ry="1.75"/><ellipse cx="445.1" cy="1179.3" rx="2.5" ry="1.75"/><ellipse cx="174.7" cy="1103.1" rx="2.5" ry="1.75"/><ellipse cx="187.4" cy="1149.2" rx="2.5" ry="1.75"/><ellipse cx="236.9" cy="1087" rx="2.5" ry="1.75"/><ellipse cx="182.1" cy="1113.7" rx="2.5" ry="1.75"/><ellipse cx="427.6" cy="1144.3" rx="2.5" ry="1.75"/><ellipse cx="532.6" cy="1199.2" rx="2.5" ry="1.75"/><ellipse cx="490.3" cy="1158.4" rx="2.5" ry="1.75"/><ellipse cx="216" cy="1122.8" rx="2.5" ry="1.75"/><ellipse cx="523.4" cy="1211.3" rx="2.5" ry="1.75"/><ellipse cx="413.6" cy="1243.8" rx="2.5" ry="1.75"/><ellipse cx="273.8" cy="973.3" rx="2.5" ry="1.75"/><ellipse cx="323.3" cy="1078.4" rx="2.5" ry="1.75"/><ellipse cx="174.9" cy="1133.3" rx="2.5" ry="1.75"/><ellipse cx="354.4" cy="1169.5" rx="2.5" ry="1.75"/><ellipse cx="174.7" cy="1101.8" rx="2.5" ry="1.75"/><ellipse cx="252.7" cy="1107.3" rx="2.5" ry="1.75"/><ellipse cx="273.9" cy="1025.1" rx="2.5" ry="1.75"/><ellipse cx="508.8" cy="1185.3" rx="2.5" ry="1.75"/><ellipse cx="258.2" cy="1075" rx="2.5" ry="1.75"/><ellipse cx="473.6" cy="1225.3" rx="2.5" ry="1.75"/><ellipse cx="174.1" cy="1166.2" rx="2.5" ry="1.75"/><ellipse cx="550.4" cy="1214.3" rx="2.5" ry="1.75"/><ellipse cx="479" cy="1162" rx="2.5" ry="1.75"/><ellipse cx="245.6" cy="1066.6" rx="2.5" ry="1.75"/><ellipse cx="313.5" cy="1072.2" rx="2.5" ry="1.75"/><ellipse cx="179.3" cy="1137.9" rx="2.5" ry="1.75"/><ellipse cx="485.3" cy="1188.3" rx="2.5" ry="1.75"/><ellipse cx="245.7" cy="1071.1" rx="2.5" ry="1.75"/><ellipse cx="250.5" cy="1067" rx="2.5" ry="1.75"/><ellipse cx="454.5" cy="1109.7" rx="2.5" ry="1.75"/><ellipse cx="270.6" cy="1005.4" rx="2.5" ry="1.75"/><ellipse cx="303.5" cy="1069.1" rx="2.5" ry="1.75"/><ellipse cx="351.8" cy="1106.9" rx="2.5" ry="1.75"/><ellipse cx="226" cy="1115.5" rx="2.5" ry="1.75"/><ellipse cx="205.7" cy="1171.2" rx="2.5" ry="1.75"/><ellipse cx="437.7" cy="1161.8" rx="2.5" ry="1.75"/><ellipse cx="231.7" cy="1097.8" rx="2.5" ry="1.75"/><ellipse cx="357.1" cy="1117.2" rx="2.5" ry="1.75"/><ellipse cx="212.9" cy="1118.1" rx="2.5" ry="1.75"/><ellipse cx="525.4" cy="1219.5" rx="2.5" ry="1.75"/><ellipse cx="467.8" cy="1180.1" rx="2.5" ry="1.75"/><ellipse cx="245.1" cy="1110.8" rx="2.5" ry="1.75"/><ellipse cx="533.6" cy="1219.6" rx="2.5" ry="1.75"/><ellipse cx="206.5" cy="1124.6" rx="2.5" ry="1.75"/><ellipse cx="470.2" cy="1154.2" rx="2.5" ry="1.75"/><ellipse cx="484.9" cy="1190.4" rx="2.5" ry="1.75"/><ellipse cx="545.5" cy="1185.5" rx="2.5" ry="1.75"/><ellipse cx="542.1" cy="1232.9" rx="2.5" ry="1.75"/><ellipse cx="434.5" cy="1117.2" rx="2.5" ry="1.75"/><ellipse cx="453.1" cy="1153.6" rx="2.5" ry="1.75"/><ellipse cx="423.4" cy="1148.3" rx="2.5" ry="1.75"/><ellipse cx="178.6" cy="1207.5" rx="2.5" ry="1.75"/><ellipse cx="295.5" cy="1041.9" rx="2.5" ry="1.75"/><ellipse cx="334.1" cy="1079.1" rx="2.5" ry="1.75"/><ellipse cx="512.5" cy="1171.5" rx="2.5" ry="1.75"/><ellipse cx="302" cy="1060.2" rx="2.5" ry="1.75"/><ellipse cx="342.2" cy="1134" rx="2.5" ry="1.75"/><ellipse cx="510" cy="1162.9" rx="2.5" ry="1.75"/><ellipse cx="320.5" cy="1109.2" rx="2.5" ry="1.75"/><ellipse cx="299" cy="1102.5" rx="2.5" ry="1.75"/><ellipse cx="321.3" cy="1117.2" rx="2.5" ry="1.75"/><ellipse cx="390.9" cy="1080.6" rx="2.5" ry="1.75"/><ellipse cx="446.8" cy="1184.4" rx="2.5" ry="1.75"/><ellipse cx="379.6" cy="1099.7" rx="2.5" ry="1.75"/><ellipse cx="296.1" cy="1029.6" rx="2.5" ry="1.75"/><ellipse cx="532.8" cy="1155.4" rx="2.5" ry="1.75"/><ellipse cx="207.2" cy="1143" rx="2.5" ry="1.75"/><ellipse cx="342.7" cy="1155.2" rx="2.5" ry="1.75"/><ellipse cx="546.9" cy="1200.2" rx="2.5" ry="1.75"/><ellipse cx="208.5" cy="1163.4" rx="2.5" ry="1.75"/><ellipse cx="399.2" cy="1146.3" rx="2.5" ry="1.75"/><ellipse cx="548.3" cy="1238.8" rx="2.5" ry="1.75"/><ellipse cx="446.1" cy="1186.3" rx="2.5" ry="1.75"/><ellipse cx="476.8" cy="1177.6" rx="2.5" ry="1.75"/><ellipse cx="327.2" cy="1115.6" rx="2.5" ry="1.75"/><ellipse cx="557.2" cy="1128.7" rx="2.5" ry="1.75"/><ellipse cx="539.1" cy="1243.9" rx="2.5" ry="1.75"/><ellipse cx="357.3" cy="1071" rx="2.5" ry="1.75"/><ellipse cx="513.3" cy="1238.3" rx="2.5" ry="1.75"/><ellipse cx="371.8" cy="1094.6" rx="2.5" ry="1.75"/><ellipse cx="470.2" cy="1149.7" rx="2.5" ry="1.75"/><ellipse cx="493.6" cy="1191.6" rx="2.5" ry="1.75"/><ellipse cx="291.6" cy="1092.4" rx="2.5" ry="1.75"/><ellipse cx="332.5" cy="1131" rx="2.5" ry="1.75"/><ellipse cx="203.3" cy="1155.6" rx="2.5" ry="1.75"/><ellipse cx="411.1" cy="1245.9" rx="2.5" ry="1.75"/><ellipse cx="232" cy="1098.3" rx="2.5" ry="1.75"/><ellipse cx="472.5" cy="1130.9" rx="2.5" ry="1.75"/><ellipse cx="290.2" cy="1091.8" rx="2.5" ry="1.75"/><ellipse cx="191.6" cy="1209.6" rx="2.5" ry="1.75"/><ellipse cx="233.4" cy="1094.1" rx="2.5" ry="1.75"/><ellipse cx="499.3" cy="1174.4" rx="2.5" ry="1.75"/><ellipse cx="320.2" cy="1104.6" rx="2.5" ry="1.75"/><ellipse cx="491.2" cy="1207.6" rx="2.5" ry="1.75"/><ellipse cx="256.6" cy="1074" rx="2.5" ry="1.75"/><ellipse cx="471.1" cy="1133.3" rx="2.5" ry="1.75"/><ellipse cx="451" cy="1146.8" rx="2.5" ry="1.75"/><ellipse cx="170.9" cy="1196.2" rx="2.5" ry="1.75"/><ellipse cx="536.7" cy="1152.6" rx="2.5" ry="1.75"/><ellipse cx="200" cy="1134.5" rx="2.5" ry="1.75"/><ellipse cx="521" cy="1200.1" rx="2.5" ry="1.75"/><ellipse cx="387.6" cy="1090.8" rx="2.5" ry="1.75"/><ellipse cx="328.8" cy="1089.4" rx="2.5" ry="1.75"/><ellipse cx="294.2" cy="1181.5" rx="2.5" ry="1.75"/><ellipse cx="527" cy="1179.8" rx="2.5" ry="1.75"/><ellipse cx="361" cy="1164" rx="2.5" ry="1.75"/><ellipse cx="332.2" cy="1052.9" rx="2.5" ry="1.75"/><ellipse cx="354" cy="1145.8" rx="2.5" ry="1.75"/><ellipse cx="369.4" cy="1088.3" rx="2.5" ry="1.75"/><ellipse cx="171.6" cy="1144.1" rx="2.5" ry="1.75"/><ellipse cx="259.2" cy="998.4" rx="2.5" ry="1.75"/><ellipse cx="283.7" cy="1037.3" rx="2.5" ry="1.75"/><ellipse cx="335.8" cy="1137.4" rx="2.5" ry="1.75"/><ellipse cx="554.8" cy="1171.8" rx="2.5" ry="1.75"/><ellipse cx="524.9" cy="1315.3" rx="2.5" ry="1.75"/><ellipse cx="285.6" cy="1057.2" rx="2.5" ry="1.75"/><ellipse cx="385.1" cy="1080.2" rx="2.5" ry="1.75"/><ellipse cx="285.2" cy="1004.3" rx="2.5" ry="1.75"/><ellipse cx="551.7" cy="1194.3" rx="2.5" ry="1.75"/><ellipse cx="538.6" cy="1204.5" rx="2.5" ry="1.75"/><ellipse cx="257.5" cy="1050.8" rx="2.5" ry="1.75"/><ellipse cx="202.7" cy="1139.1" rx="2.5" ry="1.75"/><ellipse cx="364.1" cy="1079.9" rx="2.5" ry="1.75"/><ellipse cx="315.3" cy="1118" rx="2.5" ry="1.75"/><ellipse cx="189.5" cy="1152.9" rx="2.5" ry="1.75"/><ellipse cx="269.9" cy="1002.2" rx="2.5" ry="1.75"/><ellipse cx="528.2" cy="1249.8" rx="2.5" ry="1.75"/><ellipse cx="407.2" cy="1198.5" rx="2.5" ry="1.75"/><ellipse cx="444.2" cy="1137.1" rx="2.5" ry="1.75"/><ellipse cx="495.9" cy="1165.6" rx="2.5" ry="1.75"/><ellipse cx="252.3" cy="1087.8" rx="2.5" ry="1.75"/><ellipse cx="501.9" cy="1175.1" rx="2.5" ry="1.75"/><ellipse cx="549" cy="1204.2" rx="2.5" ry="1.75"/><ellipse cx="449" cy="1140.6" rx="2.5" ry="1.75"/><ellipse cx="369.5" cy="1105.9" rx="2.5" ry="1.75"/><ellipse cx="516" cy="1155.7" rx="2.5" ry="1.75"/><ellipse cx="232.6" cy="1096.3" rx="2.5" ry="1.75"/><ellipse cx="399.7" cy="1168.2" rx="2.5" ry="1.75"/><ellipse cx="480" cy="1262.9" rx="2.5" ry="1.75"/><ellipse cx="261.9" cy="1079.6" rx="2.5" ry="1.75"/><ellipse cx="507.6" cy="1156.9" rx="2.5" ry="1.75"/><ellipse cx="243.1" cy="1050.4" rx="2.5" ry="1.75"/><ellipse cx="266.4" cy="1037.3" rx="2.5" ry="1.75"/><ellipse cx="474.8" cy="1200.9" rx="2.5" ry="1.75"/><ellipse cx="324.1" cy="1093.1" rx="2.5" ry="1.75"/><ellipse cx="175.5" cy="1122.3" rx="2.5" ry="1.75"/><ellipse cx="205.8" cy="1121.5" rx="2.5" ry="1.75"/><ellipse cx="429.1" cy="1144.6" rx="2.5" ry="1.75"/><ellipse cx="494.4" cy="1206.4" rx="2.5" ry="1.75"/><ellipse cx="242.7" cy="1052.5" rx="2.5" ry="1.75"/><ellipse cx="242.2" cy="1096.5" rx="2.5" ry="1.75"/><ellipse cx="387.2" cy="1073.3" rx="2.5" ry="1.75"/><ellipse cx="208.9" cy="1154.5" rx="2.5" ry="1.75"/><ellipse cx="227.5" cy="1114" rx="2.5" ry="1.75"/><ellipse cx="334" cy="1095.7" rx="2.5" ry="1.75"/><ellipse cx="375.5" cy="1074.1" rx="2.5" ry="1.75"/><ellipse cx="533.9" cy="1196.5" rx="2.5" ry="1.75"/><ellipse cx="207.1" cy="1132.3" rx="2.5" ry="1.75"/><ellipse cx="182.3" cy="1197.5" rx="2.5" ry="1.75"/><ellipse cx="298.2" cy="1083.8" rx="2.5" ry="1.75"/><ellipse cx="300.2" cy="1063.8" rx="2.5" ry="1.75"/><ellipse cx="962.6" cy="1075.8" rx="2.5" ry="1.75"/><ellipse cx="667.9" cy="1048.2" rx="2.5" ry="1.75"/><ellipse cx="570.9" cy="1161.5" rx="2.5" ry="1.75"/><ellipse cx="763.7" cy="1159" rx="2.5" ry="1.75"/><ellipse cx="875.9" cy="1108.3" rx="2.5" ry="1.75"/><ellipse cx="581.4" cy="1168.5" rx="2.5" ry="1.75"/><ellipse cx="1189.5" cy="1161.4" rx="2.5" ry="1.75"/><ellipse cx="1178.9" cy="1163.2" rx="2.5" ry="1.75"/><ellipse cx="1222.8" cy="1155.9" rx="2.5" ry="1.75"/><ellipse cx="569.6" cy="1135.4" rx="2.5" ry="1.75"/><ellipse cx="743.5" cy="1118.3" rx="2.5" ry="1.75"/><ellipse cx="780.8" cy="1158.5" rx="2.5" ry="1.75"/><ellipse cx="1010.4" cy="1016.4" rx="2.5" ry="1.75"/><ellipse cx="1197.6" cy="1178.5" rx="2.5" ry="1.75"/><ellipse cx="1048.9" cy="1090" rx="2.5" ry="1.75"/><ellipse cx="1136.2" cy="1161.1" rx="2.5" ry="1.75"/><ellipse cx="661.7" cy="1268.2" rx="2.5" ry="1.75"/><ellipse cx="476.7" cy="1352.9" rx="2.5" ry="1.75"/><ellipse cx="425.9" cy="1387.2" rx="2.5" ry="1.75"/><ellipse cx="696.9" cy="1480.4" rx="2.5" ry="1.75"/><ellipse cx="734.9" cy="1367.5" rx="2.5" ry="1.75"/><ellipse cx="654.8" cy="1343.6" rx="2.5" ry="1.75"/><ellipse cx="195" cy="1297.4" rx="2.5" ry="1.75"/><ellipse cx="628.2" cy="1408" rx="2.5" ry="1.75"/><ellipse cx="888.6" cy="1364.7" rx="2.5" ry="1.75"/><ellipse cx="219.3" cy="1247.2" rx="2.5" ry="1.75"/><ellipse cx="490.4" cy="1437.7" rx="2.5" ry="1.75"/><ellipse cx="890.3" cy="1368.7" rx="2.5" ry="1.75"/><ellipse cx="872.9" cy="1350.5" rx="2.5" ry="1.75"/><ellipse cx="500.7" cy="1381.1" rx="2.5" ry="1.75"/><ellipse cx="392.3" cy="1313.8" rx="2.5" ry="1.75"/><ellipse cx="669.5" cy="1359.8" rx="2.5" ry="1.75"/><ellipse cx="854" cy="1291.8" rx="2.5" ry="1.75"/><ellipse cx="770.4" cy="1309.7" rx="2.5" ry="1.75"/><ellipse cx="523" cy="1400.1" rx="2.5" ry="1.75"/><ellipse cx="200.9" cy="1307.5" rx="2.5" ry="1.75"/><ellipse cx="430.3" cy="1432.4" rx="2.5" ry="1.75"/><ellipse cx="771.4" cy="1361.3" rx="2.5" ry="1.75"/><ellipse cx="491.6" cy="1354.4" rx="2.5" ry="1.75"/><ellipse cx="410.3" cy="1394.4" rx="2.5" ry="1.75"/><ellipse cx="281.9" cy="1303.4" rx="2.5" ry="1.75"/><ellipse cx="746.1" cy="1367.4" rx="2.5" ry="1.75"/><ellipse cx="640.5" cy="1341.1" rx="2.5" ry="1.75"/><ellipse cx="615.7" cy="1362" rx="2.5" ry="1.75"/><ellipse cx="767.4" cy="1356.8" rx="2.5" ry="1.75"/><ellipse cx="360" cy="1318.8" rx="2.5" ry="1.75"/><ellipse cx="209.4" cy="1308.1" rx="2.5" ry="1.75"/><ellipse cx="790.2" cy="1282.6" rx="2.5" ry="1.75"/><ellipse cx="357.1" cy="1369.1" rx="2.5" ry="1.75"/><ellipse cx="503.8" cy="1344" rx="2.5" ry="1.75"/><ellipse cx="883.4" cy="1349.6" rx="2.5" ry="1.75"/><ellipse cx="682.1" cy="1379.5" rx="2.5" ry="1.75"/><ellipse cx="238.1" cy="1203.2" rx="2.5" ry="1.75"/><ellipse cx="637.6" cy="1306.7" rx="2.5" ry="1.75"/><ellipse cx="524.1" cy="1373.2" rx="2.5" ry="1.75"/><ellipse cx="719.9" cy="1410.4" rx="2.5" ry="1.75"/><ellipse cx="221.4" cy="1257.2" rx="2.5" ry="1.75"/><ellipse cx="886.2" cy="1330" rx="2.5" ry="1.75"/><ellipse cx="315.8" cy="1283.8" rx="2.5" ry="1.75"/><ellipse cx="894.2" cy="1305" rx="2.5" ry="1.75"/><ellipse cx="659.4" cy="1294.6" rx="2.5" ry="1.75"/><ellipse cx="438.2" cy="1344.4" rx="2.5" ry="1.75"/><ellipse cx="261.6" cy="1255.2" rx="2.5" ry="1.75"/><ellipse cx="892.4" cy="1383.1" rx="2.5" ry="1.75"/><ellipse cx="301.6" cy="1331.1" rx="2.5" ry="1.75"/><ellipse cx="724.8" cy="1453.7" rx="2.5" ry="1.75"/><ellipse cx="655.5" cy="1409.3" rx="2.5" ry="1.75"/><ellipse cx="228.9" cy="1202.8" rx="2.5" ry="1.75"/><ellipse cx="814.3" cy="1325.7" rx="2.5" ry="1.75"/><ellipse cx="600.6" cy="1374.6" rx="2.5" ry="1.75"/><ellipse cx="871.3" cy="1295.6" rx="2.5" ry="1.75"/><ellipse cx="693.7" cy="1385.7" rx="2.5" ry="1.75"/><ellipse cx="191.2" cy="1308.2" rx="2.5" ry="1.75"/><ellipse cx="778.2" cy="1330.8" rx="2.5" ry="1.75"/><ellipse cx="172.9" cy="1371.6" rx="2.5" ry="1.75"/><ellipse cx="652.9" cy="1353" rx="2.5" ry="1.75"/><ellipse cx="789.2" cy="1284.8" rx="2.5" ry="1.75"/><ellipse cx="393" cy="1328.8" rx="2.5" ry="1.75"/><ellipse cx="552.1" cy="1356.7" rx="2.5" ry="1.75"/><ellipse cx="456.5" cy="1283.6" rx="2.5" ry="1.75"/><ellipse cx="410.2" cy="1344.4" rx="2.5" ry="1.75"/><ellipse cx="308.7" cy="1219.9" rx="2.5" ry="1.75"/><ellipse cx="861.8" cy="1323.9" rx="2.5" ry="1.75"/><ellipse cx="441.1" cy="1387" rx="2.5" ry="1.75"/><ellipse cx="475.4" cy="1376.2" rx="2.5" ry="1.75"/><ellipse cx="178.7" cy="1354.1" rx="2.5" ry="1.75"/><ellipse cx="614.1" cy="1357.9" rx="2.5" ry="1.75"/><ellipse cx="538.6" cy="1343.1" rx="2.5" ry="1.75"/><ellipse cx="457.8" cy="1344.2" rx="2.5" ry="1.75"/><ellipse cx="447" cy="1367" rx="2.5" ry="1.75"/><ellipse cx="319.5" cy="1293.9" rx="2.5" ry="1.75"/><ellipse cx="387.9" cy="1325.2" rx="2.5" ry="1.75"/><ellipse cx="698.4" cy="1408.6" rx="2.5" ry="1.75"/><ellipse cx="183.5" cy="1283.6" rx="2.5" ry="1.75"/><ellipse cx="394.9" cy="1356.6" rx="2.5" ry="1.75"/><ellipse cx="856.5" cy="1276.3" rx="2.5" ry="1.75"/><ellipse cx="782.7" cy="1382.4" rx="2.5" ry="1.75"/><ellipse cx="445.6" cy="1389.5" rx="2.5" ry="1.75"/><ellipse cx="226.2" cy="1292.7" rx="2.5" ry="1.75"/><ellipse cx="268.2" cy="1274.4" rx="2.5" ry="1.75"/><ellipse cx="253.5" cy="1255.9" rx="2.5" ry="1.75"/><ellipse cx="532.1" cy="1372.3" rx="2.5" ry="1.75"/><ellipse cx="383.7" cy="1437.6" rx="2.5" ry="1.75"/><ellipse cx="763.9" cy="1317.7" rx="2.5" ry="1.75"/><ellipse cx="637.7" cy="1373.4" rx="2.5" ry="1.75"/><ellipse cx="426.9" cy="1438.7" rx="2.5" ry="1.75"/><ellipse cx="879.3" cy="1245.4" rx="2.5" ry="1.75"/><ellipse cx="702.5" cy="1427.8" rx="2.5" ry="1.75"/><ellipse cx="157.7" cy="1409.8" rx="2.5" ry="1.75"/><ellipse cx="626.4" cy="1382" rx="2.5" ry="1.75"/><ellipse cx="847.3" cy="1309.1" rx="2.5" ry="1.75"/><ellipse cx="250.7" cy="1230.9" rx="2.5" ry="1.75"/><ellipse cx="322.3" cy="1261.4" rx="2.5" ry="1.75"/><ellipse cx="644.1" cy="1315.3" rx="2.5" ry="1.75"/><ellipse cx="756.3" cy="1294.9" rx="2.5" ry="1.75"/><ellipse cx="847.3" cy="1352.5" rx="2.5" ry="1.75"/><ellipse cx="266.9" cy="1257.8" rx="2.5" ry="1.75"/><ellipse cx="601.4" cy="1317.6" rx="2.5" ry="1.75"/><ellipse cx="687.6" cy="1373.5" rx="2.5" ry="1.75"/><ellipse cx="742.7" cy="1312.5" rx="2.5" ry="1.75"/><ellipse cx="616.9" cy="1386.9" rx="2.5" ry="1.75"/><ellipse cx="715.4" cy="1444.7" rx="2.5" ry="1.75"/><ellipse cx="684.5" cy="1364.7" rx="2.5" ry="1.75"/><ellipse cx="625.9" cy="1331.8" rx="2.5" ry="1.75"/><ellipse cx="338.7" cy="1332.8" rx="2.5" ry="1.75"/><ellipse cx="788.1" cy="1288.9" rx="2.5" ry="1.75"/><ellipse cx="851.7" cy="1290.1" rx="2.5" ry="1.75"/><ellipse cx="663.1" cy="1323.2" rx="2.5" ry="1.75"/><ellipse cx="475.4" cy="1340" rx="2.5" ry="1.75"/><ellipse cx="818.7" cy="1340.2" rx="2.5" ry="1.75"/><ellipse cx="556.9" cy="1351.3" rx="2.5" ry="1.75"/><ellipse cx="407.9" cy="1361.6" rx="2.5" ry="1.75"/><ellipse cx="578.7" cy="1353.8" rx="2.5" ry="1.75"/><ellipse cx="345.5" cy="1374.4" rx="2.5" ry="1.75"/><ellipse cx="464.4" cy="1329.5" rx="2.5" ry="1.75"/><ellipse cx="549.4" cy="1396.6" rx="2.5" ry="1.75"/><ellipse cx="700.1" cy="1363.4" rx="2.5" ry="1.75"/><ellipse cx="813.2" cy="1384.5" rx="2.5" ry="1.75"/><ellipse cx="444.7" cy="1348.1" rx="2.5" ry="1.75"/><ellipse cx="490.2" cy="1278.6" rx="2.5" ry="1.75"/><ellipse cx="352.2" cy="1310.1" rx="2.5" ry="1.75"/><ellipse cx="190.1" cy="1374.5" rx="2.5" ry="1.75"/><ellipse cx="719.2" cy="1466" rx="2.5" ry="1.75"/><ellipse cx="697.5" cy="1385.3" rx="2.5" ry="1.75"/><ellipse cx="576.1" cy="1304.9" rx="2.5" ry="1.75"/><ellipse cx="795.7" cy="1386.4" rx="2.5" ry="1.75"/><ellipse cx="649.3" cy="1343.2" rx="2.5" ry="1.75"/><ellipse cx="414.6" cy="1371.1" rx="2.5" ry="1.75"/><ellipse cx="860.7" cy="1296.3" rx="2.5" ry="1.75"/><ellipse cx="538.6" cy="1341.9" rx="2.5" ry="1.75"/><ellipse cx="455.5" cy="1394.3" rx="2.5" ry="1.75"/><ellipse cx="898.6" cy="1356.5" rx="2.5" ry="1.75"/><ellipse cx="438.4" cy="1332.1" rx="2.5" ry="1.75"/><ellipse cx="321.9" cy="1264.3" rx="2.5" ry="1.75"/><ellipse cx="193.4" cy="1284.8" rx="2.5" ry="1.75"/><ellipse cx="810" cy="1319.4" rx="2.5" ry="1.75"/><ellipse cx="565.4" cy="1419.6" rx="2.5" ry="1.75"/><ellipse cx="573.1" cy="1333" rx="2.5" ry="1.75"/><ellipse cx="569.4" cy="1367.3" rx="2.5" ry="1.75"/><ellipse cx="899.7" cy="1319.1" rx="2.5" ry="1.75"/><ellipse cx="406.6" cy="1402.7" rx="2.5" ry="1.75"/><ellipse cx="349.7" cy="1328" rx="2.5" ry="1.75"/><ellipse cx="730.8" cy="1367.2" rx="2.5" ry="1.75"/><ellipse cx="443.9" cy="1333.9" rx="2.5" ry="1.75"/><ellipse cx="658.6" cy="1338.6" rx="2.5" ry="1.75"/><ellipse cx="358.3" cy="1328.5" rx="2.5" ry="1.75"/><ellipse cx="351.2" cy="1330.6" rx="2.5" ry="1.75"/><ellipse cx="896" cy="1364.2" rx="2.5" ry="1.75"/><ellipse cx="208.5" cy="1246.5" rx="2.5" ry="1.75"/><ellipse cx="413" cy="1349.4" rx="2.5" ry="1.75"/><ellipse cx="231.6" cy="1247.7" rx="2.5" ry="1.75"/><ellipse cx="860.5" cy="1320.2" rx="2.5" ry="1.75"/><ellipse cx="262.4" cy="1236.4" rx="2.5" ry="1.75"/><ellipse cx="707.4" cy="1485.7" rx="2.5" ry="1.75"/><ellipse cx="262.3" cy="1301.5" rx="2.5" ry="1.75"/><ellipse cx="673.6" cy="1327.9" rx="2.5" ry="1.75"/><ellipse cx="350.9" cy="1313.5" rx="2.5" ry="1.75"/><ellipse cx="285.1" cy="1264.1" rx="2.5" ry="1.75"/><ellipse cx="763.6" cy="1286.5" rx="2.5" ry="1.75"/><ellipse cx="325.2" cy="1251.1" rx="2.5" ry="1.75"/><ellipse cx="336.5" cy="1357.9" rx="2.5" ry="1.75"/><ellipse cx="506" cy="1384.7" rx="2.5" ry="1.75"/><ellipse cx="251.3" cy="1278.9" rx="2.5" ry="1.75"/><ellipse cx="568.5" cy="1431.2" rx="2.5" ry="1.75"/><ellipse cx="684.4" cy="1385" rx="2.5" ry="1.75"/><ellipse cx="231.4" cy="1249.7" rx="2.5" ry="1.75"/><ellipse cx="851" cy="1303.7" rx="2.5" ry="1.75"/><ellipse cx="308.1" cy="1244.8" rx="2.5" ry="1.75"/><ellipse cx="603.5" cy="1356.5" rx="2.5" ry="1.75"/><ellipse cx="292.9" cy="1275" rx="2.5" ry="1.75"/><ellipse cx="301.4" cy="1270" rx="2.5" ry="1.75"/><ellipse cx="371.9" cy="1385.3" rx="2.5" ry="1.75"/><ellipse cx="265.2" cy="1256.3" rx="2.5" ry="1.75"/><ellipse cx="303.9" cy="1305.2" rx="2.5" ry="1.75"/><ellipse cx="460.6" cy="1343.4" rx="2.5" ry="1.75"/><ellipse cx="766.6" cy="1303.5" rx="2.5" ry="1.75"/><ellipse cx="487.1" cy="1378.5" rx="2.5" ry="1.75"/><ellipse cx="543.1" cy="1407.5" rx="2.5" ry="1.75"/><ellipse cx="861.9" cy="1343.5" rx="2.5" ry="1.75"/><ellipse cx="254.9" cy="1256.6" rx="2.5" ry="1.75"/><ellipse cx="547.9" cy="1439.7" rx="2.5" ry="1.75"/><ellipse cx="595.5" cy="1424.2" rx="2.5" ry="1.75"/><ellipse cx="512.4" cy="1300.5" rx="2.5" ry="1.75"/><ellipse cx="181.5" cy="1327.4" rx="2.5" ry="1.75"/><ellipse cx="316.1" cy="1274.2" rx="2.5" ry="1.75"/><ellipse cx="286" cy="1241.1" rx="2.5" ry="1.75"/><ellipse cx="813.6" cy="1282.8" rx="2.5" ry="1.75"/><ellipse cx="791.8" cy="1299.5" rx="2.5" ry="1.75"/><ellipse cx="469.3" cy="1389.5" rx="2.5" ry="1.75"/><ellipse cx="647.1" cy="1402.6" rx="2.5" ry="1.75"/><ellipse cx="716.4" cy="1426.8" rx="2.5" ry="1.75"/><ellipse cx="190.2" cy="1365.3" rx="2.5" ry="1.75"/><ellipse cx="553.5" cy="1418.2" rx="2.5" ry="1.75"/><ellipse cx="236.9" cy="1160.6" rx="2.5" ry="1.75"/><ellipse cx="780.4" cy="1319.9" rx="2.5" ry="1.75"/><ellipse cx="204.2" cy="1294.3" rx="2.5" ry="1.75"/><ellipse cx="625.2" cy="1327.7" rx="2.5" ry="1.75"/><ellipse cx="840.2" cy="1365.6" rx="2.5" ry="1.75"/><ellipse cx="706.4" cy="1424.2" rx="2.5" ry="1.75"/><ellipse cx="243" cy="1224.6" rx="2.5" ry="1.75"/><ellipse cx="830" cy="1332.5" rx="2.5" ry="1.75"/><ellipse cx="643" cy="1334.9" rx="2.5" ry="1.75"/><ellipse cx="266.6" cy="1263.4" rx="2.5" ry="1.75"/><ellipse cx="357.7" cy="1314.4" rx="2.5" ry="1.75"/><ellipse cx="347.1" cy="1341.5" rx="2.5" ry="1.75"/><ellipse cx="790.2" cy="1345.6" rx="2.5" ry="1.75"/><ellipse cx="761" cy="1315.2" rx="2.5" ry="1.75"/><ellipse cx="598.5" cy="1402.4" rx="2.5" ry="1.75"/><ellipse cx="887.8" cy="1308.9" rx="2.5" ry="1.75"/><ellipse cx="210.9" cy="1294.8" rx="2.5" ry="1.75"/><ellipse cx="482.6" cy="1306.5" rx="2.5" ry="1.75"/><ellipse cx="513" cy="1334.5" rx="2.5" ry="1.75"/><ellipse cx="896.1" cy="1258.3" rx="2.5" ry="1.75"/><ellipse cx="295.2" cy="1234.3" rx="2.5" ry="1.75"/><ellipse cx="781.6" cy="1340.2" rx="2.5" ry="1.75"/><ellipse cx="573.7" cy="1300.5" rx="2.5" ry="1.75"/><ellipse cx="231.9" cy="1237.2" rx="2.5" ry="1.75"/><ellipse cx="498.2" cy="1347.6" rx="2.5" ry="1.75"/><ellipse cx="335.6" cy="1354.3" rx="2.5" ry="1.75"/><ellipse cx="880.5" cy="1309.7" rx="2.5" ry="1.75"/><ellipse cx="256.4" cy="1243.1" rx="2.5" ry="1.75"/><ellipse cx="589.3" cy="1346.4" rx="2.5" ry="1.75"/><ellipse cx="875.2" cy="1289.4" rx="2.5" ry="1.75"/><ellipse cx="775.4" cy="1343" rx="2.5" ry="1.75"/><ellipse cx="430.2" cy="1449.9" rx="2.5" ry="1.75"/><ellipse cx="848.5" cy="1236.4" rx="2.5" ry="1.75"/><ellipse cx="839.9" cy="1272.1" rx="2.5" ry="1.75"/><ellipse cx="758.8" cy="1361.2" rx="2.5" ry="1.75"/><ellipse cx="590" cy="1347.4" rx="2.5" ry="1.75"/><ellipse cx="331.7" cy="1357.5" rx="2.5" ry="1.75"/><ellipse cx="654.9" cy="1347.3" rx="2.5" ry="1.75"/><ellipse cx="716.2" cy="1470.5" rx="2.5" ry="1.75"/><ellipse cx="321.1" cy="1258.4" rx="2.5" ry="1.75"/><ellipse cx="268.1" cy="1226.1" rx="2.5" ry="1.75"/><ellipse cx="241.5" cy="1268.7" rx="2.5" ry="1.75"/><ellipse cx="565.9" cy="1354.4" rx="2.5" ry="1.75"/><ellipse cx="694" cy="1405.7" rx="2.5" ry="1.75"/><ellipse cx="416.4" cy="1351" rx="2.5" ry="1.75"/><ellipse cx="548.1" cy="1350.5" rx="2.5" ry="1.75"/><ellipse cx="612.9" cy="1345.5" rx="2.5" ry="1.75"/><ellipse cx="176.8" cy="1297.1" rx="2.5" ry="1.75"/><ellipse cx="305.3" cy="1221.1" rx="2.5" ry="1.75"/><ellipse cx="595.7" cy="1377.8" rx="2.5" ry="1.75"/><ellipse cx="311.5" cy="1221.7" rx="2.5" ry="1.75"/><ellipse cx="420" cy="1422.4" rx="2.5" ry="1.75"/><ellipse cx="761.2" cy="1336.7" rx="2.5" ry="1.75"/><ellipse cx="400.3" cy="1405.8" rx="2.5" ry="1.75"/><ellipse cx="882" cy="1348.2" rx="2.5" ry="1.75"/><ellipse cx="395.3" cy="1352.6" rx="2.5" ry="1.75"/><ellipse cx="193.9" cy="1365.1" rx="2.5" ry="1.75"/><ellipse cx="396.6" cy="1411.6" rx="2.5" ry="1.75"/><ellipse cx="715.7" cy="1455.2" rx="2.5" ry="1.75"/><ellipse cx="218.8" cy="1230.5" rx="2.5" ry="1.75"/><ellipse cx="771.2" cy="1319.8" rx="2.5" ry="1.75"/><ellipse cx="738.7" cy="1397.4" rx="2.5" ry="1.75"/><ellipse cx="565.8" cy="1360" rx="2.5" ry="1.75"/><ellipse cx="621.6" cy="1299.6" rx="2.5" ry="1.75"/><ellipse cx="495" cy="1351.7" rx="2.5" ry="1.75"/><ellipse cx="695.2" cy="1420" rx="2.5" ry="1.75"/><ellipse cx="594.9" cy="1416.3" rx="2.5" ry="1.75"/><ellipse cx="892.9" cy="1353.8" rx="2.5" ry="1.75"/><ellipse cx="189.4" cy="1370.5" rx="2.5" ry="1.75"/><ellipse cx="704" cy="1427.4" rx="2.5" ry="1.75"/><ellipse cx="470.9" cy="1378.2" rx="2.5" ry="1.75"/><ellipse cx="310.6" cy="1228.2" rx="2.5" ry="1.75"/><ellipse cx="687.9" cy="1370.9" rx="2.5" ry="1.75"/><ellipse cx="841.3" cy="1316.5" rx="2.5" ry="1.75"/><ellipse cx="171.5" cy="1343.4" rx="2.5" ry="1.75"/><ellipse cx="531.2" cy="1380.5" rx="2.5" ry="1.75"/><ellipse cx="509.6" cy="1300.8" rx="2.5" ry="1.75"/><ellipse cx="520.6" cy="1360.5" rx="2.5" ry="1.75"/><ellipse cx="259" cy="1296" rx="2.5" ry="1.75"/><ellipse cx="602.3" cy="1374.4" rx="2.5" ry="1.75"/><ellipse cx="262.5" cy="1245.1" rx="2.5" ry="1.75"/><ellipse cx="585.2" cy="1307.5" rx="2.5" ry="1.75"/><ellipse cx="200" cy="1271.4" rx="2.5" ry="1.75"/><ellipse cx="509.7" cy="1369.7" rx="2.5" ry="1.75"/><ellipse cx="610.8" cy="1331.3" rx="2.5" ry="1.75"/><ellipse cx="534.2" cy="1364" rx="2.5" ry="1.75"/><ellipse cx="597" cy="1357" rx="2.5" ry="1.75"/><ellipse cx="326.1" cy="1360.7" rx="2.5" ry="1.75"/><ellipse cx="721.6" cy="1439.3" rx="2.5" ry="1.75"/><ellipse cx="562.1" cy="1374.2" rx="2.5" ry="1.75"/><ellipse cx="819.1" cy="1320.3" rx="2.5" ry="1.75"/><ellipse cx="697.2" cy="1387.7" rx="2.5" ry="1.75"/><ellipse cx="674.3" cy="1331.2" rx="2.5" ry="1.75"/><ellipse cx="550.8" cy="1272.6" rx="2.5" ry="1.75"/><ellipse cx="574.2" cy="1285.3" rx="2.5" ry="1.75"/><ellipse cx="369.3" cy="1328.4" rx="2.5" ry="1.75"/><ellipse cx="634.9" cy="1348.7" rx="2.5" ry="1.75"/><ellipse cx="600.1" cy="1388.9" rx="2.5" ry="1.75"/><ellipse cx="779.2" cy="1338.7" rx="2.5" ry="1.75"/><ellipse cx="613.3" cy="1360.5" rx="2.5" ry="1.75"/><ellipse cx="609.8" cy="1402.3" rx="2.5" ry="1.75"/><ellipse cx="206" cy="1260.8" rx="2.5" ry="1.75"/><ellipse cx="218.1" cy="1260.2" rx="2.5" ry="1.75"/><ellipse cx="1119.6" cy="1440.6" rx="2.5" ry="1.75"/><ellipse cx="951.9" cy="1365" rx="2.5" ry="1.75"/><ellipse cx="1042.8" cy="1471.3" rx="2.5" ry="1.75"/><ellipse cx="985.3" cy="1431.1" rx="2.5" ry="1.75"/><ellipse cx="1223.4" cy="1432.5" rx="2.5" ry="1.75"/><ellipse cx="954.3" cy="1329" rx="2.5" ry="1.75"/><ellipse cx="1141.1" cy="1387.9" rx="2.5" ry="1.75"/><ellipse cx="942.3" cy="1356" rx="2.5" ry="1.75"/><ellipse cx="1135.6" cy="1392.3" rx="2.5" ry="1.75"/><ellipse cx="1249.3" cy="1373.1" rx="2.5" ry="1.75"/><ellipse cx="991.7" cy="1408.2" rx="2.5" ry="1.75"/><ellipse cx="1167.8" cy="1345.6" rx="2.5" ry="1.75"/><ellipse cx="1069.4" cy="1367.2" rx="2.5" ry="1.75"/><ellipse cx="1177.9" cy="1390.7" rx="2.5" ry="1.75"/><ellipse cx="1123.6" cy="1354" rx="2.5" ry="1.75"/><ellipse cx="977.2" cy="1337.5" rx="2.5" ry="1.75"/><ellipse cx="1034.6" cy="1449.1" rx="2.5" ry="1.75"/><ellipse cx="1022.7" cy="1448.1" rx="2.5" ry="1.75"/><ellipse cx="1250.6" cy="1416.8" rx="2.5" ry="1.75"/><ellipse cx="962.1" cy="1386.1" rx="2.5" ry="1.75"/><ellipse cx="930.3" cy="1379.5" rx="2.5" ry="1.75"/><ellipse cx="1158.7" cy="1362.4" rx="2.5" ry="1.75"/><ellipse cx="1223.2" cy="1413.2" rx="2.5" ry="1.75"/><ellipse cx="1076.4" cy="1377.9" rx="2.5" ry="1.75"/><ellipse cx="1054.5" cy="1409.7" rx="2.5" ry="1.75"/><ellipse cx="979.1" cy="1399.6" rx="2.5" ry="1.75"/><ellipse cx="1045.8" cy="1458" rx="2.5" ry="1.75"/><ellipse cx="1007.7" cy="1354.1" rx="2.5" ry="1.75"/><ellipse cx="1040" cy="1434.1" rx="2.5" ry="1.75"/><ellipse cx="1025.8" cy="1405.3" rx="2.5" ry="1.75"/><ellipse cx="1123.5" cy="1371.3" rx="2.5" ry="1.75"/><ellipse cx="1180.3" cy="1382.8" rx="2.5" ry="1.75"/><ellipse cx="1175.9" cy="1400.6" rx="2.5" ry="1.75"/><ellipse cx="1100.9" cy="1346.8" rx="2.5" ry="1.75"/><ellipse cx="1139.4" cy="1450.5" rx="2.5" ry="1.75"/><ellipse cx="956.1" cy="1351" rx="2.5" ry="1.75"/><ellipse cx="1163.9" cy="1413.5" rx="2.5" ry="1.75"/><ellipse cx="1052.5" cy="1414.7" rx="2.5" ry="1.75"/><ellipse cx="917.1" cy="1362.5" rx="2.5" ry="1.75"/><ellipse cx="1221.9" cy="1403" rx="2.5" ry="1.75"/><ellipse cx="1193.1" cy="1444" rx="2.5" ry="1.75"/><ellipse cx="997.6" cy="1361.1" rx="2.5" ry="1.75"/><ellipse cx="1137" cy="1415.5" rx="2.5" ry="1.75"/><ellipse cx="909.6" cy="1435.4" rx="2.5" ry="1.75"/><ellipse cx="1129" cy="1432.1" rx="2.5" ry="1.75"/><ellipse cx="995.9" cy="1382.6" rx="2.5" ry="1.75"/><ellipse cx="1136.1" cy="1422.4" rx="2.5" ry="1.75"/><ellipse cx="912.2" cy="1315.1" rx="2.5" ry="1.75"/><ellipse cx="1196.7" cy="1400.7" rx="2.5" ry="1.75"/><ellipse cx="1190.2" cy="1355.8" rx="2.5" ry="1.75"/><ellipse cx="1024.3" cy="1407.1" rx="2.5" ry="1.75"/><ellipse cx="1236.2" cy="1401.2" rx="2.5" ry="1.75"/><ellipse cx="915.5" cy="1403.9" rx="2.5" ry="1.75"/><ellipse cx="1205.7" cy="1396.8" rx="2.5" ry="1.75"/><ellipse cx="990.9" cy="1435.8" rx="2.5" ry="1.75"/><ellipse cx="1223.8" cy="1446.8" rx="2.5" ry="1.75"/><ellipse cx="1252.1" cy="1399.4" rx="2.5" ry="1.75"/><ellipse cx="1210.7" cy="1399.7" rx="2.5" ry="1.75"/><ellipse cx="906.5" cy="1403.8" rx="2.5" ry="1.75"/><ellipse cx="1156.2" cy="1401.7" rx="2.5" ry="1.75"/><ellipse cx="350.6" cy="1412.5" rx="2.5" ry="1.75"/><ellipse cx="442.2" cy="1366" rx="2.5" ry="1.75"/><ellipse cx="379.6" cy="1415.5" rx="2.5" ry="1.75"/><ellipse cx="424.8" cy="1409.6" rx="2.5" ry="1.75"/><ellipse cx="230.8" cy="1279.9" rx="2.5" ry="1.75"/><ellipse cx="166.9" cy="1281.9" rx="2.5" ry="1.75"/><ellipse cx="362" cy="1427" rx="2.5" ry="1.75"/><ellipse cx="165.6" cy="1236.4" rx="2.5" ry="1.75"/><ellipse cx="375.9" cy="1372.8" rx="2.5" ry="1.75"/><ellipse cx="228.6" cy="1243.4" rx="2.5" ry="1.75"/><ellipse cx="371.4" cy="1289.8" rx="2.5" ry="1.75"/><ellipse cx="183.7" cy="1275.2" rx="2.5" ry="1.75"/><ellipse cx="274.2" cy="1303.6" rx="2.5" ry="1.75"/><ellipse cx="387.9" cy="1415.8" rx="2.5" ry="1.75"/><ellipse cx="245.3" cy="1285.1" rx="2.5" ry="1.75"/><ellipse cx="389.6" cy="1342.1" rx="2.5" ry="1.75"/><ellipse cx="173.1" cy="1333.5" rx="2.5" ry="1.75"/><ellipse cx="293.9" cy="1294.4" rx="2.5" ry="1.75"/><ellipse cx="173.4" cy="1369.9" rx="2.5" ry="1.75"/><ellipse cx="274.7" cy="1288.8" rx="2.5" ry="1.75"/><ellipse cx="253.4" cy="1253.4" rx="2.5" ry="1.75"/><ellipse cx="380.9" cy="1341" rx="2.5" ry="1.75"/><ellipse cx="267.8" cy="1263.5" rx="2.5" ry="1.75"/><ellipse cx="229.4" cy="1250.2" rx="2.5" ry="1.75"/><ellipse cx="413.5" cy="1404.9" rx="2.5" ry="1.75"/><ellipse cx="438.6" cy="1304.2" rx="2.5" ry="1.75"/><ellipse cx="186.3" cy="1360.2" rx="2.5" ry="1.75"/><ellipse cx="373.3" cy="1296.4" rx="2.5" ry="1.75"/><ellipse cx="200.2" cy="1296.1" rx="2.5" ry="1.75"/><ellipse cx="296" cy="1238.1" rx="2.5" ry="1.75"/><ellipse cx="271.5" cy="1250.1" rx="2.5" ry="1.75"/><ellipse cx="177.8" cy="1293.6" rx="2.5" ry="1.75"/><ellipse cx="217.9" cy="1229.7" rx="2.5" ry="1.75"/><ellipse cx="437" cy="1377.9" rx="2.5" ry="1.75"/><ellipse cx="366.6" cy="1297.8" rx="2.5" ry="1.75"/><ellipse cx="359.3" cy="1306" rx="2.5" ry="1.75"/><ellipse cx="403.6" cy="1396.3" rx="2.5" ry="1.75"/><ellipse cx="372.4" cy="1268.2" rx="2.5" ry="1.75"/><ellipse cx="167.1" cy="1253.5" rx="2.5" ry="1.75"/><ellipse cx="370.3" cy="1324" rx="2.5" ry="1.75"/><ellipse cx="255.2" cy="1283.1" rx="2.5" ry="1.75"/><ellipse cx="324.6" cy="1237.2" rx="2.5" ry="1.75"/><ellipse cx="368.6" cy="1307.6" rx="2.5" ry="1.75"/><ellipse cx="352.1" cy="1402.1" rx="2.5" ry="1.75"/><ellipse cx="433.3" cy="1374.7" rx="2.5" ry="1.75"/><ellipse cx="360.4" cy="1311.7" rx="2.5" ry="1.75"/><ellipse cx="341.8" cy="1387.5" rx="2.5" ry="1.75"/><ellipse cx="288" cy="1308.2" rx="2.5" ry="1.75"/><ellipse cx="164.9" cy="1251.2" rx="2.5" ry="1.75"/><ellipse cx="427.8" cy="1319.5" rx="2.5" ry="1.75"/><ellipse cx="180.8" cy="1316.3" rx="2.5" ry="1.75"/><ellipse cx="415.6" cy="1375.6" rx="2.5" ry="1.75"/><ellipse cx="316.4" cy="1297.3" rx="2.5" ry="1.75"/><ellipse cx="160.6" cy="1223.2" rx="2.5" ry="1.75"/><ellipse cx="348.9" cy="1320.2" rx="2.5" ry="1.75"/><ellipse cx="216.8" cy="1269.7" rx="2.5" ry="1.75"/><ellipse cx="358" cy="1274.4" rx="2.5" ry="1.75"/><ellipse cx="333.4" cy="1282.2" rx="2.5" ry="1.75"/><ellipse cx="298.1" cy="1276.6" rx="2.5" ry="1.75"/><ellipse cx="247.4" cy="1259.4" rx="2.5" ry="1.75"/><ellipse cx="158" cy="1318.1" rx="2.5" ry="1.75"/><ellipse cx="388.5" cy="1406.3" rx="2.5" ry="1.75"/><ellipse cx="383" cy="1371.9" rx="2.5" ry="1.75"/><ellipse cx="307.3" cy="1266.5" rx="2.5" ry="1.75"/><ellipse cx="250.6" cy="1250.5" rx="2.5" ry="1.75"/><ellipse cx="449.9" cy="1420.6" rx="2.5" ry="1.75"/><ellipse cx="434.5" cy="1307.3" rx="2.5" ry="1.75"/><ellipse cx="440.4" cy="1360.5" rx="2.5" ry="1.75"/><ellipse cx="324.1" cy="1312.6" rx="2.5" ry="1.75"/><ellipse cx="268" cy="1220.3" rx="2.5" ry="1.75"/><ellipse cx="397.9" cy="1368.1" rx="2.5" ry="1.75"/><ellipse cx="369.3" cy="1353.6" rx="2.5" ry="1.75"/><ellipse cx="435.7" cy="1382.9" rx="2.5" ry="1.75"/><ellipse cx="327.5" cy="1262.3" rx="2.5" ry="1.75"/><ellipse cx="422.7" cy="1412.1" rx="2.5" ry="1.75"/><ellipse cx="293.8" cy="1213.8" rx="2.5" ry="1.75"/><ellipse cx="446.9" cy="1312.5" rx="2.5" ry="1.75"/><ellipse cx="321.2" cy="1264.2" rx="2.5" ry="1.75"/><ellipse cx="373.9" cy="1298.5" rx="2.5" ry="1.75"/><ellipse cx="208.6" cy="1293.1" rx="2.5" ry="1.75"/><ellipse cx="189.9" cy="1340" rx="2.5" ry="1.75"/><ellipse cx="413" cy="1328.2" rx="2.5" ry="1.75"/><ellipse cx="425.2" cy="1392.2" rx="2.5" ry="1.75"/><ellipse cx="205.7" cy="1284.7" rx="2.5" ry="1.75"/><ellipse cx="178" cy="1371.4" rx="2.5" ry="1.75"/><ellipse cx="215.7" cy="1210.1" rx="2.5" ry="1.75"/><ellipse cx="314.2" cy="1249.6" rx="2.5" ry="1.75"/><ellipse cx="438.3" cy="1372.9" rx="2.5" ry="1.75"/><ellipse cx="343.5" cy="1385.1" rx="2.5" ry="1.75"/><ellipse cx="218.3" cy="1237.7" rx="2.5" ry="1.75"/><ellipse cx="312.9" cy="1216.9" rx="2.5" ry="1.75"/><ellipse cx="285.5" cy="1261.8" rx="2.5" ry="1.75"/><ellipse cx="160" cy="1333.1" rx="2.5" ry="1.75"/><ellipse cx="232.4" cy="1257.7" rx="2.5" ry="1.75"/><ellipse cx="368.9" cy="1328.2" rx="2.5" ry="1.75"/><ellipse cx="186.2" cy="1348.7" rx="2.5" ry="1.75"/><ellipse cx="158.8" cy="1264.9" rx="2.5" ry="1.75"/><ellipse cx="333.2" cy="1298.2" rx="2.5" ry="1.75"/><ellipse cx="286" cy="1228.5" rx="2.5" ry="1.75"/><ellipse cx="427.6" cy="1382.7" rx="2.5" ry="1.75"/><ellipse cx="278.5" cy="1274.2" rx="2.5" ry="1.75"/><ellipse cx="411.2" cy="1367.8" rx="2.5" ry="1.75"/><ellipse cx="308.7" cy="1224" rx="2.5" ry="1.75"/><ellipse cx="375.7" cy="1364.2" rx="2.5" ry="1.75"/><ellipse cx="202.6" cy="1349.6" rx="2.5" ry="1.75"/><ellipse cx="257.3" cy="1310.9" rx="2.5" ry="1.75"/><ellipse cx="414.9" cy="1370.6" rx="2.5" ry="1.75"/><ellipse cx="179.6" cy="1357.3" rx="2.5" ry="1.75"/><ellipse cx="449.9" cy="1324.2" rx="2.5" ry="1.75"/><ellipse cx="225" cy="1226.3" rx="2.5" ry="1.75"/><ellipse cx="326.8" cy="1263.5" rx="2.5" ry="1.75"/><ellipse cx="159.9" cy="1371.5" rx="2.5" ry="1.75"/><ellipse cx="261.9" cy="1250.1" rx="2.5" ry="1.75"/><ellipse cx="274.6" cy="1263.2" rx="2.5" ry="1.75"/><ellipse cx="169.5" cy="1335.9" rx="2.5" ry="1.75"/><ellipse cx="349.8" cy="1404.8" rx="2.5" ry="1.75"/><ellipse cx="432.4" cy="1398.7" rx="2.5" ry="1.75"/><ellipse cx="186.7" cy="1345.5" rx="2.5" ry="1.75"/><ellipse cx="338.6" cy="1375.2" rx="2.5" ry="1.75"/><ellipse cx="310.8" cy="1168.6" rx="2.5" ry="1.75"/><ellipse cx="220" cy="298.4" rx="2.5" ry="1.75"/><ellipse cx="222.3" cy="298.4" rx="2.5" ry="1.75"/><ellipse cx="224.6" cy="298.4" rx="2.5" ry="1.75"/><ellipse cx="226.9" cy="298.4" rx="2.5" ry="1.75"/><ellipse cx="229.2" cy="298.4" rx="2.5" ry="1.75"/><ellipse cx="231.5" cy="298.4" rx="2.5" ry="1.75"/><ellipse cx="233.8" cy="298.4" rx="2.5" ry="1.75"/><ellipse cx="236.1" cy="298.4" rx="2.5" ry="1.75"/><ellipse cx="238.4" cy="298.4" rx="2.5" ry="1.75"/><ellipse cx="240.7" cy="298.4" rx="2.5" ry="1.75"/><ellipse cx="243" cy="298.4" rx="2.5" ry="1.75"/><ellipse cx="245.3" cy="298.4" rx="2.5" ry="1.75"/><ellipse cx="247.6" cy="298.4" rx="2.5" ry="1.75"/><ellipse cx="249.9" cy="298.4" rx="2.5" ry="1.75"/><ellipse cx="252.2" cy="298.4" rx="2.5" ry="1.75"/><ellipse cx="254.5" cy="298.4" rx="2.5" ry="1.75"/><ellipse cx="256.8" cy="298.4" rx="2.5" ry="1.75"/><ellipse cx="259.1" cy="298.4" rx="2.5" ry="1.75"/><ellipse cx="261.4" cy="298.4" rx="2.5" ry="1.75"/><ellipse cx="263.7" cy="298.4" rx="2.5" ry="1.75"/><ellipse cx="266" cy="298.4" rx="2.5" ry="1.75"/></g>
<path d="M180,155.4 182,157.7 184,161.4 186,162.5 188,167.4 190,167.6 192,161.4 194,157.9 196,154.1 198,155.7 200,156.1 202,157.8 204,152.1 206,142.5 208,142.6 210,146.8 212,140.2 214,132.9 216,143.4 218,144.3 220,144.4 222,130.7 224,119 226,129 228,127.8 230,116.2 232,123.4 234,119.6 236,119.2 238,125.8 240,128.8 242,131.5 244,124.4 246,103 248,102.4 250,108.3 252,117.7 254,121.5 256,117.8 258,109.1 260,109.5 262,111.4 264,108.7 266,111.4 268,105.8 270,98 272,88.1 274,83.4 276,77.4 278,75.2 280,74.8 282,75.6 284,84.6 286,93.6 288,97.2 290,96.3 292,92.8 294,91 296,85.7 298,96.3 300,102.9 302,98.7 304,91.2 306,82 308,78.3 310,79.1 312,80.1 314,91.8 316,101.6 318,111.1 320,104.1 322,109.6 324,115.7 326,113.8 328,114.6 330,112.5 332,122.6 334,126.6 336,127.1 338,133.2 340,147.9 342,138.8 344,136 346,144.6 348,139.1 350,132.6 352,132.3 354,138.7 356,140 358,138.8 360,131 362,129 364,120.4 366,117 368,122.7 370,124.4 372,119 374,121.5 376,126.4 378,118.8 380,126.1 382,128 384,137.6 386,144.7 388,146.8 390,150.9 392,151 394,141 396,133.3 398,140.8 400,168 402,194.6 404,206.4 406,208.2 408,218.8 410,222.4 412,220.1 414,222.9 416,223.6 418,216.4 420,200.6 422,192.1 424,194.5 426,209.6 428,218 430,218 432,210 434,199.4 436,206.4 438,220.4 440,227.7 442,219.5 444,202.5 446,187.2 448,169.8 450,158.5 452,150 454,141.9 456,132.7 458,129.1 460,133.2 462,130.4 464,129.7 466,132.3 468,144.9 470,160.3 472,170.7 474,168.3 476,159.1 478,149.1 480,146.9 482,152.1 484,159.1 486,164.3 488,164.9 490,161.3 492,157.1 494,153.7 496,150.1 498,149.5 500,150.9 502,155.4 504,159.9 506,167.5 508,173.8 510,180.5 512,186.6 514,193.4 516,201.3 518,210.6 520,216.7 522,222.3 524,225.3 526,226.1 528,225.5 530,227 532,229.7 534,232.8 536,237.1 538,238.2 540,235.2 542,227.3 544,215.7 546,203.7 548,190.9 550,177.4 552,168.8 554,159.7 556,155.3 558,154.1 560,153.1 562,152.9 564,153.8 566,156.4 568,160.7 570,163.3 572,163.9 574,165.2 576,168 578,168.6 580,167.8 582,166.4 584,166.4 586,169 588,172.8 590,175.1 592,178.2 594,179.6 596,180.8 598,177.6 600,175.7 602,174.1 604,171.3 606,167 608,162.3 610,158.4 612,155 614,153.1 616,151.3 618,151.7 620,153.1 622,155.4 624,158.2 626,162.5 628,166.4 630,173.1 632,179.9 634,189.7 636,197.4 638,206.6 640,215 642,225 644,235.9 646,245.8 648,254.9 650,259.7 652,250.8 654,226 656,196.6 658,175.2 660,166.3 662,167.1 664,170.7 666,173.3 668,171.5 670,169.5 672,162.8 674,155.5 676,144.7 678,136.6 680,132 682,131.6 684,137.9 686,146.6 688,153.6 690,156.7 692,159.8 694,160.1 696,154.6 698,144.6 700,137.4 702,131.3 704,127.4 706,129.1 708,138 710,148.2 712,159.5 714,165.3 716,170.1 718,173.2 720,173.8 722,170.2 724,165.2 726,159.3 728,155.1 730,150.6 732,146.7 734,145.6 736,142.2 738,138.6 740,133.7 742,130.4 744,128.7 746,130.1 748,132.1 750,135.9 752,139.7 754,143.5 756,147.9 758,151.4 760,156.4 762,162.6 764,169.2 766,175.4 768,180.3 770,186.5 772,189.8 774,189.1 776,185.8 778,179.6 780,171.1 782,164.3 784,160.1 786,160.7 788,162.3 790,165.5 792,166.5 794,167.3 796,168 798,166.9 800,167.8 802,169.6 804,173.2 806,176.5 808,178.2 810,177.7 812,175.2 814,171.5 816,167.9 818,167.1 820,169.2 822,171.1 824,176.5 826,184.6 828,191.1 830,196.1 832,199 834,197.6 836,194.8 838,189.4 840,184.7 842,180 844,174.9 846,168.7 848,163.5 850,159.6 852,157 854,154.5 856,152.8 858,154.1 860,156 862,158.8 864,163.7 866,171.8 868,181.9 870,191.7 872,201 874,209.9 876,217.5 878,223 880,227 882,227.3 884,224 886,218.8 888,211.6 890,204.2 892,195.9 894,190.7 896,188.3 898,195.2 900,217.4 902,254.6 904,277.9 906,281 908,268.6 910,246.1 912,223.1 914,202.5 916,185.5 918,174.7 920,171.1 922,168.6 924,167.8 926,166.2 928,164.5 930,162.4 932,161 934,156.5 936,152.5 938,148 940,144.1 942,139.7 944,135.2 946,130.4 948,126.1 950,120.9 952,115.9 954,112 956,108.4 958,104.8 960,100.7 962,96.3 964,96.8 966,99.8 968,104.2 970,107.2 972,109.2 974,109.9 976,111.1 978,113.3 980,111.4 982,109.1 984,106 986,102.6 988,99.8 990,99.4 992,100.4 994,100.6 996,102.2 998,103.5 1000,104.6 1002,105.4 1004,108.4 1006,115.1 1008,119.9 1010,124.7 1012,131.1 1014,137.5 1016,143.3 1018,150.5 1020,153.7 1022,153.5 1024,154.8 1026,154.6 1028,155.5 1030,156 1032,155.9 1034,155.7 1036,155.9 1038,155.7 1040,155.7 1042,153.7 1044,152.7 1046,151.7 1048,150.7 1050,149.7 1052,147.6 1054,146.3 1056,145.9 1058,144.7 1060,146.9 1062,148.2 1064,150.1 1066,150.6 1068,150.9 1070,152.9 1072,155.6 1074,158.1 1076,158.8 1078,160.8 1080,161.9 1082,164.2 1084,165.8 1086,165.5 1088,166 1090,166.4 1092,165.6 1094,164.3 1096,163.1 1098,161.6 1100,161.8 1102,162.9 1104,163 1106,164 1108,165.6 1110,167.7 1112,170.1 1114,172.8 1116,173.8 1118,175.6 1120,180.6 1122,185 1124,189.4 1126,193.7 1128,198.2 1130,202.6 1132,207.3 1134,210.6 1136,214.8 1138,217.4 1140,220.8 1142,223.9 1144,226.9 1146,229.9 1148,233.7 1150,236.9 1152,240 1154,236.8 1156,234.4 1158,230.8 1160,227.7 1162,224.2 1164,222.1 1166,219.1 1168,215.3 1170,211.6 1172,210.7 1174,209.4 1176,206.9 1178,206.7 1180,205.1 1182,204.1 1184,202.7 1186,201.1 1188,197.6 1190,195.9 1192,193.1 1194,192.5 1196,189.7 1198,187.5 1200,185 1202,182 1204,181 1206,178.3 1208,176.5 1210,177.5 1212,178 1214,178.6 1216,179.7 1218,181.9 1220,183.8 1222,186.3 1224,187.7 1226,189.9 1228,193.3 1230,197.2 1232,201.7 1234,204.8 1236,207.8 1238,211 1240,214.4 1242,217.2 1244,220.1 1246,223 1248,225.8 1250,228.2 1252,231 1254,231.2 1256,229.6 L1256,311.1 1254,312.1 1252,314.7 1250,314.3 1248,313 1246,310.6 1244,309.4 1242,308.2 1240,306.4 1238,304.6 1236,302.5 1234,300.2 1232,297.8 1230,296 1228,294.5 1226,292.5 1224,291 1222,289.4 1220,288 1218,284.8 1216,283.4 1214,281.5 1212,281.2 1210,279.1 1208,277.4 1206,278.2 1204,279.3 1202,281.9 1200,282.6 1198,283.5 1196,284.6 1194,287.3 1192,289.2 1190,290.6 1188,292.2 1186,294.7 1184,295.6 1182,296.3 1180,298.8 1178,300.6 1176,302.9 1174,302.7 1172,304.3 1170,307.7 1168,311.4 1166,312.6 1164,315.5 1162,318.5 1160,321.7 1158,325.4 1156,328.9 1154,332.8 1152,337.3 1150,334.1 1148,330.6 1146,327.4 1144,324.2 1142,321 1140,318.2 1138,315.6 1136,312.2 1134,309.3 1132,304.6 1130,299.9 1128,294.6 1126,289.9 1124,285.4 1122,281.7 1120,278.2 1118,272.9 1116,269.9 1114,268 1112,266.5 1110,265.1 1108,262.3 1106,259.3 1104,256.6 1102,255.5 1100,256.8 1098,258.4 1096,257.9 1094,258.1 1092,258.9 1090,260 1088,259.8 1086,259 1084,258.9 1082,258.6 1080,257.2 1078,256.6 1076,255.7 1074,253.2 1072,251.3 1070,249.8 1068,248.8 1066,248.3 1064,246.2 1062,243.3 1060,241 1058,240 1056,240.8 1054,242.7 1052,245.8 1050,247.6 1048,249.3 1046,250.6 1044,252.1 1042,252 1040,250.9 1038,249.9 1036,249.9 1034,250.2 1032,250.8 1030,251.3 1028,250.2 1026,249.6 1024,249.7 1022,248.8 1020,246.3 1018,244.3 1016,238.2 1014,232.3 1012,226.4 1010,219.7 1008,214.8 1006,209.8 1004,204.5 1002,203.6 1000,201.9 998,199.4 996,197.2 994,197.9 992,197 990,197.6 988,198.8 986,202.1 984,204.7 982,207.8 980,212 978,212 976,212.3 974,211.9 972,213.2 970,211 968,208.1 966,204.4 964,201.9 962,199.4 960,203.9 958,208.3 956,214 954,217.3 952,222.2 950,227 948,231.4 946,235.7 944,240.9 942,245.4 940,250.5 938,255.5 936,259 934,262.8 932,265.3 930,267.8 928,269.2 926,271.8 924,273.1 922,274.8 920,276.4 918,281.7 916,291.9 914,309.1 912,329.3 910,351 908,372.8 906,384.8 904,383.1 902,359.6 900,322 898,299.7 896,291.3 894,291.4 892,296.8 890,305.6 888,314.2 886,321.3 884,326.2 882,327.4 880,326.5 878,321.7 876,315.9 874,308.9 872,300.4 870,290.4 868,279.3 866,270.8 864,263 862,256.9 860,253 858,251.2 856,251.1 854,252.5 852,254.6 850,258.5 848,263.2 846,267.6 844,272 842,276.4 840,280.9 838,286.5 836,291.3 834,294.3 832,296.8 830,294.4 828,289.5 826,282.1 824,275.3 822,269.3 820,265.4 818,264.4 816,267.2 814,270.3 812,273.7 810,276.9 808,277.4 806,274.8 804,271.7 802,268.1 800,265.4 798,264.1 796,265.3 794,263.7 792,261.1 790,259.6 788,258 786,256.3 784,258 782,262.8 780,270.1 778,277.3 776,282.2 774,286.3 772,286.8 770,283 768,277.6 766,271.4 764,265.1 762,259.1 760,252.9 758,248.2 756,244.3 754,240 752,236.4 750,232 748,229.1 746,227.1 744,226.3 742,229.5 740,233.5 738,238.2 736,243.5 734,246.3 732,248.4 730,251.9 728,255.7 726,261 724,266.7 722,273.2 720,275.4 718,272.3 716,269.1 714,266.1 712,259.2 710,248.7 708,237.3 706,228 704,227.2 702,230.4 700,237.1 698,244.9 696,254.9 694,260.8 692,261.3 690,257.7 688,254 686,245.9 684,236.8 682,229.9 680,230.3 678,235 676,244 674,253.6 672,263 670,268.6 668,271.5 666,271.8 664,270 662,265.1 660,264.4 658,275.4 656,297.1 654,325.9 652,350.3 650,359.9 648,356.6 646,346.3 644,335.1 642,324.4 640,315.8 638,306.2 636,297.7 634,289.5 632,282.2 630,273.9 628,268.9 626,261.4 624,256 622,252.4 620,249.8 618,248 616,248 614,248.5 612,251.5 610,255.1 608,259.6 606,263.6 604,266.9 602,270.2 600,272 598,272.5 596,272.3 594,272.6 592,270.1 590,267.2 588,263.1 586,260 584,258.8 582,259.3 580,261.1 578,261.5 576,260.2 574,259.1 572,257.2 570,255.1 568,252.5 566,250.4 564,251.3 562,250.6 560,248.8 558,248.7 556,249.5 554,254.5 552,263.1 550,273.6 548,285.2 546,297.3 544,309.4 542,320.9 540,330.1 538,335 536,334.7 534,332.5 532,329.5 530,324.2 528,323.7 526,325.4 524,325.4 522,321.6 520,314.8 518,306.9 516,299.2 514,292.5 512,286 510,279.7 508,273.5 506,265.4 504,259 502,252.8 500,248.4 498,245.7 496,246.5 494,248.3 492,252.5 490,257.4 488,260.4 486,260.7 484,256.1 482,249.8 480,244.8 478,245.9 476,254.6 474,264.7 472,268.8 470,258.5 468,241.9 466,230.2 464,227 462,229.6 460,233.4 458,236.1 456,236.9 454,239.7 452,245.8 450,259.4 448,275.9 446,296.1 444,307.1 442,316.1 440,324.5 438,318.6 436,317 434,306 432,310.9 430,320.9 428,318.8 426,307.6 424,292.8 422,291.5 420,301 418,317.5 416,326.5 414,323 412,319 410,319.3 408,314.6 406,308.5 404,308.3 402,288.3 400,267 398,245.5 396,230.4 394,233.1 392,244 390,245.7 388,239 386,237.1 384,248 382,240.8 380,228 378,219.1 376,221.9 374,219.8 372,218.3 370,219.8 368,217.7 366,226.6 364,230 362,228.5 360,227.8 358,235 356,237.9 354,241 352,232.5 350,239.7 348,241.4 346,241.2 344,236.3 342,240.7 340,251.1 338,230 336,226 334,225.5 332,224.1 330,223.9 328,217.2 326,218 324,221.5 322,212.5 320,202.6 318,215.8 316,219.4 314,200.8 312,183.1 310,178.9 308,173.7 306,175.7 304,184 302,197.4 300,201.1 298,190.8 296,186.4 294,185.5 292,188.4 290,191.5 288,191.4 286,194.8 284,191.7 282,178.2 280,175.3 278,168.4 276,167.9 274,175.7 272,183 270,192.3 268,200.2 266,206.1 264,208.2 262,206.6 260,202.6 258,207 256,214.3 254,218.5 252,212.1 250,208.7 248,209 246,218.5 244,227.8 242,236.7 240,235.4 238,230.9 236,226.2 234,230.2 232,228.1 230,212.8 228,222.7 226,228.2 224,226.4 222,235.9 220,244.5 218,245.2 216,244.4 214,250.6 212,252.1 210,248.1 208,244.5 206,243.6 204,245.6 202,253.4 200,258 198,252.2 196,256.8 194,255.6 192,249.3 190,250.1 188,249.7 186,245.4 184,238.4 182,232.8 180,229.6Z" fill="rgba(217,218,218,0.567)"/>
<path d="M180,152 182,161.6 184,166.1 186,169.3 188,175.7 190,175.4 192,172.5 194,163.3 196,163.3 198,168.8 200,168.3 202,173.4 204,174.8 206,175.5 208,169.6 210,167.2 212,168.6 214,170 216,165.3 218,160 220,159 222,150.3 224,144.7 226,144 228,140.9 230,131.1 232,138.5 234,137.7 236,136.5 238,141 240,150 242,153.5 244,147.1 246,134.4 248,128.9 250,125.2 252,131 254,136.8 256,131.3 258,119.2 260,116.3 262,115.6 264,123.4 266,127.1 268,123.5 270,116.1 272,103.5 274,99.7 276,93.5 278,90.5 280,91.4 282,92.3 284,93.4 286,102.8 288,105.6 290,109.7 292,108 294,106.1 296,109.3 298,115 300,118.4 302,124.8 304,113.7 306,100.5 308,93.3 310,91.3 312,99.9 314,120.8 316,139 318,144.9 320,131.5 322,132 324,139.8 326,133.8 328,127.9 330,127.8 L330,207.4 328,209.2 326,207.7 324,209.8 322,203.5 320,200.3 318,210.3 316,206.6 314,185.8 312,175.1 310,165.7 308,161.6 306,165.2 304,173.2 302,185.2 300,187.3 298,179 296,170.2 294,173.4 292,177.8 290,176.1 288,173.5 286,170.3 284,165.6 282,161.9 280,161.9 278,159.3 276,159.5 274,162.2 272,167.9 270,172.2 268,183.2 266,190.8 264,196 262,194.2 260,188.6 258,189.3 256,200.8 254,203 252,192.5 250,190.3 248,191.3 246,197.5 244,214 242,221.5 240,218.4 238,207.6 236,202.6 234,204.9 232,201 230,194.3 228,211.9 226,219.4 224,217.1 222,222.1 220,228.9 218,224.3 216,230.5 214,232.6 212,234.2 210,233.7 208,232.1 206,233.5 204,235.6 202,241.5 200,237.8 198,236.7 196,240.2 194,238.1 192,241.9 190,244.6 188,242.4 186,238.7 184,227.5 182,224.6 180,222.8Z" fill="rgba(190,195,198,0.30)"/>
<path d="M163,356 165,356.9 167,356.8 169,359.2 171,360 173,362.2 175,367.6 177,373.6 179,380.8 181,390 183,395.9 185,394 187,385.7 189,373.1 191,362.6 193,354.1 195,349.8 197,348.7 199,348 201,351.7 203,350.1 205,347.5 207,336.5 209,324.1 211,315.6 213,314.4 215,313.4 217,312.8 219,304.6 221,298.2 223,290.3 225,284.3 227,282.2 229,280.6 231,277.6 233,277.4 235,277.8 237,281.5 239,284.2 241,284.6 243,281.3 245,274.3 247,274.2 249,276.5 251,279.6 253,280.9 255,278.1 257,278.2 259,280.8 261,286.9 263,290.8 265,295 267,301 269,302.6 271,303.1 273,299.7 275,300.3 277,298.8 279,300.2 281,301.3 283,305.8 285,305.2 287,307 289,315.2 291,322.6 293,326.6 295,329.4 297,327.8 299,324.9 301,319.7 303,313.6 305,315.2 307,323.3 309,329.7 311,332.3 313,330.9 315,325.8 317,323.4 319,316.6 321,313.1 323,308 325,302.7 327,297.8 329,297.3 331,296.7 333,307.3 335,306.2 337,300.8 339,309 341,332.5 343,342.1 345,338.4 347,342.5 349,336.8 351,324.7 353,321.5 355,319.2 357,298.1 359,277.8 361,289.5 363,326.1 365,333.1 367,338 369,327.4 371,310.8 373,312.6 375,338.9 377,357.5 379,365 381,369.1 383,367.9 385,357.4 387,346.2 389,355.7 391,387.6 393,420.1 395,450 397,482.9 399,517.8 401,540.1 403,532.9 405,509.7 407,507.5 409,511.8 411,506.1 413,495.1 415,489.8 417,486.5 419,463.9 421,433.1 423,411.3 425,426.8 427,454.4 429,476.1 431,499.2 433,507.2 435,493.9 437,489.2 439,479.5 441,461.3 443,447.7 445,452.5 447,456.1 449,431.9 451,425 453,411.6 455,414.8 457,413.6 459,409 461,403.1 463,398.5 465,394.4 467,394.7 469,400.1 471,418.5 473,425.7 475,435.4 477,440.8 479,434.4 481,430.4 483,431.7 485,433 487,422.5 489,432.2 491,428.7 493,425 495,419.3 497,403.9 499,407.8 501,409.6 503,417.4 505,415.9 507,427.3 509,440.6 511,444.1 513,450.1 515,448 517,442.8 519,441.4 521,438.9 523,441.7 525,451.4 527,461.8 529,454.1 531,456.9 533,476.8 535,474.2 537,470.1 539,469.6 541,474.8 543,478.5 545,481.7 547,470.7 549,472.8 551,474.4 553,474.6 555,466.7 557,456.1 559,443.4 561,433.1 563,426 565,418 567,418.3 569,418.9 571,406.7 573,397.2 575,420.4 577,440.4 579,429.4 581,425.4 583,422.1 585,420.4 587,419.6 589,414.8 591,412 593,418 595,416.4 597,409.9 599,398 601,409.8 603,411.9 605,407.3 607,408.9 609,416.9 611,417.7 613,411.3 615,398.9 617,406.1 619,418.7 621,407.7 623,410.3 625,408 627,414.5 629,425.1 631,432 633,427.9 635,421.8 637,417.3 639,419.6 641,417.7 643,420.4 645,418.3 647,419.4 649,421.8 651,417.6 653,403.3 655,410.5 657,412.2 659,414 661,405.2 663,385.3 665,396.4 667,405.8 669,404.3 671,397.4 673,402.4 675,405.5 677,411 679,401.4 681,384.2 683,393.8 685,403.7 687,390.1 689,383.1 691,399.5 693,398.1 695,391.8 697,379.2 699,376.6 701,376.9 703,387.9 705,384.6 707,383.7 709,401.4 711,394.6 713,394.8 715,396.5 717,397.4 719,390.8 721,388.5 723,377.4 725,378.7 727,383 729,395.5 731,400 733,384.9 735,375.6 737,388.2 739,392.2 741,392 743,390.6 745,390.5 747,384.7 749,397.6 751,389.2 753,370.1 755,383.1 757,391.9 759,400.2 761,395.1 763,394.9 765,395.2 767,427.4 769,446.6 771,445.8 773,458.1 775,482.1 777,503.9 779,515.9 781,519.9 783,528.9 785,543 787,526.7 789,517.3 791,494.1 793,470.9 795,444.5 797,416.7 799,414.9 801,415.3 803,410.1 805,409.9 807,400.7 809,396.2 811,411 813,418.5 815,420.2 817,403.6 819,394.5 821,397.1 823,409.1 825,417.6 827,427 829,431.2 831,430.7 833,429 835,423.4 837,417.3 839,414.2 841,412.1 843,419.4 845,417 847,406.8 849,396.5 851,402.4 853,399 855,415.1 857,416.8 859,408.4 861,412.2 863,417.2 865,413.1 867,402.8 869,396.5 871,391.7 873,380 875,360.5 877,358.3 879,370.8 881,377.7 883,381.7 885,391.6 887,388.8 889,377.9 891,370.2 893,389 895,408.5 897,405.8 899,431.8 901,450.5 903,459 905,466.2 907,472.4 909,476 911,468.9 913,478.2 915,485.3 917,484.3 919,470.3 921,451.7 923,458.1 925,439.5 927,420.8 929,404.9 931,405.6 933,392.9 935,379.5 937,367.7 939,384.3 941,387.7 943,376.8 945,382.1 947,374.7 949,370.1 951,348.2 953,336.6 955,364.8 957,374.2 959,375.3 961,375.7 963,375.3 965,360.6 967,351.9 969,351.5 971,361.9 973,367.9 975,359.3 977,335.6 979,348.8 981,362.7 983,373 985,367.4 987,359.7 989,347.2 991,348.1 993,342.2 995,346.3 997,355.7 999,360.3 1001,365.5 1003,378 1005,370.2 1007,378.3 1009,375.2 1011,371.7 1013,365.6 1015,369.2 1017,373.2 1019,368.9 1021,370 1023,385 1025,396.7 1027,393.9 1029,390 1031,384.5 1033,376.5 1035,367.7 1037,363.3 1039,359.8 1041,379.5 1043,385.8 1045,381.1 1047,374.1 1049,364.4 1051,366 1053,361.3 1055,363.3 1057,367 1059,371.5 1061,367.6 1063,360.8 1065,368.1 1067,378.4 1069,373.9 1071,384.8 1073,373.6 1075,361.1 1077,367.1 1079,380 1081,383.3 1083,397.6 1085,390 1087,402.5 1089,395.7 1091,425.9 1093,448.8 1095,444.1 1097,450.9 1099,443.7 L1099,534.8 1097,537.4 1095,542.3 1093,526.5 1091,513.4 1089,498.6 1087,492.9 1085,495.7 1083,481.9 1081,474.5 1079,474.1 1077,470.5 1075,478.3 1073,482.5 1071,482.8 1069,480.9 1067,477 1065,469.3 1063,465.9 1061,467.2 1059,470.1 1057,480.9 1055,479.5 1053,467.2 1051,464.4 1049,469 1047,468.9 1045,470.4 1043,477.7 1041,471.2 1039,468.6 1037,472 1035,480.3 1033,494.9 1031,483.8 1029,485.4 1027,493.9 1025,492.3 1023,482.5 1021,480.5 1019,485.8 1017,485.1 1015,482 1013,480.3 1011,475.3 1009,475.1 1007,492.4 1005,492.3 1003,479 1001,470.9 999,461.1 997,467.9 995,486.8 993,499.5 991,481.3 989,467.2 987,467 985,463.6 983,471.9 981,473.2 979,468.7 977,470.3 975,479.3 973,479.9 971,464.7 969,460.4 967,453.2 965,459.5 963,465.7 961,473.9 959,482.7 957,471.1 955,467.1 953,458.1 951,457.3 949,451.8 947,472.4 945,471.9 943,478.5 941,473.8 939,468.5 937,465 935,477.5 933,488.9 931,499 929,500.1 927,508.4 925,536.3 923,550.7 921,555.7 919,565.1 917,579.8 915,570 913,577.2 911,563.4 909,562 907,573.4 905,584.4 903,572 901,541.5 899,537.3 897,522.7 895,509.8 893,493.3 891,481.9 889,483.2 887,484 885,481.2 883,471.8 881,466.7 879,465.2 877,468.5 875,476.4 873,471 871,480.8 869,489.6 867,505.1 865,516.5 863,518.5 861,528.7 859,543.3 857,524.8 855,511.5 853,517.9 851,517.3 849,503.3 847,505.4 845,508.7 843,508.1 841,504.1 839,528.2 837,520 835,513.4 833,515.5 831,520.7 829,517 827,514 825,513.1 823,512.6 821,499.1 819,501.7 817,529.1 815,521.9 813,515.8 811,508.6 809,505.6 807,516.1 805,518.7 803,513.6 801,512 799,511.3 797,516.9 795,537 793,560.6 791,588.1 789,613.2 787,631.7 785,637.8 783,624.7 781,617.6 779,613.1 777,613.5 775,575.3 773,553.5 771,539.1 769,546.2 767,531.4 765,515 763,505.5 761,499.9 759,491 757,486.4 755,482 753,478.2 751,486.4 749,514.3 747,525.2 745,530.1 743,508.4 741,496.9 739,490.3 737,490.2 735,492.6 733,515.1 731,494.2 729,493.6 727,488.8 725,494.6 723,486.6 721,482.5 719,482.1 717,488.4 715,505.7 713,523.4 711,524.7 709,500.5 707,497.1 705,484.4 703,483 701,478.3 699,469 697,469.5 695,479.9 693,494.1 691,505.9 689,511.1 687,502.5 685,493.2 683,498.4 681,515.5 679,518.9 677,503.6 675,493.4 673,487.2 671,488.4 669,494.4 667,494.6 665,482.4 663,484.6 661,496.7 659,506.5 657,507.5 655,508.4 653,512.7 651,526.2 649,513 647,505.6 645,504.8 643,513.5 641,520 639,512.3 637,512.4 635,520 633,532.6 631,540.7 629,559 627,544.3 625,543.4 623,529.2 621,530.5 619,520.7 617,518.7 615,519.3 613,519.6 611,515.7 609,515.4 607,516.8 605,519 603,527.7 601,515.7 599,518.7 597,523.1 595,529.3 593,527.6 591,523 589,517.3 587,511.8 585,513.3 583,515.4 581,525.2 579,527.4 577,535.3 575,526.9 573,517.1 571,516.9 569,516.6 567,515.9 565,513.9 563,516.7 561,523 559,539.2 557,554.1 555,566.3 553,569.7 551,570 549,560.9 547,563.2 545,558.7 543,555.1 541,557.6 539,555.8 537,541.2 535,551.3 533,559.1 531,573.5 529,561.3 527,558.9 525,531.4 523,529 521,519.3 519,529 517,520 515,523.5 513,539.9 511,537.4 509,533.9 507,527.1 505,519.1 503,499.7 501,498.7 499,500.1 497,503 495,503.9 493,508.6 491,514.1 489,525.8 487,525.2 485,534.9 483,539.6 481,542.9 479,545.9 477,541.8 475,537.9 473,544.7 471,529.9 469,513 467,498.3 465,489.5 463,494.7 461,499.1 459,505.8 457,521.7 455,526 453,522.3 451,542 449,553.7 447,560.4 445,578.6 443,570.7 441,575.6 439,579 437,588.8 435,598.8 433,609.6 431,595.3 429,580.8 427,555.4 425,529.9 423,513.4 421,533.1 419,574.8 417,607.4 415,607.4 413,613.4 411,613.3 409,614.7 407,616.9 405,627.4 403,658.2 401,661 399,626.3 397,605.5 395,563.4 393,530.7 391,490.8 389,462.9 387,448.9 385,459.8 383,469.4 381,470.6 379,467 377,458.6 375,449.2 373,434.9 371,450.3 369,438 367,442 365,432.6 363,430.2 361,436.8 359,429.7 357,430 355,423.7 353,413.9 351,417.5 349,428.9 347,435.4 345,439.2 343,438.8 341,432.5 339,418.2 337,411.7 335,422.2 333,405.9 331,402.7 329,391.2 327,391.1 325,395.4 323,401.8 321,407.9 319,414.7 317,423.5 315,425.1 313,427.7 311,425.1 309,419.9 307,415.1 305,406.5 303,405.1 301,410.2 299,415.8 297,421.1 295,423.7 293,424.9 291,420.6 289,415.7 287,409.1 285,408 283,408 281,405.8 279,402.7 277,403.8 275,403.6 273,406.2 271,406.3 269,405.5 267,402.6 265,399 263,393.7 261,387.6 259,382.2 257,380 255,382.5 253,384.1 251,383.1 249,381.1 247,378.5 245,382.5 243,384.2 241,385.5 239,382.2 237,377.5 235,373.7 233,374.6 231,376.9 229,379.5 227,382.2 225,382.9 223,387.1 221,394.8 219,402.4 217,409.7 215,410.8 213,410.7 211,414.3 209,424.9 207,437 205,452 203,453.7 201,453 199,450.7 197,452.6 195,449.7 193,452.6 191,461.7 189,473.2 187,485.4 185,492.8 183,495.9 181,493.7 179,482.5 177,476.3 175,471.9 173,467 171,465.8 169,463.4 167,462.4 165,462.1 163,458.9Z" fill="rgba(217,218,218,0.567)"/>
<path d="M161,636.5 163,639.5 165,649.4 167,653.2 169,655.3 171,662 173,663.9 175,666.3 177,677.4 179,682.3 181,673.5 183,661.2 185,644.5 187,635.7 189,636.2 191,639.7 193,634.9 195,629.6 197,624.5 199,625.9 201,619 203,610.5 205,607.6 207,604.7 209,603.6 211,601.2 213,597.3 215,592.3 217,580.3 219,582.1 221,583 223,582.2 225,581.7 227,576 229,571.6 231,568.8 233,576 235,574.3 237,570.5 239,558.6 241,559.9 243,553.7 245,556.3 247,558.1 249,564.4 251,568.6 253,570.5 255,565.3 257,561.8 259,560.9 261,556.7 263,560.7 265,563.1 267,557.7 269,559.1 271,557.4 273,558 275,555.2 277,554.3 279,556.7 281,557.5 283,545.6 285,539.3 287,551.6 289,561.1 291,567.4 293,570.2 295,567.3 297,564 299,557.2 301,560.2 303,570.4 305,576.5 307,579.1 309,577.7 311,579.2 313,572.3 315,567.4 317,569 319,573.6 321,583 323,590.5 325,588.8 327,592.4 329,589.5 331,597 333,601.9 335,608 337,623.5 339,649.7 341,674.8 343,696.5 345,711.4 347,728.2 349,740.4 351,745.4 353,753.7 355,699.3 357,658.4 359,674.9 361,689.5 363,695.3 365,684.9 367,669.2 369,659.5 371,650 373,640.3 375,637.7 377,644.4 379,641.8 381,635 383,632.2 385,634.8 387,638.6 389,640.3 391,639.3 393,638.1 395,635.9 397,633.4 399,641.4 401,647 403,647.8 405,645.5 407,641.2 409,648.1 411,653.7 413,658.2 415,671.5 417,671.4 419,667.7 421,659.5 423,652 425,642.9 427,638.6 429,642.6 431,656.2 433,657.6 435,657.1 437,652 439,646.7 441,642.7 443,639.2 445,630.7 447,627.1 449,635.8 451,647.6 453,647.1 455,635.6 457,623.8 459,623.4 461,623.1 463,624.9 465,615.9 467,615.8 469,612.8 471,616 473,615.5 475,616.8 477,611.8 479,613.8 481,623 483,641.9 485,651.9 487,659 489,667.8 491,675.6 493,680.6 495,670.5 497,650.8 499,637.9 501,639.4 503,641.8 505,644.6 507,640.7 509,650.8 511,653.7 513,654.1 515,648.9 517,644.3 519,645 521,649 523,653.3 525,662 527,668.4 529,669.8 531,667.3 533,662.3 535,656.5 537,652.7 539,651.3 541,646.1 543,644.2 545,649.6 547,650.1 549,645.9 551,649.1 553,651.8 555,657.2 557,661.9 559,667.8 561,661.9 563,659.3 565,657.2 567,658.7 569,661.7 571,664.8 573,661 575,649.6 577,641.9 579,644.4 581,647.8 583,650.4 585,654.7 587,656.6 589,655.4 591,657.7 593,651.3 595,653.3 597,655.3 599,653.8 601,658.2 603,657.9 605,657.9 607,659.8 609,663 611,665.7 613,666.9 615,665.8 617,665.3 619,663.4 621,658.4 623,664.6 625,667.6 627,674.6 629,678.4 631,678.3 633,680.6 635,678.9 637,670.9 639,670.2 641,675 643,682.8 645,686.9 647,683.1 649,677 651,671.7 653,661.3 655,655.6 657,650.9 659,652.4 661,654.1 663,660.8 665,664.6 667,668.5 669,670.2 671,671.3 673,667.5 675,667.9 677,666.7 679,662.3 681,657.4 683,669.7 685,679.3 687,686.6 689,687.2 691,686.1 693,685.5 695,681.9 697,678.1 699,680.2 701,684.8 703,685.6 705,685.7 707,685 709,684 711,683.1 713,683.2 715,686.3 717,690.8 719,694.7 721,695.2 723,694.3 725,693.4 727,692.9 729,693.1 731,693.4 733,693.8 735,694.2 737,693.4 739,691.5 741,689.1 743,683.5 745,678 747,672.5 749,667.2 751,661.9 753,656.6 755,652.9 757,650.7 759,648.5 761,646.7 763,647 765,647.3 767,647.6 769,649.1 771,650.8 773,652.5 775,654.2 777,655.1 779,655.3 781,655.5 783,655.7 785,655.8 787,656 789,656 791,656 793,656 795,656 797,656 799,655.8 801,655 803,654.3 805,653.5 807,652.8 809,652 811,651.3 813,650.3 815,647.8 817,645.4 819,643 821,640.6 823,638.1 825,635.7 827,633.3 829,630.3 831,626.4 833,622.4 835,618.5 837,614.5 839,610.6 841,606.6 843,603.3 845,602.8 847,602.4 849,603.4 851,604.6 853,605.8 855,606.7 857,607.6 859,608.5 861,609.4 863,610.5 865,612 867,613.4 869,614.9 871,615.9 873,616.4 875,616.9 877,617.2 879,616.4 881,615.9 883,617.4 885,618.9 887,620.5 889,622 891,623.5 893,626.3 895,629.8 897,633.3 899,636.8 901,639.6 903,642.1 905,644 907,645.2 909,646.5 911,647 913,647.3 915,647.7 917,646.6 919,645.5 921,644.4 923,641.1 925,636.7 927,632.3 929,627.1 931,620.3 933,613.5 935,606.7 937,600.6 939,594.5 941,588.4 943,582.6 945,578 947,573.5 949,568.9 951,565 953,561.6 955,558.3 957,554.9 959,551.6 961,548.3 963,545 965,543.2 967,543 969,542.8 971,543.3 973,547.3 975,551.3 977,555.3 979,560.1 981,565.1 983,570 985,575 987,585 989,595 991,605 993,616.8 995,629.5 997,642.3 999,655 1001,666.9 1003,678.8 1005,690.7 1007,696.6 1009,696.4 1011,696.2 1013,695.3 1015,691 1017,686.7 1019,682.4 1021,672.6 1023,661.7 1025,650.8 1027,640.4 1029,632.7 1031,625 1033,617.3 1035,612.5 1037,608.4 1039,604.2 1041,600.1 1043,595.9 1045,591.8 1047,587.8 1049,584.5 1051,581.2 1053,578 1055,574.7 1057,571.4 1059,568.2 1061,564.9 1063,561.6 1065,558.3 1067,557.9 1069,557.4 1071,560.3 1073,563.9 1075,567.4 1077,571 1079,574.4 1081,577.8 1083,581.1 1085,584.4 1087,587.8 1089,591.1 1091,594.4 1093,597.8 1095,601.1 1097,604.4 1099,607.8 1101,611.9 1103,616.3 1105,620.6 1107,624.9 1109,629.2 1111,633.6 1113,636.7 1115,639.3 1117,641.8 1119,644.4 1121,646.9 1123,649.5 1125,652.1 1127,654.1 1129,655.6 1131,657.2 1133,656.3 1135,654.2 1137,652.1 1139,650.2 1141,648.7 1143,647.2 1145,645.7 1147,645.2 1149,644.7 1151,644.2 1153,644.5 1155,645.3 1157,646 1159,646.8 1161,647.6 1163,648.3 1165,649.1 1167,649.9 1169,650.6 1171,651.4 1173,648.7 1175,644.2 1177,639.7 1179,635.6 1181,632.4 1183,629.2 1185,626 1187,624.6 1189,623.2 1191,621.9 1193,620.5 1195,619.1 1197,617.7 1199,616.4 1201,616.2 1203,617.3 1205,618.3 1207,620.3 1209,622.3 1211,624.3 1213,625.8 1215,627.1 1217,628.3 1219,629.6 1221,630.8 1223,632.1 1225,633.3 1227,634.5 1229,635.7 1231,636.9 1233,638.1 1235,639.3 1237,640.5 1239,641.7 1241,642.9 1243,644.1 1245,645.3 1247,646.5 1248,647.1 L1248,735.1 1247,734.5 1245,733.3 1243,732.1 1241,730.9 1239,729.7 1237,728.5 1235,727.3 1233,726.1 1231,724.9 1229,723.7 1227,722.5 1225,721.3 1223,720.1 1221,718.8 1219,717.6 1217,716.3 1215,715.1 1213,713.8 1211,712.3 1209,710.3 1207,708.3 1205,706.3 1203,705.3 1201,704.2 1199,704.4 1197,705.7 1195,707.1 1193,708.5 1191,709.9 1189,711.2 1187,712.6 1185,714 1183,717.2 1181,720.4 1179,723.6 1177,727.7 1175,732.2 1173,736.7 1171,739.4 1169,738.6 1167,737.9 1165,737.1 1163,736.3 1161,735.6 1159,734.8 1157,734 1155,733.3 1153,732.5 1151,732.2 1149,732.7 1147,733.2 1145,733.7 1143,735.2 1141,736.7 1139,738.2 1137,740.1 1135,742.2 1133,744.3 1131,745.2 1129,743.6 1127,742.1 1125,740.1 1123,737.5 1121,734.9 1119,732.4 1117,729.8 1115,727.3 1113,724.7 1111,721.6 1109,717.2 1107,712.9 1105,708.6 1103,704.3 1101,699.9 1099,695.8 1097,692.4 1095,689.1 1093,685.8 1091,682.4 1089,679.1 1087,675.8 1085,672.4 1083,669.1 1081,665.8 1079,662.4 1077,659 1075,655.4 1073,651.9 1071,648.3 1069,645.4 1067,645.9 1065,646.3 1063,649.6 1061,652.9 1059,656.2 1057,659.4 1055,662.7 1053,666 1051,669.2 1049,672.5 1047,675.8 1045,679.8 1043,683.9 1041,688.1 1039,692.2 1037,696.4 1035,700.5 1033,705.3 1031,713 1029,720.7 1027,728.4 1025,738.8 1023,749.7 1021,760.6 1019,770.4 1017,774.7 1015,779 1013,783.3 1011,784.2 1009,784.4 1007,784.6 1005,778.7 1003,766.8 1001,754.9 999,743 997,730.3 995,717.5 993,704.8 991,693 989,683 987,673 985,663 983,658 981,653.1 979,648.1 977,643.3 975,639.3 973,635.3 971,631.3 969,630.8 967,631 965,631.2 963,633 961,636.3 959,639.6 957,642.9 955,646.3 953,649.6 951,653 949,656.9 947,661.5 945,666 943,670.6 941,676.4 939,682.5 937,688.6 935,694.7 933,701.5 931,708.3 929,715.1 927,720.3 925,724.7 923,729.1 921,732.4 919,733.5 917,734.6 915,735.7 913,735.3 911,735 909,734.5 907,733.2 905,732 903,730.1 901,727.6 899,724.8 897,721.3 895,717.8 893,714.3 891,711.5 889,710 887,708.5 885,706.9 883,705.4 881,703.9 879,704.4 877,705.2 875,704.9 873,704.4 871,703.9 869,702.9 867,701.4 865,700 863,698.5 861,697.4 859,696.5 857,695.6 855,694.7 853,693.8 851,692.6 849,691.4 847,690.4 845,690.8 843,691.3 841,694.6 839,698.6 837,702.5 835,706.5 833,710.4 831,714.4 829,718.3 827,721.3 825,723.7 823,726.1 821,728.6 819,731 817,733.4 815,735.8 813,738.3 811,739.3 809,740 807,740.8 805,741.5 803,742.3 801,743 799,743.8 797,744 795,744 793,744 791,744 789,744 787,744 785,743.8 783,743.7 781,743.5 779,743.3 777,743.1 775,742.2 773,740.5 771,738.8 769,737.1 767,735.6 765,735.3 763,735 761,734.7 759,736.5 757,738.7 755,740.9 753,744.6 751,749.9 749,755.2 747,760.5 745,766 743,771.5 741,777.1 739,779.5 737,781.4 735,782.2 733,781.8 731,781.4 729,781.1 727,780.9 725,781.4 723,782.3 721,783.2 719,782.7 717,778.8 715,774.3 713,771.3 711,771.1 709,772.1 707,773.6 705,774.8 703,774.7 701,774.4 699,776.6 697,773 695,771.6 693,773.6 691,774.6 689,778.8 687,780.4 685,776.2 683,776.6 681,770.8 679,762.8 677,760.2 675,763.5 673,773.2 671,775.2 669,778.2 667,775.2 665,764.1 663,755.1 661,754.3 659,751.9 657,746.8 655,748.9 653,757 651,764.7 649,765.9 647,774.1 645,776.4 643,774.3 641,769.2 639,762.2 637,762.5 635,763.7 633,766.5 631,767.8 629,765.1 627,761 625,755.6 623,753.6 621,752.4 619,752.2 617,754.1 615,754.5 613,757.2 611,760.5 609,761.6 607,761.2 605,751.9 603,749.8 601,750.1 599,749.2 597,752.2 595,750 593,750.8 591,749.3 589,747.5 587,744.2 585,745.9 583,740.9 581,733.9 579,730.7 577,732.3 575,739.5 573,748.1 571,752.3 569,748.4 567,746.4 565,748.5 563,749.9 561,755.8 559,755.1 557,747.2 555,742.6 553,740.3 551,735.2 549,736 547,736.5 545,737 543,738.9 541,740.6 539,743.3 537,744.4 535,741.4 533,746.6 531,751.3 529,754.3 527,754.3 525,747 523,740.2 521,735.7 519,732.9 517,735 515,739.6 513,741.1 511,737.8 509,734.2 507,733.6 505,732.7 503,729.7 501,724 499,722.8 497,738.5 495,758.8 493,767.6 491,761.3 489,755 487,748.7 485,741.7 483,729.6 481,715.2 479,705.9 477,709.8 475,702.2 473,702.8 471,703.3 469,704.9 467,708.5 465,711.8 463,713.6 461,711.7 459,709.7 457,711.7 455,722.6 453,734.4 451,732.3 449,725 447,721.9 445,720.7 443,727.3 441,735 439,738.6 437,744.7 435,748 433,753 431,751.1 429,741.2 427,739.3 425,740 423,750.6 421,756.2 419,769.2 417,770.9 415,766.5 413,763.6 411,755.2 409,746.6 407,731.8 405,733.5 403,739.8 401,738.9 399,734 397,728.8 395,732.6 393,735 391,732.5 389,735.7 387,735.2 385,727.3 383,726.4 381,731 379,738.5 377,737.6 375,729.6 373,732.7 371,742.8 369,755.8 367,768.3 365,777.5 363,788.1 361,785.3 359,769 357,752.3 355,795 353,847.3 351,837.1 349,833.8 347,822.3 345,803.6 343,789.3 341,768.2 339,741.9 337,713.3 335,698.7 333,691.4 331,685.4 329,686.8 327,690.1 325,693.5 323,687.3 321,675 319,667.3 317,664.9 315,663.2 313,665.8 311,669.4 309,675.7 307,674.4 305,671.8 303,662.2 301,655 299,655.6 297,661.1 295,655.8 293,658.6 291,657.1 289,651.9 287,640.4 285,630.7 283,637.2 281,646.4 279,645 277,646 275,654 273,657.2 271,649.4 269,649.3 267,652 265,655.9 263,657.3 261,656 259,651.5 257,653.2 255,655.7 253,658.5 251,657.1 249,653.9 247,654.2 245,646.8 243,648.2 241,652 239,656.5 237,661.8 235,664.7 233,666.1 231,663.9 229,666.2 227,668.9 225,668.1 223,667.4 221,667.4 219,673.6 217,676.3 215,677.1 213,680.3 211,684.2 209,687.3 207,688.9 205,691.9 203,697.1 201,703.1 199,709.2 197,715.2 195,726.7 193,730.3 191,731.5 189,732.5 187,726.5 185,732.1 183,748.4 181,763.5 179,767.8 177,764.4 175,764.3 173,764.6 171,765.9 169,757 167,753.7 165,747.6 163,735.9 161,728.8Z" fill="rgba(217,218,218,0.567)"/>
<path d="M169,1110.2 171,1115.5 173,1099 175,1067.2 177,1090.8 179,1107.5 181,1119.6 183,1127.8 185,1128.9 187,1126.4 189,1124.7 191,1121.7 193,1118.1 195,1108 197,1102.6 199,1100.5 201,1097.7 203,1083.7 205,1060.9 207,1077.6 209,1091.7 211,1089.3 213,1076 215,1079.9 217,1075.2 219,1052.3 221,1042.4 223,1058 225,1071.7 227,1070.9 229,1056.8 231,1044.1 233,1052.2 235,1050.3 237,1026.4 239,1030.5 241,1021.8 243,1017.2 245,1010.4 247,992.2 249,1003.1 251,1025.1 253,1022.4 255,1020 257,992.1 259,996.4 261,1005.6 263,1017.1 265,1010 267,970.1 269,964.5 271,963.7 273,968.5 275,972.2 277,1001.9 279,1050.9 281,1062.3 283,1013.8 285,988.2 287,1016.3 289,1045.8 291,1072.1 293,1079.7 295,1036.6 297,1012.4 299,1027.2 301,1037.2 303,1034.7 305,1032.9 307,1030.6 309,1023.8 311,1031.4 313,1025.7 315,1026.2 317,1034.9 319,1050.5 321,1045.3 323,1034.7 325,1040 327,1028 329,1033.6 331,1054.9 333,1041.2 335,1064.2 337,1088.5 339,1082.5 341,1088.9 343,1099.3 345,1080.4 347,1102 349,1113.5 351,1092 353,1087.7 355,1075.8 357,1042.4 359,1064.2 361,1075.3 363,1073.8 365,1070 367,1063 369,1042.5 371,1024 373,1012.6 375,1018.4 377,1016.3 379,1030.5 381,1046.7 383,1047.8 385,1042.7 387,1042.5 389,1051.7 391,1082 393,1100.5 395,1119.2 397,1114.3 399,1104.5 401,1109.7 403,1102.2 405,1110.3 407,1119.1 409,1108.9 411,1127.6 413,1145 415,1128.7 417,1116.6 419,1121.6 421,1119.6 423,1095.9 425,1073 427,1095.1 429,1111.4 431,1107.9 433,1115.6 435,1118.9 437,1133.6 439,1163.5 441,1145.9 443,1104 445,1099.9 447,1125.6 449,1126.7 451,1108.2 453,1098 455,1102.7 457,1098.8 459,1123.4 461,1134.9 463,1135.4 465,1129.3 467,1121.3 469,1126.8 471,1113 473,1095.1 475,1104 477,1123.7 479,1129 481,1128.9 483,1136.4 485,1146.4 487,1151.6 489,1144.9 491,1127.5 493,1134.3 495,1140.9 497,1136.7 499,1126.5 501,1133.9 503,1139.8 505,1143.4 507,1145 509,1146.5 511,1149.7 513,1151.3 515,1150.6 517,1147.5 519,1150 521,1145.6 523,1150.7 525,1149.8 527,1150.7 529,1142.7 531,1141.8 533,1140.7 535,1143 537,1147.4 539,1151.5 541,1148.7 543,1139.7 545,1142.6 547,1149.6 549,1147.2 551,1138.8 553,1137.6 555,1141.1 557,1132.9 559,1127.2 561,1128.4 563,1128.9 565,1133.3 567,1126.1 569,1124.9 571,1110.9 573,1101 575,1089.5 577,1078.8 579,1083 581,1107.6 583,1128.5 585,1135.7 587,1127.6 589,1118.3 591,1106.8 593,1087.5 595,1075.9 597,1068.5 599,1059.2 601,1057.3 603,1047.7 605,1050.6 607,1060.7 609,1075.4 611,1083.7 613,1085.6 615,1087.4 617,1089.5 619,1092.2 621,1095 623,1088.4 625,1081.9 627,1075.3 629,1068.8 631,1062.2 633,1052.8 635,1042.1 637,1033.5 639,1027 641,1021 643,1017.3 645,1016.3 647,1016.3 649,1014.3 651,1012.3 653,1016.8 655,1020.3 657,1022.9 659,1024.4 661,1026.9 663,1030.6 665,1034.4 667,1038.2 669,1043.5 671,1052 673,1060.5 675,1068.9 677,1072.8 679,1053.6 681,1034.4 683,1016.6 685,1006 687,1000.8 689,1001.1 691,1001.4 693,1002.5 695,1007.2 697,1011.9 699,1016.1 701,1019.4 703,1022.8 705,1027.8 707,1033.2 709,1038.7 711,1044.1 713,1048.5 715,1051 717,1053.5 719,1056.1 721,1058.6 723,1060.9 725,1062.4 727,1063.9 729,1065.4 731,1066.8 733,1068.3 735,1069.8 737,1071.3 739,1072.8 741,1074.5 743,1077.7 745,1080.8 747,1083.9 749,1087.1 751,1090.2 753,1093.4 755,1096.5 757,1099.6 759,1102.8 761,1105.9 763,1109.1 765,1111.2 767,1108.3 769,1105.4 771,1102.5 773,1099.6 775,1096.7 777,1094.7 779,1092.7 781,1089.8 783,1086.7 785,1083.6 787,1080.6 789,1077.5 791,1074.4 793,1071.4 795,1067.7 797,1062.6 799,1057.6 801,1052.6 803,1047.5 805,1043.3 807,1040 809,1036.7 811,1035.2 813,1035.7 815,1036.1 817,1036.6 819,1037.1 821,1037.5 823,1038 825,1038.4 827,1038.9 829,1039.4 831,1039.8 833,1040.3 835,1040.7 837,1041.2 839,1041.6 841,1042.1 843,1042.1 845,1041.7 847,1041.3 849,1040.8 851,1040.4 853,1040 855,1039.6 857,1039.1 859,1038.7 861,1038.3 863,1037.8 865,1037.4 867,1037 869,1036.6 871,1036.1 873,1035.7 875,1035.3 877,1034.8 879,1034.4 881,1034 883,1033.6 885,1033.1 887,1032.7 889,1032.3 891,1031.9 893,1031.4 895,1031 897,1030.6 899,1030.1 901,1029.3 903,1028.1 905,1027 907,1025.9 909,1024.8 911,1023.7 913,1022.5 915,1021.4 917,1020.3 919,1019.2 921,1018.1 923,1016.9 925,1015.8 927,1014.7 929,1013.6 931,1012.5 933,1011.3 935,1010.2 937,1009.1 939,1008 941,1006.9 943,1005.7 945,1004.6 947,1003.5 949,1002.4 951,1001.3 953,1000.5 955,1001.2 957,1002 959,1002.7 961,1003.5 963,1004.3 965,1005 967,1005.8 969,1006.5 971,1007.3 973,1008.1 975,1008.8 977,1009.6 979,1010.3 981,1011.1 983,1011.9 985,1012.6 987,1013.4 989,1014.1 991,1014.9 993,1015.7 995,1016.4 997,1017.2 999,1017.9 1001,1018.7 1003,1019.5 1005,1020.2 1007,1021 1009,1021.7 1011,1022.5 1013,1023.3 1015,1024 1017,1024.8 1019,1025.5 1021,1026.3 1023,1027.1 1025,1027.8 1027,1028.6 1029,1029.4 1031,1030.1 1033,1030.9 1035,1031.6 1037,1032.4 1039,1033.2 1041,1033.9 1043,1034.7 1045,1035.4 1047,1036.2 1049,1037 1051,1038 1053,1039.4 1055,1040.8 1057,1042.2 1059,1043.6 1061,1044.9 1063,1046.3 1065,1047.7 1067,1049.1 1069,1050.5 1071,1051.9 1073,1053.3 1075,1054.6 1077,1056 1079,1057.4 1081,1058.8 1083,1060.2 1085,1061.6 1087,1062.9 1089,1064.3 1091,1065.7 1093,1067.1 1095,1068.5 1097,1069.9 1099,1071.3 1101,1072.6 1103,1074 1105,1075.4 1107,1076.8 1109,1078.2 1111,1079.5 1113,1080.6 1115,1081.6 1117,1082.7 1119,1083.8 1121,1084.8 1123,1085.9 1125,1087 1127,1088 1129,1089.1 1131,1090.1 1133,1091.2 1135,1092.3 1137,1093.3 1139,1094.4 1141,1095.5 1143,1096.5 1145,1097.6 1147,1098.7 1149,1099.7 1151,1100.8 1153,1101.9 1155,1102.9 1157,1104 1159,1105 1161,1106.1 1163,1107.2 1165,1108.2 1167,1109.3 1169,1110.4 1171,1111.4 1173,1112.5 1175,1113.2 1177,1113.9 1179,1114.6 1181,1115.3 1183,1116 1185,1116.6 1187,1117.3 1189,1118 1191,1118.2 1193,1118.1 1195,1117.9 1197,1117.7 1199,1117.6 1201,1117.4 1203,1117.2 1205,1117 1207,1116.9 1209,1116.7 1211,1116.5 1213,1116.3 1215,1116.2 1217,1116 1219,1115.8 1221,1115.6 1223,1115.5 1225,1115.3 1227,1115.1 1229,1115 1231,1114.8 1233,1114.6 1235,1114.4 1237,1114.3 1239,1114.1 1241,1114.1 1243,1114.3 1245,1114.5 1247,1114.7 1249,1114.9 1251,1115.1 1253,1115.4 1255,1115.6 1256,1115.7 L1256,1206.7 1255,1206.6 1253,1206.4 1251,1206.1 1249,1205.9 1247,1205.7 1245,1205.5 1243,1205.3 1241,1205.1 1239,1205.1 1237,1205.3 1235,1205.4 1233,1205.6 1231,1205.8 1229,1206 1227,1206.1 1225,1206.3 1223,1206.5 1221,1206.6 1219,1206.8 1217,1207 1215,1207.2 1213,1207.3 1211,1207.5 1209,1207.7 1207,1207.9 1205,1208 1203,1208.2 1201,1208.4 1199,1208.6 1197,1208.7 1195,1208.9 1193,1209.1 1191,1209.2 1189,1209 1187,1208.3 1185,1207.6 1183,1207 1181,1206.3 1179,1205.6 1177,1204.9 1175,1204.2 1173,1203.5 1171,1202.4 1169,1201.4 1167,1200.3 1165,1199.2 1163,1198.2 1161,1197.1 1159,1196 1157,1195 1155,1193.9 1153,1192.9 1151,1191.8 1149,1190.7 1147,1189.7 1145,1188.6 1143,1187.5 1141,1186.5 1139,1185.4 1137,1184.3 1135,1183.3 1133,1182.2 1131,1181.1 1129,1180.1 1127,1179 1125,1178 1123,1176.9 1121,1175.8 1119,1174.8 1117,1173.7 1115,1172.6 1113,1171.6 1111,1170.5 1109,1169.2 1107,1167.8 1105,1166.4 1103,1165 1101,1163.6 1099,1162.3 1097,1160.9 1095,1159.5 1093,1158.1 1091,1156.7 1089,1155.3 1087,1153.9 1085,1152.6 1083,1151.2 1081,1149.8 1079,1148.4 1077,1147 1075,1145.6 1073,1144.3 1071,1142.9 1069,1141.5 1067,1140.1 1065,1138.7 1063,1137.3 1061,1135.9 1059,1134.6 1057,1133.2 1055,1131.8 1053,1130.4 1051,1129 1049,1128 1047,1127.2 1045,1126.4 1043,1125.7 1041,1124.9 1039,1124.2 1037,1123.4 1035,1122.6 1033,1121.9 1031,1121.1 1029,1120.4 1027,1119.6 1025,1118.8 1023,1118.1 1021,1117.3 1019,1116.5 1017,1115.8 1015,1115 1013,1114.3 1011,1113.5 1009,1112.7 1007,1112 1005,1111.2 1003,1110.5 1001,1109.7 999,1108.9 997,1108.2 995,1107.4 993,1106.7 991,1105.9 989,1105.1 987,1104.4 985,1103.6 983,1102.9 981,1102.1 979,1101.3 977,1100.6 975,1099.8 973,1099.1 971,1098.3 969,1097.5 967,1096.8 965,1096 963,1095.3 961,1094.5 959,1093.7 957,1093 955,1092.2 953,1091.5 951,1092.3 949,1093.4 947,1094.5 945,1095.6 943,1096.7 941,1097.9 939,1099 937,1100.1 935,1101.2 933,1102.3 931,1103.5 929,1104.6 927,1105.7 925,1106.8 923,1107.9 921,1109.1 919,1110.2 917,1111.3 915,1112.4 913,1113.5 911,1114.7 909,1115.8 907,1116.9 905,1118 903,1119.1 901,1120.3 899,1121.1 897,1121.6 895,1122 893,1122.4 891,1122.9 889,1123.3 887,1123.7 885,1124.1 883,1124.6 881,1125 879,1125.4 877,1125.8 875,1126.3 873,1126.7 871,1127.1 869,1127.6 867,1128 865,1128.4 863,1128.8 861,1129.3 859,1129.7 857,1130.1 855,1130.6 853,1131 851,1131.4 849,1131.8 847,1132.3 845,1132.7 843,1133.1 841,1133.1 839,1132.6 837,1132.2 835,1131.7 833,1131.3 831,1130.8 829,1130.4 827,1129.9 825,1129.4 823,1129 821,1128.5 819,1128.1 817,1127.6 815,1127.1 813,1126.7 811,1126.2 809,1127.7 807,1131 805,1134.3 803,1138.5 801,1143.6 799,1148.6 797,1153.6 795,1158.7 793,1162.4 791,1165.4 789,1168.5 787,1171.6 785,1174.6 783,1177.7 781,1180.8 779,1183.7 777,1185.7 775,1187.7 773,1190.6 771,1193.5 769,1196.4 767,1199.3 765,1202.2 763,1200.1 761,1196.9 759,1193.8 757,1190.6 755,1187.5 753,1184.4 751,1181.2 749,1178.1 747,1174.9 745,1171.8 743,1168.7 741,1165.5 739,1163.8 737,1162.3 735,1160.8 733,1159.3 731,1157.8 729,1156.4 727,1154.9 725,1153.4 723,1151.9 721,1149.6 719,1147.1 717,1144.5 715,1142 713,1139.5 711,1135.1 709,1129.7 707,1124.2 705,1118.8 703,1113.8 701,1110.4 699,1107.1 697,1102.9 695,1098.2 693,1093.5 691,1092.4 689,1092.1 687,1091.8 685,1097 683,1107.6 681,1125.4 679,1144.6 677,1163.8 675,1159.9 673,1151.5 671,1143 669,1134.5 667,1129.2 665,1125.4 663,1121.6 661,1117.9 659,1115.4 657,1113.9 655,1111.3 653,1107.8 651,1103.3 649,1105.3 647,1107.3 645,1107.3 643,1108.3 641,1112 639,1118 637,1124.5 635,1133.1 633,1143.8 631,1153.2 629,1159.8 627,1166.3 625,1172.9 623,1179.4 621,1186 619,1183.2 617,1180.4 615,1178.3 613,1176.4 611,1174.4 609,1166.1 607,1151.3 605,1141 603,1138 601,1147.7 599,1157 597,1170.4 595,1173.4 593,1185.6 591,1200.4 589,1208.4 587,1218.1 585,1237.3 583,1225.1 581,1203.1 579,1183.7 577,1179 575,1192.4 573,1199.4 571,1208.2 569,1212.4 567,1216.2 565,1224.8 563,1238 561,1232.5 559,1239.4 557,1243.6 555,1238.9 553,1236.5 551,1241.1 549,1241.6 547,1240.6 545,1236.8 543,1233.8 541,1237.8 539,1240.4 537,1236.8 535,1232.2 533,1233 531,1239.7 529,1241.1 527,1240.1 525,1239 523,1235.9 521,1237.6 519,1239.3 517,1246.6 515,1253.6 513,1241.8 511,1236.8 509,1235 507,1237.2 505,1232.9 503,1233.6 501,1232.9 499,1226.3 497,1225.5 495,1251.6 493,1240.5 491,1224.9 489,1228.9 487,1238.7 485,1234.8 483,1235.4 481,1229.2 479,1216.1 477,1210.1 475,1197.6 473,1185.7 471,1205.4 469,1217.4 467,1217.7 465,1222.1 463,1234.8 461,1234.4 459,1215.9 457,1198.9 455,1201.9 453,1206 451,1214.1 449,1236.2 447,1234.5 445,1203.5 443,1204.2 441,1255.9 439,1272.9 437,1225.2 435,1213.8 433,1211.4 431,1215.5 429,1213.4 427,1190.6 425,1183 423,1204.6 421,1210.3 419,1212.9 417,1216.1 415,1233 413,1251.6 411,1220.9 409,1203.4 407,1208.9 405,1204.7 403,1208.8 401,1207.9 399,1197 397,1205.2 395,1218.9 393,1209.3 391,1185.9 389,1145 387,1134.9 385,1128.8 383,1136.4 381,1141.7 379,1139.4 377,1126.2 375,1121.2 373,1115.6 371,1113.6 369,1131.2 367,1151.5 365,1165.6 363,1166.5 361,1168.3 359,1162.1 357,1139.6 355,1167.8 353,1175.8 351,1178.7 349,1205.5 347,1210.3 345,1185.6 343,1210.6 341,1187.7 339,1171.8 337,1181.1 335,1162.5 333,1127.9 331,1146.5 329,1134.9 327,1134.4 325,1141.3 323,1138.1 321,1143.6 319,1140.5 317,1134.2 315,1123.6 313,1121.1 311,1135.1 309,1125 307,1120.5 305,1123.2 303,1126 301,1129.7 299,1118.6 297,1108.6 295,1132.3 293,1172.6 291,1162.7 289,1135.4 287,1112.2 285,1093.8 283,1110.8 281,1158.8 279,1158.6 277,1103.6 275,1066.8 273,1060.7 271,1055.2 269,1058.3 267,1079.7 265,1102.2 263,1104.8 261,1092.9 259,1085.8 257,1087.9 255,1109 253,1115.4 251,1119 249,1112.3 247,1097.3 245,1109.7 243,1108.3 241,1114.9 239,1121.5 237,1125.3 235,1138 233,1144 231,1136.6 229,1150.5 227,1165.3 225,1169.2 223,1162.2 221,1137.7 219,1141.3 217,1169.5 215,1176.8 213,1169 211,1180.5 209,1188.7 207,1182.8 205,1190 203,1191.8 201,1186.8 199,1187.3 197,1189.1 195,1201.7 193,1215.5 191,1215.9 189,1209.9 187,1210 185,1214.9 183,1220.3 181,1223.1 179,1221.5 177,1207.4 175,1192.5 173,1203.2 171,1215.7 169,1220.9Z" fill="rgba(217,218,218,0.567)"/>
<path d="M158,1310.6 160,1278.8 162,1204.5 164,1191.8 166,1211 168,1217.3 170,1263.4 172,1294.8 174,1308.9 176,1297.4 178,1295.5 180,1284 182,1266.9 184,1264.3 186,1286.8 188,1292.8 190,1283.2 192,1289.7 194,1283.4 196,1294.6 198,1245.7 200,1245.8 202,1271.1 204,1253.5 206,1235.9 208,1221.5 210,1220.3 212,1230.6 214,1222.6 216,1218.8 218,1206.4 220,1199 222,1197.3 224,1196.7 226,1193.6 228,1183.3 230,1187.6 232,1196.1 234,1203.1 236,1207.3 238,1201.5 240,1195.9 242,1188.1 244,1189.9 246,1189.1 248,1202.6 250,1218.7 252,1222.4 254,1228.2 256,1225.4 258,1221.1 260,1219.9 262,1224 264,1225.2 266,1214.7 268,1211.2 270,1219.8 272,1233.1 274,1223.1 276,1214.2 278,1218.2 280,1234.4 282,1246.9 284,1233.3 286,1210.3 288,1227.4 290,1235.8 292,1232.8 294,1220 296,1202.1 298,1205.9 300,1221.4 302,1206.7 304,1203.5 306,1228 308,1199.2 310,1180.6 312,1184.4 314,1196.5 316,1218.7 318,1237.5 320,1242.6 322,1234.7 324,1238.1 326,1241.9 328,1261.7 330,1268.6 332,1255.3 334,1273.8 336,1276.7 338,1261.3 340,1290.1 342,1310.6 344,1316.1 346,1323.6 348,1324.8 350,1321.2 352,1318.2 354,1308.5 356,1299.2 358,1283.3 360,1281.3 362,1287.8 364,1294.1 366,1274 368,1260.3 370,1266.8 372,1289.2 374,1291.8 376,1282.6 378,1281.1 380,1295 382,1322.1 384,1336.6 386,1343.6 388,1335.7 390,1315.5 392,1297.9 394,1282.7 396,1292.1 398,1309.9 400,1328.1 402,1350.4 404,1361.7 406,1364.3 408,1346.6 410,1323.2 412,1315.1 414,1317.5 416,1327.3 418,1324.9 420,1315.5 422,1316.8 424,1342 426,1367.5 428,1370.1 430,1354.4 432,1340.7 434,1331.5 436,1317.1 438,1312.3 440,1304.1 442,1310 444,1309.3 446,1314.6 448,1317.7 450,1314.8 452,1311.5 454,1299.5 456,1288.3 458,1285.7 460,1295.3 462,1309.1 464,1321.6 466,1329.3 468,1336.5 470,1336.6 472,1333.9 474,1315.4 476,1297.6 478,1282.2 480,1280 482,1279.2 484,1284.3 486,1292.6 488,1292.3 490,1292.4 492,1299.3 494,1281.8 496,1271.3 498,1276.3 500,1296.2 502,1301.3 504,1302.2 506,1301.3 508,1296.6 510,1291.8 512,1290.2 514,1292.4 516,1305.3 518,1317.9 520,1328.3 522,1325.7 524,1331.1 526,1337.6 528,1328.8 530,1318.2 532,1307.1 534,1294.6 536,1299.8 538,1310.7 540,1322.1 542,1332.1 544,1341.8 546,1344.4 548,1335.8 550,1338.3 552,1340 554,1341.4 556,1346.9 558,1349.8 560,1348.2 562,1348.6 564,1344.2 566,1336.4 568,1330.1 570,1324.2 572,1313.1 574,1308.9 576,1299.3 578,1285.2 580,1280.5 582,1284.5 584,1288.2 586,1297.4 588,1306.1 590,1311.7 592,1317 594,1320.4 596,1314.8 598,1315.1 600,1319.4 602,1321.2 604,1319.2 606,1319.1 608,1315.2 610,1317.6 612,1317.1 614,1316.5 616,1309.8 618,1315.1 620,1319.1 622,1317.6 624,1314.1 626,1310.8 628,1306.5 630,1304.1 632,1300.8 634,1292.4 636,1286.5 638,1286.2 640,1282.6 642,1291.8 644,1300.7 646,1300.3 648,1294.3 650,1294.9 652,1300.6 654,1292.1 656,1294.5 658,1291 660,1284 662,1278 664,1272.6 666,1268.3 668,1272.5 670,1286.2 672,1297.7 674,1306.3 676,1308.3 678,1320.5 680,1326.9 682,1325.6 684,1335.5 686,1341.4 688,1342.8 690,1347.4 692,1352.9 694,1351 696,1356.1 698,1358.8 700,1362.3 702,1366.4 704,1372 706,1380 708,1386.9 710,1392.8 712,1397.3 714,1398.7 716,1397.3 718,1395.3 720,1390.1 722,1380.6 724,1372.9 726,1366.2 728,1365.2 730,1362.7 732,1356.2 734,1346.7 736,1337.1 738,1327.2 740,1319.4 742,1313.5 744,1310 746,1310.5 748,1310.4 750,1308.4 752,1307.6 754,1305.2 756,1305.5 758,1302.1 760,1296.8 762,1292.7 764,1291.3 766,1290.9 768,1290.3 770,1290.6 772,1291.9 774,1292.4 776,1292.7 778,1291.8 780,1289.8 782,1288.5 784,1286.6 786,1284.9 788,1283.6 790,1282.1 792,1282.4 794,1282.4 796,1282.4 798,1282.5 800,1281.6 802,1281.6 804,1280.7 806,1281.8 808,1282.9 810,1284.4 812,1285.2 814,1285.9 816,1286.2 818,1286.3 820,1285.1 822,1285 824,1283.6 826,1280.7 828,1278.5 830,1276.6 832,1274.7 834,1272.9 836,1270 838,1268.7 840,1267.1 842,1266.1 844,1265.8 846,1263 848,1262.1 850,1262.4 852,1263.3 854,1265.3 856,1266.4 858,1269.5 860,1269.9 862,1273.1 864,1273.9 866,1273.8 868,1272.9 870,1272.3 872,1271.9 874,1272.3 876,1270.7 878,1271.8 880,1274.2 882,1273.8 884,1273.9 886,1273.8 888,1274.9 890,1279 892,1281.7 894,1284.7 896,1287.8 898,1290.6 900,1293.4 902,1297.7 904,1300.9 906,1304.6 908,1310.1 910,1313.3 912,1316 914,1318.3 916,1318.5 918,1319.9 920,1318.1 922,1319.6 924,1317.1 926,1314.1 928,1313 930,1311.4 932,1310.5 934,1311.3 936,1311.5 938,1312.5 940,1313.9 942,1314.9 944,1316.3 946,1317.6 948,1318.6 950,1317.5 952,1314.5 954,1311.3 956,1308.4 958,1307 960,1303.2 962,1301.7 964,1303.8 966,1303.2 968,1302.8 970,1304.2 972,1311.1 974,1315.9 976,1320.1 978,1327.3 980,1333.7 982,1340.5 984,1345.4 986,1350.8 988,1353.8 990,1357 992,1358.2 994,1357.7 996,1357.2 998,1357.1 1000,1356.9 1002,1355.6 1004,1355.1 1006,1353.6 1008,1350.9 1010,1351.6 1012,1351.3 1014,1352.1 1016,1354.1 1018,1357.6 1020,1362.9 1022,1367.8 1024,1371.4 1026,1373.7 1028,1373.1 1030,1375 1032,1373.4 1034,1372 1036,1370.3 1038,1369.5 1040,1369.1 1042,1368.9 1044,1368.2 1046,1366 1048,1364 1050,1361.6 1052,1357.3 1054,1354.1 1056,1352.6 1058,1352.8 1060,1352.7 1062,1349.8 1064,1350.1 1066,1348.6 1068,1347.5 1070,1345.9 1072,1342.8 1074,1341.8 1076,1342.9 1078,1340.6 1080,1338.3 1082,1340 1084,1339.6 1086,1339.5 1088,1338.2 1090,1337.4 1092,1339.2 1094,1339.1 1096,1339 1098,1339.3 1100,1339.7 1102,1340.2 1104,1340 1106,1341.7 1108,1343 1110,1343.5 1112,1345.1 1114,1346.9 1116,1348.3 1118,1348.4 1120,1349.7 1122,1350.2 1124,1350.3 1126,1349.5 1128,1349 1130,1349.5 1132,1348.6 1134,1347.8 1136,1347.7 1138,1346 1140,1345 1142,1342.5 1144,1341.5 1146,1341.8 1148,1340.7 1150,1341.4 1152,1342.9 1154,1344.1 1156,1345.2 1158,1346.5 1160,1347.4 1162,1348.3 1164,1348.7 1166,1349.8 1168,1353.7 1170,1355.5 1172,1356.8 1174,1356.7 1176,1357.4 1178,1359.9 1180,1360.2 1182,1361 1184,1361.5 1186,1361.2 1188,1360.8 1190,1359.5 1192,1359 1194,1360 1196,1360.4 1198,1359 1200,1361.3 1202,1362.2 1204,1364.6 1206,1367 1208,1369.4 1210,1371.9 1212,1374 1214,1375.7 1216,1376.4 1218,1377.3 1220,1378.7 1222,1380 1224,1379.4 1226,1379 1228,1377.5 1230,1374.2 1232,1370.1 1234,1365.4 1236,1360.7 1238,1356.3 1240,1352.1 1242,1347.8 1244,1345.1 1246,1341.5 1248,1338.6 1250,1336.7 1252,1335.9 1254,1334.9 1256,1332 L1256,1418.2 1254,1421.7 1252,1423.1 1250,1424.4 1248,1426.2 1246,1429.2 1244,1433.2 1242,1436.1 1240,1440 1238,1444.6 1236,1449.9 1234,1454.7 1232,1459.8 1230,1462.2 1228,1465.9 1226,1468 1224,1470.9 1222,1471.9 1220,1471.6 1218,1469.5 1216,1467.5 1214,1466.5 1212,1463.9 1210,1461.8 1208,1457.6 1206,1455.9 1204,1454.5 1202,1453.8 1200,1453.3 1198,1453.3 1196,1451.2 1194,1449.9 1192,1449.9 1190,1450.8 1188,1451.8 1186,1452.4 1184,1452.8 1182,1452.3 1180,1452.4 1178,1454.2 1176,1453.7 1174,1451.5 1172,1449.5 1170,1451.8 1168,1450.2 1166,1446.2 1164,1443.5 1162,1442.3 1160,1441.4 1158,1440 1156,1439.4 1154,1438 1152,1439.2 1150,1441.2 1148,1442.2 1146,1441 1144,1440.1 1142,1441 1140,1440.4 1138,1441.3 1136,1442.1 1134,1445.5 1132,1444.2 1130,1444.6 1128,1444.2 1126,1445.6 1124,1447.3 1122,1446.7 1120,1446.1 1118,1446.7 1116,1444 1114,1441.7 1112,1440.7 1110,1440 1108,1437.8 1106,1434.9 1104,1434.9 1102,1434 1100,1434.7 1098,1434.1 1096,1434 1094,1433.1 1092,1433.6 1090,1433.7 1088,1433.7 1086,1435 1084,1434.7 1082,1436.4 1080,1437.2 1078,1438.6 1076,1438.5 1074,1439.5 1072,1439.8 1070,1441.8 1068,1441.6 1066,1443.3 1064,1444.7 1062,1443.7 1060,1444.5 1058,1444.7 1056,1445.8 1054,1445.9 1052,1449.6 1050,1452 1048,1455.3 1046,1458.8 1044,1461.3 1042,1461.2 1040,1461.4 1038,1461.7 1036,1461.4 1034,1462.6 1032,1463.4 1030,1465.6 1028,1464.8 1026,1462.9 1024,1459.3 1022,1456 1020,1450.9 1018,1446.3 1016,1444.3 1014,1442.9 1012,1441.5 1010,1441.9 1008,1443 1006,1442.1 1004,1443.2 1002,1445.5 1000,1447.6 998,1450.1 996,1451.2 994,1451.8 992,1452.9 990,1450.1 988,1448.2 986,1445.3 984,1441.2 982,1435.8 980,1430.1 978,1421.8 976,1416 974,1410.3 972,1406.5 970,1401.5 968,1398.8 966,1399.8 964,1397.1 962,1397.7 960,1398.7 958,1401 956,1404.2 954,1406.9 952,1408.6 950,1410.7 948,1411.4 946,1410.5 944,1410.3 942,1409.5 940,1409.2 938,1407.4 936,1406.8 934,1406.4 932,1404.8 930,1405.6 928,1407.1 926,1409.3 924,1411.3 922,1414.2 920,1414.5 918,1415.1 916,1414.5 914,1413.6 912,1412.5 910,1411 908,1407.7 906,1403 904,1399.3 902,1395.6 900,1391.6 898,1389.4 896,1385.4 894,1382.5 892,1379.2 890,1376.1 888,1372.7 886,1371.1 884,1369 882,1367.4 880,1365.7 878,1365.4 876,1365.8 874,1365 872,1363.4 870,1363.3 868,1364.7 866,1364.5 864,1366.2 862,1363.7 860,1362.6 858,1360.8 856,1360.5 854,1357.4 852,1356.1 850,1354.2 848,1352.9 846,1353.9 844,1355.6 842,1357.9 840,1359.8 838,1362.8 836,1363.1 834,1366.6 832,1370.1 830,1372.4 828,1376.5 826,1379 824,1380.4 822,1383.7 820,1384.5 818,1385.2 816,1384.5 814,1384.9 812,1383 810,1381.9 808,1380.9 806,1379.7 804,1380.7 802,1382.4 800,1380.7 798,1381 796,1381.4 794,1380.9 792,1381.3 790,1380.7 788,1379.9 786,1379.6 784,1380.2 782,1381.3 780,1382.3 778,1384.4 776,1386.4 774,1385.9 772,1385 770,1383.1 768,1380.8 766,1379 764,1379.2 762,1382.7 760,1386.3 758,1389.7 756,1393.6 754,1395.9 752,1396.4 750,1397 748,1397.5 746,1397 744,1398.2 742,1401.3 740,1405.7 738,1413.4 736,1423.4 734,1434.1 732,1444.3 730,1451.6 728,1456.2 726,1460.2 724,1467.1 722,1475.9 720,1484.6 718,1489.5 716,1493.3 714,1493.8 712,1493.3 710,1489.8 708,1483 706,1475.7 704,1469.4 702,1463.9 700,1460.7 698,1459.6 696,1455 694,1460.1 692,1459.3 690,1450.7 688,1444.5 686,1436.2 684,1433.6 682,1434.4 680,1429.9 678,1420.6 676,1415.3 674,1408.4 672,1402.2 670,1391.1 668,1377.8 666,1370.4 664,1377.6 662,1375 660,1380.9 658,1383.9 656,1389.2 654,1397.8 652,1407.1 650,1406.5 648,1399.6 646,1397.8 644,1396.2 642,1386.7 640,1380.4 638,1378.2 636,1376.4 634,1381.6 632,1390.9 630,1395.3 628,1397.9 626,1399.6 624,1402.8 622,1407.8 620,1412.1 618,1413.3 616,1411.9 614,1412.9 612,1416.4 610,1418.2 608,1414.7 606,1411.3 604,1411.7 602,1415.2 600,1413.6 598,1412.9 596,1420.5 594,1415.8 592,1415 590,1404.1 588,1400 586,1394.6 584,1396 582,1389.1 580,1388.6 578,1390.6 576,1397.9 574,1402.9 572,1410 570,1421.6 568,1429.6 566,1431.4 564,1437.5 562,1441.9 560,1442.7 558,1445.3 556,1448.4 554,1442.2 552,1435.2 550,1431.6 548,1438 546,1446.3 544,1446.1 542,1434.7 540,1419.8 538,1406.4 536,1403.1 534,1404.5 532,1415.9 530,1426.8 528,1437.1 526,1439.3 524,1432.2 522,1435.6 520,1439.4 518,1423.2 516,1402.6 514,1390.8 512,1387.5 510,1391.5 508,1396.7 506,1397 504,1397.5 502,1408.5 500,1407.3 498,1385.1 496,1374.2 494,1377.5 492,1406.5 490,1414 488,1401.5 486,1397.2 484,1387.4 482,1374.6 480,1375 478,1381.2 476,1400 474,1424.8 472,1443.1 470,1443.4 468,1438.5 466,1426.3 464,1418.2 462,1403.1 460,1394.3 458,1390.2 456,1392.8 454,1403.6 452,1413.1 450,1409 448,1405.7 446,1401.9 444,1400.3 442,1401.2 440,1394.8 438,1401.3 436,1412.1 434,1425.7 432,1437.2 430,1448.6 428,1457.4 426,1458.4 424,1437.7 422,1412.5 420,1413.4 418,1417 416,1423.6 414,1412.3 412,1411.4 410,1415.7 408,1442.5 406,1466.5 404,1459.6 402,1443.1 400,1429.5 398,1411.1 396,1394.3 394,1385.4 392,1393.9 390,1412.8 388,1430.8 386,1440.7 384,1431.2 382,1416.4 380,1390.9 378,1376.2 376,1379.4 374,1391.6 372,1398.2 370,1387.7 368,1357.1 366,1367.5 364,1385.4 362,1387.1 360,1384.4 358,1390.9 356,1401.4 354,1411.3 352,1413.2 350,1413 348,1423 346,1419 344,1416.2 342,1412.2 340,1394.9 338,1364.5 336,1368.9 334,1366.4 332,1350.6 330,1372.4 328,1373 326,1353 324,1332.5 322,1328.9 320,1335.1 318,1335.1 316,1314 314,1297.6 312,1282.7 310,1281.6 308,1308 306,1318.8 304,1299.5 302,1299.6 300,1315.5 298,1307.6 296,1302 294,1318.5 292,1323.5 290,1326.6 288,1330.9 286,1314.6 284,1328.6 282,1336.4 280,1327.3 278,1314.9 276,1307.5 274,1316.1 272,1321 270,1315.5 268,1301 266,1303.8 264,1313 262,1312.8 260,1312.3 258,1315.5 256,1321.8 254,1331.2 252,1321.6 250,1320.2 248,1301.9 246,1289.1 244,1284.8 242,1279.4 240,1282 238,1289.6 236,1297.7 234,1290.7 232,1287 230,1274.4 228,1273.2 226,1283.1 224,1290.1 222,1292.6 220,1300.2 218,1298 216,1313.8 214,1317.3 212,1321.4 210,1308.1 208,1315.9 206,1331.2 204,1345 202,1361.6 200,1336.8 198,1339.1 196,1392.8 194,1388.8 192,1388.6 190,1382.6 188,1393.4 186,1386.4 184,1361.9 182,1364.2 180,1391.9 178,1414.8 176,1407.5 174,1405.8 172,1387.8 170,1353.4 168,1306.6 166,1304.6 164,1282.4 162,1299.2 160,1371.7 158,1402Z" fill="rgba(217,218,218,0.567)"/>
<path d="M155.3,229.3H1249" stroke="#8e8e8e" stroke-width="1.25" stroke-dasharray="9.3,9.37" stroke-dashoffset="4.6" fill="none"/>
<path d="M167.8,1259.2H1256" stroke="#8e8e8e" stroke-width="1.25" stroke-dasharray="9.3,9.37" fill="none"/>
<polyline fill="none" stroke="#2ca02c" stroke-width="2.8" stroke-linejoin="round" stroke-linecap="round" points="180,187.3 184,201.7 187.7,211.7 192.7,205 197.3,199.3 201,205 205,202.7 208.3,201.7 210.7,200 213.3,199 216,196.7 218.3,193.3 220,197.3 222.7,181.7 225,178.3 226.7,187.3 230,160 232.3,176.7 235,171.7 237.3,175 240.7,183.3 242.7,185 246,160 248.3,154 250.7,156.7 253.3,166.7 255,167.7 258.3,155 261.7,158.3 265,160 268.3,150 271.7,136.7 274,131.7 277.3,120.7 280,125 282.7,126.7 285,136.7 288.3,146.7 291.7,141.7 295,138.3 298.3,146.7 301,155 304,140 306.7,126.7 310,130 312.7,140 315,160 316.7,180 320,156.7 321.7,163.3 323.3,178.3 326.7,169.3 329.3,172.7 331.7,170.7 334.3,176 336.7,170 340,199 343.3,178.3 347.3,200 351.7,180 356,193.3 360,181.7 363.3,173.3 365.7,174 368.3,169.3 371,173.3 373.3,172.7 376,176.7 378.3,170.7 381,181.7 383.3,193.3 385.7,189.3 388.3,196.7 391,205 394.3,186.7 396.7,180 399,196.7 401,233.3 403.3,256.7 406.7,260 409.3,270.7 411.7,266.7 414,267.7 416.7,273.3 420,250 423.3,233.3 426.7,263.3 430,275 434,241.7 437.3,263.3 440,276.7 443.3,256.7 446.7,226.7 449.7,205 453.3,190 456,184 459.3,183.3 464,173.3 466.7,176.7 469.3,203.3 472,225 475,213.3 477.3,193.3 480,191.7 482.7,203.3 486,216.7 489.3,213.3 492.7,202.7 496.7,196 500,199.3 505,213.3 510,230 515,246.7 520,265 523.3,276.7 526.7,274 531,275.7 535,285 538,289.3 541.7,276.7 545,256.7 548.3,233.3 551.7,213.3 555,201.7 560.7,199 565,201.7 571.7,210 578.3,215.7 585,212.3 590,220.7 595,227.7 600,224 603.3,221.7 608.3,210.7 613.3,200.7 617.7,199 621.7,203.3 626.7,213.3 631.7,230 636.7,250 641.7,273.3 645,290 648.3,310 650.3,315.7 652.3,306.7 654.3,273.3 656.7,233.3 658.7,216.7 660.7,211.7 663.3,221.7 666.7,226.7 670.7,220 674,206.7 677.3,188.3 680,180 682.7,178.3 684.3,191.7 687.3,201.7 690,208.3 692,215 695.3,213.3 698.3,196.7 700.7,186.7 703.3,181.7 705,175 706.7,185 709.3,193.3 711.7,215 715,220 718.3,225 720.7,229.3 724,218.3 727.3,208.3 731.7,198.3 736,197.3 740,185 744,180 748.3,185 753.3,195 758.3,203.3 763.3,216.7 768.3,233.3 771.7,242.3 775,240.7 778.3,230 781.7,216.7 784.3,210 786.7,208.3 790,215 793.3,216.7 796,219.3 799.3,216 802.7,220.7 806,226.7 809.3,230 813.3,221.7 817.7,215 821.7,218.3 825,230 828.3,241.7 832,250.7 836.7,241.7 841.7,230 846.7,218.3 851.7,208.3 856.7,203.3 861.7,206.7 865,218.3 868.3,233.3 871.7,251.7 876,270 880.7,281.7 884.3,276.7 888.3,263.3 891.7,246.7 894.3,239.3 896.7,238.3 899.7,253.3 901.3,300 903,333.3 905,340.7 907.3,333.3 910,300 913.3,260 916.7,230 919.3,222.7 922.7,222.7 928.3,216 931.7,215 962.7,147.7 970,160 979,165 988.3,151.7 995,151.7 1004.3,160 1019,201.7 1028.3,205 1046.7,204.3 1057.3,195 1070,206.7 1083.3,217.7 1090,217.3 1101,212.3 1108.3,217.3 1118.3,228.3 1133.3,261.7 1152,293.3 1170,261.7 1186.7,250 1208.3,227.7 1216.7,234.3 1236.7,256.7 1251.7,268.3 1256,266.7"/>
<polyline fill="none" stroke="#ee1010" stroke-width="2.75" stroke-linejoin="round" stroke-linecap="round" points="162.3,397.7 168.3,403.3 173.3,408.3 178.3,423.3 181.7,436.7 184,441 186.7,433.3 190,413.3 192.7,401.7 195,396.7 197.3,398.3 200,399.3 202.3,402.7 205,396.7 208.3,376.7 210.7,363.3 213.3,358.3 216.7,359.3 220,346.7 223.3,331.7 226,326.7 228.3,328.3 231.7,324.3 235,323.3 238.3,330 241.7,336.7 244.3,331.7 247.3,326 250.7,329.3 253.3,330.7 256.7,325.7 259.3,328.3 262.7,338.3 266,348.3 270,354 273.3,349 276.7,346.7 280,348.3 282.7,355 286,356.7 289.3,365 292.7,373.3 296,376.7 299.3,370 302,359.3 304,356.7 306.7,366.7 310,378.3 312.7,383.3 316,375 319.3,363.3 322.7,356.7 326,346.7 328.3,342.3 331,348.3 333.3,356.7 336,359.3 338.3,368.3 340.7,386.7 343.3,393.3 346.7,393.3 349.3,383.3 352.3,365 354.3,369.3 356.7,381.7 359.3,374 361.7,376.7 364.3,380 366.7,392.7 369.3,381.7 371.7,369.3 373.3,368.3 375.7,390 378.3,411.7 380.7,420 382.7,421.7 385,406.7 386.7,393.3 388.3,398.3 390,423.3 392.3,460 394.3,486.7 396.7,526.7 399,566.7 401,588.3 402.3,592.3 404,563.3 405.7,549.3 407.3,556.7 408.7,566 410.7,556.7 413.3,538.3 415.3,528.3 417.3,523.3 419.3,503.3 421.3,470 423,452.7 424.3,466.7 425.7,486.7 427.7,506.7 430,530 432,548.3 433.7,551 435.7,540 437.7,526.7 440,519.3 442,517.3 444.3,519.3 446.7,510 448.7,493.3 449.7,483.3 452.7,463.3 456.7,458.3 461.7,443.3 465,440 467.3,446.7 470.7,465 474,480 476.7,484 480,476.7 483.3,471.7 489.3,471.7 493.3,461.7 496.7,455 500,452.7 503.3,456.7 507.3,468.3 511.7,480 514,484 517.3,476.7 520.7,471.7 524,476.7 526.7,493.3 529.3,510 531.7,521.7 534,510 536,498.3 538,495 540,501.7 542.7,511.7 545,516.7 547,520 549.3,513.3 551.3,506.7 552.7,510 554,505 556,501.7 558.3,486.7 560.7,471.7 563.3,465 566,456.7 568.3,465 570.7,460 572.7,456.7 574.7,470 577,486 579.3,476.7 581.7,465 584,460 587.3,460.7 590,460 593.3,468.3 596,462.7 599.3,455 601.7,458.3 604.3,462.7 607.3,465 611.7,466 615,470.7 618.3,468.3 620.7,467.7 623.3,472.7 626.7,478.3 629.3,482.3 631.7,476.7 635,466.7 637.3,462.7 640,468.3 642,469.3 644,461.7 646,458.3 648.3,465 650.7,473.3 652.7,461.7 654.7,451.7 656.7,450.7 658.7,458.3 660.7,455 662.7,440 664.3,436.7 666,446.7 668,458.3 670,450 672.3,442.7 674.7,446.7 676.7,454 679.3,443.3 681.7,438.3 684,445 686.7,444 689.3,448.3 692,455 694,443.3 696,426.7 698,418.3 700,426.7 702.3,436 704.7,435 706.7,439.3 709,450 710.7,453.3 713.3,445 716.7,442.7 719.3,435 721.3,429.3 724,435 726,436 728.7,446 730.7,443.3 733.3,437.7 736,442.7 738.3,441.7 740.7,446.7 743.3,446 746,454 748.3,450 750.7,436.7 752.7,432.7 755,435 757.3,443.3 759.3,446 761.3,453.3 763.3,456.7 765.3,466.7 767.3,483.3 769,493.3 770.7,481.7 772,484 773.3,506.7 775,526.7 776.7,546.7 778,565 779.3,561.7 781,565 782.7,573.3 784.3,586.7 785.7,590.7 787.3,580 789.3,560 791.3,533.3 793.3,506.7 795.3,483.3 797.3,468.3 799.3,462.7 802.7,462.7 805.3,465 807.3,458.3 809.3,454 811.7,460 814,465 816,464.3 818.3,450 820.3,440 822.3,450 824.3,463.3 826,462.7 828.3,471.7 831.7,476.7 834.3,470 837.3,461.7 840,453.3 842.7,456.7 845,464.3 847.3,458.3 849.3,455 851.7,460 854,459.3 856,470 858.3,480.7 860.7,471.7 863.3,461.7 866,450 868.3,441.7 870.7,436.7 872.7,423.3 875,414.3 877.7,414 880,416 882.3,417.3 884.3,428.3 886,431.7 888,420 890.3,411 892,420 894,440 896,456.7 898.3,465 899.7,475 901.7,493.3 904,505 906.7,506.7 909.3,515 911.7,511.7 914,517.3 917.3,527.3 920.7,510 923.3,493.3 925.3,470 927.3,453.3 929.3,449.3 931.7,440 934,423.3 936,416.7 938.3,426.7 940.7,434.3 942.7,435 945,423.3 947.3,408.3 949.3,404.3 951.7,412.7 954,414 956,420 958.3,413.3 960,420.7 961.7,410 962.7,423.3 964,413.3 966,391.7 967.7,385 970,396.7 972,415 974,416 976.7,410 979.3,416.7 982,426 984,415 986,410 988,414 990,413.3 992.7,418.3 995,410 996.7,399.3 998.3,400.7 1000,411.7 1002.7,423.3 1005.3,427.7 1007.3,421.7 1010,414.3 1012.7,423.3 1015.3,426 1017.3,423.3 1020,416.7 1022,426.7 1024,440 1026,449.3 1028.3,438.3 1030.7,431.7 1033.3,434 1036,426.7 1038.7,419.3 1041.3,423.3 1043.3,425.7 1046,420 1048.7,421.7 1050.7,415 1052.7,408.3 1054.7,413.3 1056.7,421.7 1059.3,420 1062.7,415 1065.3,420 1068.3,428.3 1071.7,434 1074,428.3 1076.7,420 1079.3,419.3 1081.7,428.3 1084,441.7 1086.7,448.3 1089.3,460 1091.7,476.7 1094,488.3 1096.7,493.3 1099.3,500"/>
<polyline fill="none" stroke="#ee1010" stroke-width="2.75" stroke-linejoin="round" stroke-linecap="round" points="160.7,679 163.3,683.3 165.7,700 169,706.7 172.3,710.7 175.7,715 179,721 181.7,710 184.3,690 186.7,676 189.3,680 192.3,679.3 195,676.7 198.3,666.7 202.3,653.3 206.7,645 210,642.7 215,633.3 219.3,625 223.3,624 227.3,622.7 231,618.3 234,621 237.3,618.3 240.7,606 243.3,597.3 246.7,605 250,609.3 253.3,613.3 256,605 258.7,606.7 261.7,601.7 265.7,606.7 269.3,601.7 273.3,600 277.3,599 281,599 283.3,588.3 285.3,583.3 287.3,595 290,606.7 292.3,614 295,609.3 297.7,606 300.7,606.7 303.3,618.3 305.3,621.7 308,630 311,622.7 314.3,615.7 317.3,616 320,620 322.7,631.7 325.7,640.7 328.3,641.7 331,637.3 333.3,645 336,653.3 338,676.7 340,706.7 342.3,733.3 344.3,750 346,758.3 348.3,786.7 350.7,778.3 353.3,807.3 354.7,753.3 356.3,683.3 358,706.7 360,725 362.7,739.3 365,726.7 367.7,710 370.7,691.7 373.3,678.3 375,674 377.7,686.7 380,675 382.7,670 386,673.3 389,680 392.7,676.7 396,672.7 398.3,678.3 401,685 403.3,688.3 406.7,675 409.3,686.7 412.3,703.3 415,715.7 418.3,708.3 421.7,695 425,686.7 428.3,688.3 431,695 435.7,697.7 440,686.7 443.3,676.7 446.7,668.3 449.7,679.3 452.7,690 457.3,661.7 460.7,664 463.3,668.3 467.3,661.7 472,657.7 476.7,657.3 480,658.3 484.3,693.3 488.3,703.3 493.7,722.3 499,671.7 504,681.7 509.3,686.7 514.3,691.7 518.7,679.3 522.7,688.3 527.7,708.3 531.7,701.7 536,689.3 540.7,691 545,686.7 549.3,687.7 552.7,686.7 556,696.7 560,709 565.7,692.7 571.7,705.7 577.3,681.7 582.3,685.7 586.7,694 590.7,699 598.3,695.7 604.3,693.3 611.7,703.3 616.7,703.3 621.7,702.3 626,710 631,720.7 638.3,711 645,727.3 650,715 655,701 659,697.7 663.3,701.7 666.7,710 672.3,719.3 679,701.7 683.3,718.3 687.7,736 691,726.7 696.7,721.7 700.7,725.7 705,726.7 710,723.3 713.3,722.7 719.3,736 726.7,732.7 736,734.3 740.7,730 746.7,713.3 754,694 760.7,686.7 767.3,687.7 776,695 786.7,696 798.3,696 812.7,690.7 828.3,671.7 842.7,643.3 847.3,642.3 853.3,646 862.3,650 870,655.7 876.7,657.3 880.7,655.7 891.7,664 899.7,678 904,683.3 909.3,686.7 915,687.7 921.7,684 928.3,669.3 935,646.7 942.7,623.3 950,606.7 958.3,592.7 964,583.3 970.7,582.7 977.3,596 985,615 991.7,648.3 999,695 1006,736.7 1012.7,736 1019.3,721.7 1026.7,681.7 1033.3,656 1046.7,628.3 1065,598.3 1069.3,597.3 1078.3,613.3 1099.3,648.3 1111.7,675 1126,693.3 1131.7,697.7 1138.3,690.7 1145,685.7 1151.7,684 1171.7,691.7 1178.3,676.7 1185,666 1200,655.7 1205,658.3 1211.7,665 1226.7,674.3 1248.3,687.3"/>
<polyline fill="none" stroke="#000" stroke-width="2.2" stroke-linejoin="round" stroke-linecap="round" points="163.3,889 170,893.3 177.3,896 184,880.7 191,869.3 198,874 205,862.7 211.7,840 218.3,851.7 225.3,834 232.3,824 239,805 243.7,777.3 248.3,810 253.3,820.7 258,794 263,764 267.7,860.7 272.7,825.3 277.3,847.3 282.3,863.3 287,878.3 291.7,867.3 296.3,868.3 301,856 306,849.3 310.7,869.3 315.7,872.7 320.7,868.3 325.7,870 330,886.7 335,880.7 339.3,898.3 344.3,915.7 349.3,928.3 353,938.3 356.3,882.7 360,911.7 363.3,903.3 366.7,887.7 371,886.7 377.7,905 381.7,925 384.7,917.3 388,953.3 398.3,948.3 407.3,946.7 417.7,964 428.3,968.7 436.7,960 445,932.7 453.3,920 461.7,908.3 478.3,942.7 486.7,927.3 495,928.3 503.3,934 511.7,948.3 520,932 528.3,950 536.7,941 545,944.3 554,940 562.3,942.7 570.7,949.3 578.7,967.3 587,934.3 595.3,970 603.7,959 612.3,963.3 620.7,945.3 629,978.7 637.3,949 645.7,940 654,934.3 662,986.7 670,960 678.3,954 686.3,945.3 694.7,945.7 702.7,948.3 711,946.7 719.3,923.3 727.3,895 735.3,892.3 743.3,903.3 751.7,927.7 760,935.7 765.3,951 771.3,929 777,917.7 783.3,923.3 788.7,923.7 794.3,917.3 806,937.7 817.7,908.3 823.3,898.3 829,920.7 835,944 840.7,969.3 846.7,905.3 852.3,898.3 858.3,897.3 864,886.7 870,898.3 875.7,894.3 881.7,894 887.3,925 893,960.7 898.7,954 903.3,968.3 909,979 914,976 919,966 924,929.3 929,914 934,931 939,904 944,942.3 949,891 954,914 959,889 963.3,884 968.3,876.7 974,872.3 979.3,873.3 984.3,875 989.3,879.3 995,886.7 999.3,910 1004.3,932.3 1011,960.7 1016,950.7 1022.7,939 1029.3,932.7 1035.7,940 1042.3,924 1048,893.3 1054,887.7 1060,888.3 1066.7,892.3 1072.7,910.7 1079,904 1085.3,909 1091.7,885 1097.3,932.7 1101.7,947.7 1106,935.7 1110,946.7 1114.3,1001.7 1118.3,964 1122.3,940 1127,984 1134.7,940.7 1138.7,951.7 1142.7,929 1147,922.7 1151.3,919.3 1155.3,941 1162.3,950.7 1169.3,949.3 1176.7,996.7 1183.3,930.7 1190.7,934 1198.3,944.3 1205,943.3 1212,929 1219.3,946.7 1226,959 1233.3,951.7 1240,947.7 1247.3,932.3 1255,937.3"/>
<g fill="#000"><ellipse cx="163.3" cy="889" rx="2.7" ry="2.2"/><ellipse cx="170" cy="893.3" rx="2.7" ry="2.2"/><ellipse cx="177.3" cy="896" rx="2.7" ry="2.2"/><ellipse cx="184" cy="880.7" rx="2.7" ry="2.2"/><ellipse cx="191" cy="869.3" rx="2.7" ry="2.2"/><ellipse cx="198" cy="874" rx="2.7" ry="2.2"/><ellipse cx="205" cy="862.7" rx="2.7" ry="2.2"/><ellipse cx="211.7" cy="840" rx="2.7" ry="2.2"/><ellipse cx="218.3" cy="851.7" rx="2.7" ry="2.2"/><ellipse cx="225.3" cy="834" rx="2.7" ry="2.2"/><ellipse cx="232.3" cy="824" rx="2.7" ry="2.2"/><ellipse cx="239" cy="805" rx="2.7" ry="2.2"/><ellipse cx="243.7" cy="777.3" rx="2.7" ry="2.2"/><ellipse cx="248.3" cy="810" rx="2.7" ry="2.2"/><ellipse cx="253.3" cy="820.7" rx="2.7" ry="2.2"/><ellipse cx="258" cy="794" rx="2.7" ry="2.2"/><ellipse cx="263" cy="764" rx="2.7" ry="2.2"/><ellipse cx="267.7" cy="860.7" rx="2.7" ry="2.2"/><ellipse cx="272.7" cy="825.3" rx="2.7" ry="2.2"/><ellipse cx="277.3" cy="847.3" rx="2.7" ry="2.2"/><ellipse cx="282.3" cy="863.3" rx="2.7" ry="2.2"/><ellipse cx="287" cy="878.3" rx="2.7" ry="2.2"/><ellipse cx="291.7" cy="867.3" rx="2.7" ry="2.2"/><ellipse cx="296.3" cy="868.3" rx="2.7" ry="2.2"/><ellipse cx="301" cy="856" rx="2.7" ry="2.2"/><ellipse cx="306" cy="849.3" rx="2.7" ry="2.2"/><ellipse cx="310.7" cy="869.3" rx="2.7" ry="2.2"/><ellipse cx="315.7" cy="872.7" rx="2.7" ry="2.2"/><ellipse cx="320.7" cy="868.3" rx="2.7" ry="2.2"/><ellipse cx="325.7" cy="870" rx="2.7" ry="2.2"/><ellipse cx="330" cy="886.7" rx="2.7" ry="2.2"/><ellipse cx="335" cy="880.7" rx="2.7" ry="2.2"/><ellipse cx="339.3" cy="898.3" rx="2.7" ry="2.2"/><ellipse cx="344.3" cy="915.7" rx="2.7" ry="2.2"/><ellipse cx="349.3" cy="928.3" rx="2.7" ry="2.2"/><ellipse cx="353" cy="938.3" rx="2.7" ry="2.2"/><ellipse cx="356.3" cy="882.7" rx="2.7" ry="2.2"/><ellipse cx="360" cy="911.7" rx="2.7" ry="2.2"/><ellipse cx="363.3" cy="903.3" rx="2.7" ry="2.2"/><ellipse cx="366.7" cy="887.7" rx="2.7" ry="2.2"/><ellipse cx="371" cy="886.7" rx="2.7" ry="2.2"/><ellipse cx="377.7" cy="905" rx="2.7" ry="2.2"/><ellipse cx="381.7" cy="925" rx="2.7" ry="2.2"/><ellipse cx="384.7" cy="917.3" rx="2.7" ry="2.2"/><ellipse cx="388" cy="953.3" rx="2.7" ry="2.2"/><ellipse cx="398.3" cy="948.3" rx="2.7" ry="2.2"/><ellipse cx="407.3" cy="946.7" rx="2.7" ry="2.2"/><ellipse cx="417.7" cy="964" rx="2.7" ry="2.2"/><ellipse cx="428.3" cy="968.7" rx="2.7" ry="2.2"/><ellipse cx="436.7" cy="960" rx="2.7" ry="2.2"/><ellipse cx="445" cy="932.7" rx="2.7" ry="2.2"/><ellipse cx="453.3" cy="920" rx="2.7" ry="2.2"/><ellipse cx="461.7" cy="908.3" rx="2.7" ry="2.2"/><ellipse cx="478.3" cy="942.7" rx="2.7" ry="2.2"/><ellipse cx="486.7" cy="927.3" rx="2.7" ry="2.2"/><ellipse cx="495" cy="928.3" rx="2.7" ry="2.2"/><ellipse cx="503.3" cy="934" rx="2.7" ry="2.2"/><ellipse cx="511.7" cy="948.3" rx="2.7" ry="2.2"/><ellipse cx="520" cy="932" rx="2.7" ry="2.2"/><ellipse cx="528.3" cy="950" rx="2.7" ry="2.2"/><ellipse cx="536.7" cy="941" rx="2.7" ry="2.2"/><ellipse cx="545" cy="944.3" rx="2.7" ry="2.2"/><ellipse cx="554" cy="940" rx="2.7" ry="2.2"/><ellipse cx="562.3" cy="942.7" rx="2.7" ry="2.2"/><ellipse cx="570.7" cy="949.3" rx="2.7" ry="2.2"/><ellipse cx="578.7" cy="967.3" rx="2.7" ry="2.2"/><ellipse cx="587" cy="934.3" rx="2.7" ry="2.2"/><ellipse cx="595.3" cy="970" rx="2.7" ry="2.2"/><ellipse cx="603.7" cy="959" rx="2.7" ry="2.2"/><ellipse cx="612.3" cy="963.3" rx="2.7" ry="2.2"/><ellipse cx="620.7" cy="945.3" rx="2.7" ry="2.2"/><ellipse cx="629" cy="978.7" rx="2.7" ry="2.2"/><ellipse cx="637.3" cy="949" rx="2.7" ry="2.2"/><ellipse cx="645.7" cy="940" rx="2.7" ry="2.2"/><ellipse cx="654" cy="934.3" rx="2.7" ry="2.2"/><ellipse cx="662" cy="986.7" rx="2.7" ry="2.2"/><ellipse cx="670" cy="960" rx="2.7" ry="2.2"/><ellipse cx="678.3" cy="954" rx="2.7" ry="2.2"/><ellipse cx="686.3" cy="945.3" rx="2.7" ry="2.2"/><ellipse cx="694.7" cy="945.7" rx="2.7" ry="2.2"/><ellipse cx="702.7" cy="948.3" rx="2.7" ry="2.2"/><ellipse cx="711" cy="946.7" rx="2.7" ry="2.2"/><ellipse cx="719.3" cy="923.3" rx="2.7" ry="2.2"/><ellipse cx="727.3" cy="895" rx="2.7" ry="2.2"/><ellipse cx="735.3" cy="892.3" rx="2.7" ry="2.2"/><ellipse cx="743.3" cy="903.3" rx="2.7" ry="2.2"/><ellipse cx="751.7" cy="927.7" rx="2.7" ry="2.2"/><ellipse cx="760" cy="935.7" rx="2.7" ry="2.2"/><ellipse cx="765.3" cy="951" rx="2.7" ry="2.2"/><ellipse cx="771.3" cy="929" rx="2.7" ry="2.2"/><ellipse cx="777" cy="917.7" rx="2.7" ry="2.2"/><ellipse cx="783.3" cy="923.3" rx="2.7" ry="2.2"/><ellipse cx="788.7" cy="923.7" rx="2.7" ry="2.2"/><ellipse cx="794.3" cy="917.3" rx="2.7" ry="2.2"/><ellipse cx="806" cy="937.7" rx="2.7" ry="2.2"/><ellipse cx="817.7" cy="908.3" rx="2.7" ry="2.2"/><ellipse cx="823.3" cy="898.3" rx="2.7" ry="2.2"/><ellipse cx="829" cy="920.7" rx="2.7" ry="2.2"/><ellipse cx="835" cy="944" rx="2.7" ry="2.2"/><ellipse cx="840.7" cy="969.3" rx="2.7" ry="2.2"/><ellipse cx="846.7" cy="905.3" rx="2.7" ry="2.2"/><ellipse cx="852.3" cy="898.3" rx="2.7" ry="2.2"/><ellipse cx="858.3" cy="897.3" rx="2.7" ry="2.2"/><ellipse cx="864" cy="886.7" rx="2.7" ry="2.2"/><ellipse cx="870" cy="898.3" rx="2.7" ry="2.2"/><ellipse cx="875.7" cy="894.3" rx="2.7" ry="2.2"/><ellipse cx="881.7" cy="894" rx="2.7" ry="2.2"/><ellipse cx="887.3" cy="925" rx="2.7" ry="2.2"/><ellipse cx="893" cy="960.7" rx="2.7" ry="2.2"/><ellipse cx="898.7" cy="954" rx="2.7" ry="2.2"/><ellipse cx="903.3" cy="968.3" rx="2.7" ry="2.2"/><ellipse cx="909" cy="979" rx="2.7" ry="2.2"/><ellipse cx="914" cy="976" rx="2.7" ry="2.2"/><ellipse cx="919" cy="966" rx="2.7" ry="2.2"/><ellipse cx="924" cy="929.3" rx="2.7" ry="2.2"/><ellipse cx="929" cy="914" rx="2.7" ry="2.2"/><ellipse cx="934" cy="931" rx="2.7" ry="2.2"/><ellipse cx="939" cy="904" rx="2.7" ry="2.2"/><ellipse cx="944" cy="942.3" rx="2.7" ry="2.2"/><ellipse cx="949" cy="891" rx="2.7" ry="2.2"/><ellipse cx="954" cy="914" rx="2.7" ry="2.2"/><ellipse cx="959" cy="889" rx="2.7" ry="2.2"/><ellipse cx="963.3" cy="884" rx="2.7" ry="2.2"/><ellipse cx="968.3" cy="876.7" rx="2.7" ry="2.2"/><ellipse cx="974" cy="872.3" rx="2.7" ry="2.2"/><ellipse cx="979.3" cy="873.3" rx="2.7" ry="2.2"/><ellipse cx="984.3" cy="875" rx="2.7" ry="2.2"/><ellipse cx="989.3" cy="879.3" rx="2.7" ry="2.2"/><ellipse cx="995" cy="886.7" rx="2.7" ry="2.2"/><ellipse cx="999.3" cy="910" rx="2.7" ry="2.2"/><ellipse cx="1004.3" cy="932.3" rx="2.7" ry="2.2"/><ellipse cx="1011" cy="960.7" rx="2.7" ry="2.2"/><ellipse cx="1016" cy="950.7" rx="2.7" ry="2.2"/><ellipse cx="1022.7" cy="939" rx="2.7" ry="2.2"/><ellipse cx="1029.3" cy="932.7" rx="2.7" ry="2.2"/><ellipse cx="1035.7" cy="940" rx="2.7" ry="2.2"/><ellipse cx="1042.3" cy="924" rx="2.7" ry="2.2"/><ellipse cx="1048" cy="893.3" rx="2.7" ry="2.2"/><ellipse cx="1054" cy="887.7" rx="2.7" ry="2.2"/><ellipse cx="1060" cy="888.3" rx="2.7" ry="2.2"/><ellipse cx="1066.7" cy="892.3" rx="2.7" ry="2.2"/><ellipse cx="1072.7" cy="910.7" rx="2.7" ry="2.2"/><ellipse cx="1079" cy="904" rx="2.7" ry="2.2"/><ellipse cx="1085.3" cy="909" rx="2.7" ry="2.2"/><ellipse cx="1091.7" cy="885" rx="2.7" ry="2.2"/><ellipse cx="1097.3" cy="932.7" rx="2.7" ry="2.2"/><ellipse cx="1101.7" cy="947.7" rx="2.7" ry="2.2"/><ellipse cx="1106" cy="935.7" rx="2.7" ry="2.2"/><ellipse cx="1110" cy="946.7" rx="2.7" ry="2.2"/><ellipse cx="1114.3" cy="1001.7" rx="2.7" ry="2.2"/><ellipse cx="1118.3" cy="964" rx="2.7" ry="2.2"/><ellipse cx="1122.3" cy="940" rx="2.7" ry="2.2"/><ellipse cx="1127" cy="984" rx="2.7" ry="2.2"/><ellipse cx="1134.7" cy="940.7" rx="2.7" ry="2.2"/><ellipse cx="1138.7" cy="951.7" rx="2.7" ry="2.2"/><ellipse cx="1142.7" cy="929" rx="2.7" ry="2.2"/><ellipse cx="1147" cy="922.7" rx="2.7" ry="2.2"/><ellipse cx="1151.3" cy="919.3" rx="2.7" ry="2.2"/><ellipse cx="1155.3" cy="941" rx="2.7" ry="2.2"/><ellipse cx="1162.3" cy="950.7" rx="2.7" ry="2.2"/><ellipse cx="1169.3" cy="949.3" rx="2.7" ry="2.2"/><ellipse cx="1176.7" cy="996.7" rx="2.7" ry="2.2"/><ellipse cx="1183.3" cy="930.7" rx="2.7" ry="2.2"/><ellipse cx="1190.7" cy="934" rx="2.7" ry="2.2"/><ellipse cx="1198.3" cy="944.3" rx="2.7" ry="2.2"/><ellipse cx="1205" cy="943.3" rx="2.7" ry="2.2"/><ellipse cx="1212" cy="929" rx="2.7" ry="2.2"/><ellipse cx="1219.3" cy="946.7" rx="2.7" ry="2.2"/><ellipse cx="1226" cy="959" rx="2.7" ry="2.2"/><ellipse cx="1233.3" cy="951.7" rx="2.7" ry="2.2"/><ellipse cx="1240" cy="947.7" rx="2.7" ry="2.2"/><ellipse cx="1247.3" cy="932.3" rx="2.7" ry="2.2"/><ellipse cx="1255" cy="937.3" rx="2.7" ry="2.2"/></g>
<polyline fill="none" stroke="#42a2e8" stroke-width="2.8" stroke-linejoin="round" stroke-linecap="round" points="169,1169.3 171.7,1164 173.3,1145 175,1128.3 176.7,1146.7 178.3,1166.7 180.3,1173.3 183.3,1172.3 186,1171.7 188.3,1165 190.7,1166 192.7,1162.7 195,1150 197.3,1141.7 200,1141.7 202.7,1140 204.3,1138.3 206,1123.3 207.7,1138.3 210,1142.7 212.3,1126.7 214.3,1117.3 216.3,1131.7 218.3,1100 220.7,1081 222.3,1106.7 224,1113.3 226,1116 228.3,1106.7 230,1088.3 231.3,1080 232.7,1091.7 234.3,1102.7 236,1083.3 238.3,1081.7 240.7,1071.7 243.3,1060 245.7,1065 247.7,1040 250,1076.7 252.3,1066.7 254.3,1076.7 256.7,1040 259.3,1039.3 261.7,1050 264.3,1066.7 266.7,1031.7 269.3,1005 272.7,1011.7 276,1020 277.7,1080 279.3,1129.3 281,1123.3 282.7,1060 284.3,1029.3 286,1056.7 287.7,1073.3 290,1106.7 292,1128.3 293.7,1131.7 295.3,1058.3 297.7,1059 300,1086 303.3,1078.3 306.7,1074 310,1078.3 313.3,1068.3 316,1071.7 318.3,1090 320.7,1105.7 322.7,1081.7 325,1085 327.3,1071.7 329,1075 330.7,1118.3 332.3,1080 334,1083.3 335.7,1126.7 337.3,1136.7 339.3,1116.7 341,1126.7 342.7,1158.3 345,1116.7 346.7,1153.3 349.3,1163.3 351.7,1117.3 354,1140 356,1093.3 357.7,1076.7 359.3,1126.7 361,1123.3 362.7,1130 364.3,1111.7 366,1116.7 368.3,1093.3 370,1076.7 372.3,1059 374,1083.3 376,1071.7 377.7,1091.7 379.3,1095 381,1105 382.7,1093.3 385,1083.3 387.3,1086.7 389,1096.7 390.7,1126.7 392.7,1150 394.3,1166.7 396,1170 398.3,1146.7 400,1156.7 402.3,1176 404,1150 406,1169.3 408.3,1156.7 409.7,1146 411.3,1176.7 413.3,1217.3 415.7,1171.7 420,1165 423.3,1161.7 425.7,1122.3 427.7,1160 430,1151.7 432.7,1156.7 435,1163.3 437.3,1173.3 440,1236.7 441.7,1173.3 443.3,1153.3 445.7,1150 447.7,1185 449.7,1163.3 451.7,1146.7 453.3,1145 455.7,1153.3 457.3,1150 459.3,1173.3 462,1183.3 465,1171.7 468.3,1172.7 470.7,1168.3 472.3,1141.7 473.7,1133.3 475.3,1161.7 478.3,1171.7 481.7,1170 484,1183.3 486.7,1199 490.7,1178.3 492.7,1177.7 494.3,1186 497.3,1177.7 501.7,1190 503.3,1189.3 505,1186.7 509.3,1190.7 513.3,1196.7 516.7,1190.7 519.3,1193.3 521.7,1192.3 527.3,1198.3 530.7,1196.7 534,1188.3 538.3,1194.3 540.7,1194.3 543.3,1185 546.7,1195 550.7,1197.3 556,1185 565,1176.7 572.7,1159 578.3,1125.7 583.3,1187.3 603.3,1091 606,1098.3 610,1127.7 616.7,1134 621,1140 631.7,1105 636,1081.7 640.7,1066.7 643.7,1061 646.7,1061.7 651,1057.3 654,1064 657.3,1068.3 660,1070 668.3,1085.7 676.7,1121 682.7,1063.3 686,1045.7 692.7,1046.7 698.3,1060 703.3,1068.3 712.3,1092.7 722.7,1105.7 740.7,1119 764.7,1156.7 775,1141.7 779.3,1137.3 794.3,1114.3 804,1090 810,1080 842,1087.3 899.7,1075 952.7,1045.3 1050,1082.3 1110.7,1124.3 1173.3,1157.7 1190,1163.3 1240,1159 1256,1160.7"/>
<polyline fill="none" stroke="#ed4c10" stroke-width="2.75" stroke-linejoin="round" stroke-linecap="round" points="158,1355 159.3,1343.3 160.7,1300 162,1250 163.3,1234 164.7,1238.3 165.7,1258.3 167,1261.7 168,1261.7 169.3,1293.3 171,1326.7 172.7,1346.7 174.3,1356 176,1355 178.7,1360 180.3,1340 182,1315 183.3,1310 185,1323.3 186.7,1340 188.3,1345 190,1333.3 191.3,1326 192.7,1356.7 194,1340 195,1328.3 196,1346.7 197.3,1306.7 198.7,1280 199.7,1286.7 201,1311.7 202.3,1319.3 204,1300 206,1281.7 208,1268.3 210,1266 212,1276.7 214.3,1268.3 216.7,1263.3 218.3,1250 220,1247.7 222.7,1247.3 225.3,1240 228,1227.3 230,1229.3 232.3,1240 235,1250 237.3,1245 240,1239.3 242.3,1235 244.7,1245 247,1246.7 248.7,1261.7 250,1271.7 251.7,1273.3 253.3,1283.3 255.3,1275 258.3,1271.7 261,1266.7 263.3,1273.3 265.3,1261.7 267.3,1255 269.3,1265 271,1275 272.7,1280 274.7,1271.7 276.7,1261.7 278.7,1275 280.3,1286.7 282,1292.7 283.7,1280 286,1257.3 287.7,1275 289.3,1281.7 291.7,1280 294,1271.7 296,1256.7 298,1263.3 299.7,1274 301.7,1256.7 303.3,1249.3 305,1260 306.7,1283.3 308.7,1246.7 310.7,1228.3 312.7,1240 314.7,1255 316.7,1271.7 319,1290 321,1283.3 322.7,1278.3 325,1288.3 327.3,1303.3 329.3,1320.7 331.7,1300.7 333.3,1315 335,1330 336.7,1320 338,1317.3 340,1340 342,1356.7 344.3,1363.3 347.7,1370 351,1365 353.3,1360 356.7,1346.7 359.3,1335 361.7,1340 363.3,1346.7 365.3,1326.7 367.7,1305 369.3,1316.7 371,1333.3 372.7,1344.3 374.7,1336.7 376.7,1322.3 379,1325 381,1353.3 383.3,1381.7 385.7,1389.3 388.3,1381.7 390.7,1356.7 393.3,1334.3 396,1348.3 399.3,1373.3 402.7,1398.3 405.7,1416 408,1386.7 410,1361.7 412,1355 414.3,1360 416.7,1374.3 419,1363.3 421,1361 422.7,1366.7 424.3,1395 426.3,1414.3 429.3,1408.3 432.7,1386.7 436,1360 440,1347.7 444,1353.3 447.3,1359.3 449.7,1360 452.7,1365 455.3,1348.3 458,1339.3 461.3,1348.3 464,1366.7 467.3,1382.7 470.7,1390 473.3,1373.3 476.7,1335 481.7,1320.7 486,1336.7 489.3,1346.7 491.7,1356.7 494.3,1317.3 497.3,1330 500.7,1347.7 505,1348.3 507.3,1347.7 509,1339.3 511,1337.3 513.3,1333.3 516,1353.3 519,1378.3 523.3,1380.7 526.7,1386 530,1371.7 532.7,1360 535.3,1356 539.3,1364 542.7,1381.7 546,1396.7 548.3,1384 554,1389.3 557.3,1396 563.3,1392.7 570.7,1367.7 579,1340 582.3,1340.7 585.7,1345 594.3,1366.7 606.7,1360 612.7,1359 619,1365.7 626.7,1352.7 632.7,1341.7 635,1326 640.7,1331 644,1342.7 653.3,1346.7 666,1316.7 671.7,1351.7 674,1356 680,1375.7 690,1400 693.3,1402.3 702.3,1416.7 710,1445 713.3,1450 719.3,1444.3 724.7,1416 729.3,1408.3 731.3,1410.7 736.7,1376.7 739.3,1369.3 741.7,1356.7 746,1354 747.7,1356.7 757.3,1351.7 764,1335.7 776.7,1342.3 786.7,1334 791.7,1335 803.3,1331 811.7,1334.3 820,1335.7 830,1324 838.3,1313.3 847.3,1306 853.3,1310 859.3,1319.3 864,1323.3 869.3,1319 876.7,1320 885,1323.3 893.3,1332.3 899.7,1342.7 905,1353.3 911.7,1364.3 916.7,1364.3 921.7,1362.7 927.3,1358.3 932.3,1354.3 936.7,1355.3 941.7,1358.3 947.7,1360 952.7,1358.7 956.7,1351.7 960,1345 963.3,1344.3 968.3,1346 971.7,1351.7 975,1361.7 979,1375 983.3,1388.3 988.3,1398.3 993.3,1401.7 999,1399 1004,1395 1009,1390 1013.3,1391.7 1018.3,1399 1023.3,1413.3 1029,1419.3 1033.3,1412.3 1038.3,1413.3 1043.3,1415 1053.3,1398.3 1063.3,1396 1083.3,1386 1101,1386 1113.3,1394.3 1120,1398 1130,1398.3 1148.3,1390.7 1156.7,1391 1176.7,1405 1185,1405 1194,1402.3 1198.3,1406 1203.3,1407.3 1213.3,1418.3 1221.3,1427.7 1230,1420.7 1240,1401.7 1248.3,1389 1256.7,1382.7"/>
<path d="M155.7,256.5V635.5M155.7,257.6h-12M155.7,320.4h-12M155.7,383.2h-12M155.7,446h-12M155.7,508.8h-12M155.7,571.6h-12M155.7,634.4h-12M155.7,289h-5.8M155.7,351.8h-5.8M155.7,414.6h-5.8M155.7,477.4h-5.8M155.7,540.2h-5.8M155.7,603h-5.8M155.7,726.6V1046.8M155.7,727.7h-12M155.7,807.2h-12M155.7,886.7h-12M155.7,966.2h-12M155.7,1045.7h-12M155.7,767.5h-5.8M155.7,847h-5.8M155.7,926.5h-5.8M155.7,1006h-5.8M155.7,1082.2V1561.8M155.7,1120h-12M155.7,1193.5h-12M155.7,1266.9h-12M155.7,1340.3h-12M155.7,1413.8h-12M155.7,1487.2h-12M155.7,1560.7h-12M155.7,1083.3h-5.8M155.7,1156.7h-5.8M155.7,1230.2h-5.8M155.7,1303.6h-5.8M155.7,1377.1h-5.8M155.7,1450.5h-5.8M155.7,1524h-5.8M1257.1,12.1V416.8M1257.1,13.2h12M1257.1,70.7h12M1257.1,128.2h12M1257.1,185.7h12M1257.1,243.2h12M1257.1,300.7h12M1257.1,358.2h12M1257.1,415.7h12M1257.1,42h5.8M1257.1,99.4h5.8M1257.1,156.9h5.8M1257.1,214.4h5.8M1257.1,271.9h5.8M1257.1,329.4h5.8M1257.1,386.9h5.8M1257.1,508.9V905.4M1257.1,510h12M1257.1,566.3h12M1257.1,622.7h12M1257.1,679h12M1257.1,735.3h12M1257.1,791.6h12M1257.1,848h12M1257.1,904.3h12M1257.1,538.2h5.8M1257.1,594.5h5.8M1257.1,650.8h5.8M1257.1,707.1h5.8M1257.1,763.5h5.8M1257.1,819.8h5.8M1257.1,876.1h5.8M1257.1,958.9V1287.8M1257.1,960h12M1257.1,1014.5h12M1257.1,1068.9h12M1257.1,1123.3h12M1257.1,1177.8h12M1257.1,1232.2h12M1257.1,1286.7h12M1257.1,987.2h5.8M1257.1,1041.7h5.8M1257.1,1096.1h5.8M1257.1,1150.6h5.8M1257.1,1205h5.8M1257.1,1259.5h5.8M143.2,1560.9H1258.2M155.7,1560.9v12.3M171.4,1560.9v6.2M187.2,1560.9v6.2M202.9,1560.9v6.2M218.6,1560.9v6.2M234.4,1560.9v12.3M250.1,1560.9v6.2M265.8,1560.9v6.2M281.6,1560.9v6.2M297.3,1560.9v6.2M313,1560.9v12.3M328.8,1560.9v6.2M344.5,1560.9v6.2M360.2,1560.9v6.2M376,1560.9v6.2M391.7,1560.9v12.3M407.4,1560.9v6.2M423.2,1560.9v6.2M438.9,1560.9v6.2M454.7,1560.9v6.2M470.4,1560.9v12.3M486.1,1560.9v6.2M501.9,1560.9v6.2M517.6,1560.9v6.2M533.3,1560.9v6.2M549.1,1560.9v12.3M564.8,1560.9v6.2M580.5,1560.9v6.2M596.3,1560.9v6.2M612,1560.9v6.2M627.7,1560.9v12.3M643.5,1560.9v6.2M659.2,1560.9v6.2M674.9,1560.9v6.2M690.7,1560.9v6.2M706.4,1560.9v12.3M722.1,1560.9v6.2M737.9,1560.9v6.2M753.6,1560.9v6.2M769.3,1560.9v6.2M785.1,1560.9v12.3M800.8,1560.9v6.2M816.5,1560.9v6.2M832.3,1560.9v6.2M848,1560.9v6.2M863.7,1560.9v12.3M879.5,1560.9v6.2M895.2,1560.9v6.2M910.9,1560.9v6.2M926.7,1560.9v6.2M942.4,1560.9v12.3M958.1,1560.9v6.2M973.9,1560.9v6.2M989.6,1560.9v6.2M1005.4,1560.9v6.2M1021.1,1560.9v12.3M1036.8,1560.9v6.2M1052.6,1560.9v6.2M1068.3,1560.9v6.2M1084,1560.9v6.2M1099.8,1560.9v12.3M1115.5,1560.9v6.2M1131.2,1560.9v6.2M1147,1560.9v6.2M1162.7,1560.9v6.2M1178.4,1560.9v12.3M1194.2,1560.9v6.2M1209.9,1560.9v6.2M1225.6,1560.9v6.2M1241.4,1560.9v6.2M1257.1,1560.9v12.3" stroke="#000" stroke-width="2.4" fill="none"/>
<text class="tk" transform="translate(136.5,264.8) scale(1,1.03)" text-anchor="end">-3</text>
<text class="tk" transform="translate(136.5,327.6) scale(1,1.03)" text-anchor="end">-2</text>
<text class="tk" transform="translate(136.5,390.4) scale(1,1.03)" text-anchor="end">-1</text>
<text class="tk" transform="translate(136.5,453.2) scale(1,1.03)" text-anchor="end">0</text>
<text class="tk" transform="translate(136.5,516) scale(1,1.03)" text-anchor="end">1</text>
<text class="tk" transform="translate(136.5,578.8) scale(1,1.03)" text-anchor="end">2</text>
<text class="tk" transform="translate(136.5,641.6) scale(1,1.03)" text-anchor="end">3</text>
<text class="tk" transform="translate(136.5,734.9) scale(1,1.03)" text-anchor="end">2</text>
<text class="tk" transform="translate(136.5,814.4) scale(1,1.03)" text-anchor="end">1</text>
<text class="tk" transform="translate(136.5,893.9) scale(1,1.03)" text-anchor="end">0</text>
<text class="tk" transform="translate(136.5,973.4) scale(1,1.03)" text-anchor="end">-1</text>
<text class="tk" transform="translate(136.5,1052.9) scale(1,1.03)" text-anchor="end">-2</text>
<text class="tk" transform="translate(136.5,1127.2) scale(1,1.03)" text-anchor="end">2000</text>
<text class="tk" transform="translate(136.5,1200.7) scale(1,1.03)" text-anchor="end">1800</text>
<text class="tk" transform="translate(136.5,1274.1) scale(1,1.03)" text-anchor="end">1600</text>
<text class="tk" transform="translate(136.5,1347.5) scale(1,1.03)" text-anchor="end">1400</text>
<text class="tk" transform="translate(136.5,1421) scale(1,1.03)" text-anchor="end">1200</text>
<text class="tk" transform="translate(136.5,1494.5) scale(1,1.03)" text-anchor="end">1000</text>
<text class="tk" transform="translate(136.5,1567.9) scale(1,1.03)" text-anchor="end">800</text>
<text class="tk" transform="translate(1274.5,21.2) scale(1,1.03)" text-anchor="start">800</text>
<text class="tk" transform="translate(1274.5,78.7) scale(1,1.03)" text-anchor="start">700</text>
<text class="tk" transform="translate(1274.5,136.2) scale(1,1.03)" text-anchor="start">600</text>
<text class="tk" transform="translate(1274.5,193.7) scale(1,1.03)" text-anchor="start">500</text>
<text class="tk" transform="translate(1274.5,251.2) scale(1,1.03)" text-anchor="start">400</text>
<text class="tk" transform="translate(1274.5,308.7) scale(1,1.03)" text-anchor="start">300</text>
<text class="tk" transform="translate(1274.5,366.2) scale(1,1.03)" text-anchor="start">200</text>
<text class="tk" transform="translate(1274.5,423.7) scale(1,1.03)" text-anchor="start">100</text>
<text class="tk" transform="translate(1274.5,518) scale(1,1.03)" text-anchor="start">-3</text>
<text class="tk" transform="translate(1274.5,574.3) scale(1,1.03)" text-anchor="start">-2</text>
<text class="tk" transform="translate(1274.5,630.7) scale(1,1.03)" text-anchor="start">-1</text>
<text class="tk" transform="translate(1274.5,687) scale(1,1.03)" text-anchor="start">0</text>
<text class="tk" transform="translate(1274.5,743.3) scale(1,1.03)" text-anchor="start">1</text>
<text class="tk" transform="translate(1274.5,799.6) scale(1,1.03)" text-anchor="start">2</text>
<text class="tk" transform="translate(1274.5,856) scale(1,1.03)" text-anchor="start">3</text>
<text class="tk" transform="translate(1274.5,912.3) scale(1,1.03)" text-anchor="start">4</text>
<text class="tk" transform="translate(1274.5,968) scale(1,1.03)" text-anchor="start">-3</text>
<text class="tk" transform="translate(1274.5,1022.5) scale(1,1.03)" text-anchor="start">-2</text>
<text class="tk" transform="translate(1274.5,1076.9) scale(1,1.03)" text-anchor="start">-1</text>
<text class="tk" transform="translate(1274.5,1131.3) scale(1,1.03)" text-anchor="start">0</text>
<text class="tk" transform="translate(1274.5,1185.8) scale(1,1.03)" text-anchor="start">1</text>
<text class="tk" transform="translate(1274.5,1240.2) scale(1,1.03)" text-anchor="start">2</text>
<text class="tk" transform="translate(1274.5,1294.7) scale(1,1.03)" text-anchor="start">3</text>
<text class="tk" transform="translate(155.7,1601.5) scale(1,1.03)" text-anchor="middle">0</text>
<text class="tk" transform="translate(234.4,1601.5) scale(1,1.03)" text-anchor="middle">5</text>
<text class="tk" transform="translate(313,1601.5) scale(1,1.03)" text-anchor="middle">10</text>
<text class="tk" transform="translate(391.7,1601.5) scale(1,1.03)" text-anchor="middle">15</text>
<text class="tk" transform="translate(470.4,1601.5) scale(1,1.03)" text-anchor="middle">20</text>
<text class="tk" transform="translate(549.1,1601.5) scale(1,1.03)" text-anchor="middle">25</text>
<text class="tk" transform="translate(627.7,1601.5) scale(1,1.03)" text-anchor="middle">30</text>
<text class="tk" transform="translate(706.4,1601.5) scale(1,1.03)" text-anchor="middle">35</text>
<text class="tk" transform="translate(785.1,1601.5) scale(1,1.03)" text-anchor="middle">40</text>
<text class="tk" transform="translate(863.7,1601.5) scale(1,1.03)" text-anchor="middle">45</text>
<text class="tk" transform="translate(942.4,1601.5) scale(1,1.03)" text-anchor="middle">50</text>
<text class="tk" transform="translate(1021.1,1601.5) scale(1,1.03)" text-anchor="middle">55</text>
<text class="tk" transform="translate(1099.8,1601.5) scale(1,1.03)" text-anchor="middle">60</text>
<text class="tk" transform="translate(1178.4,1601.5) scale(1,1.03)" text-anchor="middle">65</text>
<text class="tk" transform="translate(1257.1,1601.5) scale(1,1.03)" text-anchor="middle">70</text>
<text class="ti" transform="translate(104,447) rotate(-90)" text-anchor="middle">Dust % (normalized)</text>
<text class="ti" transform="translate(103.7,886.5) rotate(-90)" text-anchor="middle" textLength="162.5" lengthAdjust="spacingAndGlyphs">Humidity Index</text>
<text class="ti" transform="translate(66.5,1334) rotate(-90)" text-anchor="middle">MAP (mm/yr)</text>
<text class="ti" transform="translate(1344,212) rotate(-90)" text-anchor="middle">MAP (mm/yr)</text>
<text class="ti" transform="translate(1326,705) rotate(-90)" text-anchor="middle">Dust flux (normalized)</text>
<text class="ti" transform="translate(1322.3,1126) rotate(-90)" text-anchor="middle">δD leaf wax (normalized)</text>
<text class="rg" transform="translate(21.7,171.5) rotate(-90)" text-anchor="middle" textLength="209.5" lengthAdjust="spacingAndGlyphs">West Mediterranean</text>
<text class="rg" transform="translate(21.7,775.2) rotate(-90)" text-anchor="middle" textLength="115" lengthAdjust="spacingAndGlyphs">West Africa</text>
<text class="rg" transform="translate(21.7,1366) rotate(-90)" text-anchor="middle" textLength="190" lengthAdjust="spacingAndGlyphs">Wes-Central Africa</text>
<text class="ti" x="712" y="1630" text-anchor="middle">Age (cal kyr BP)</text>
<text class="lb" x="230.7" y="122.8" text-anchor="middle">(a)</text>
<text class="lb" x="231.1" y="431.8" text-anchor="middle">(b)</text>
<text class="lb" x="230.9" y="690.7" text-anchor="middle">(c)</text>
<text class="lb" x="231.2" y="888.3" text-anchor="middle">(d)</text>
<text class="lb" x="231" y="1013.8" text-anchor="middle">(e)</text>
<text class="lb" x="230.9" y="1338" text-anchor="middle">(f)</text>
<text class="ev" x="265.3" y="1546">AHP</text>
<text class="ev" x="350.7" y="1546">YD</text>
<text class="ev" x="422.5" y="1546">HS1</text>
<text class="ev" x="535.3" y="1546">HS2</text>
<text class="ev" x="641" y="1546">HS3</text>
<text class="ev" x="778.3" y="1546">HS4</text>
<text class="ev" x="899.7" y="1546">HS5</text>
<text class="ev" x="1021" y="1546">HS5a</text>
<text class="ev" x="1132.3" y="1546">HS6</text>
<text class="sm" x="1182.6" y="223.6">444 mm/yr</text>
<text class="sm" x="1179.6" y="1252.7">1629 mm/yr</text>
<path d="M32.4,16.4V324.6" stroke="#333" stroke-width="2" fill="none"/>
<path d="M32.4,11.4l-8,14.5l8,-4l8,4z" fill="#333"/>
<path d="M32.4,329.6l-8,-14.5l8,4l8,-4z" fill="#333"/>
<path d="M32.4,343.9V1197" stroke="#333" stroke-width="2" fill="none"/>
<path d="M32.4,338.9l-8,14.5l8,-4l8,4z" fill="#333"/>
<path d="M32.4,1202l-8,-14.5l8,4l8,-4z" fill="#333"/>
<path d="M32.4,1218V1510" stroke="#333" stroke-width="2" fill="none"/>
<path d="M32.4,1213l-8,14.5l8,-4l8,4z" fill="#333"/>
<path d="M32.4,1515l-8,-14.5l8,4l8,-4z" fill="#333"/>
<polygon points="1257.2,221.5 1259.3,227.7 1265.8,227.7 1260.5,231.6 1262.5,237.8 1257.2,234 1251.9,237.8 1253.9,231.6 1248.6,227.7 1255.1,227.7" fill="#f6ea3c" stroke="#5c5a20" stroke-width="0.7"/>
<polygon points="155.7,1250.5 157.8,1256.7 164.3,1256.7 159,1260.6 161,1266.8 155.7,1263 150.4,1266.8 152.4,1260.6 147.1,1256.7 153.6,1256.7" fill="#f6ea3c" stroke="#5c5a20" stroke-width="0.7"/>
</svg></body></html>
